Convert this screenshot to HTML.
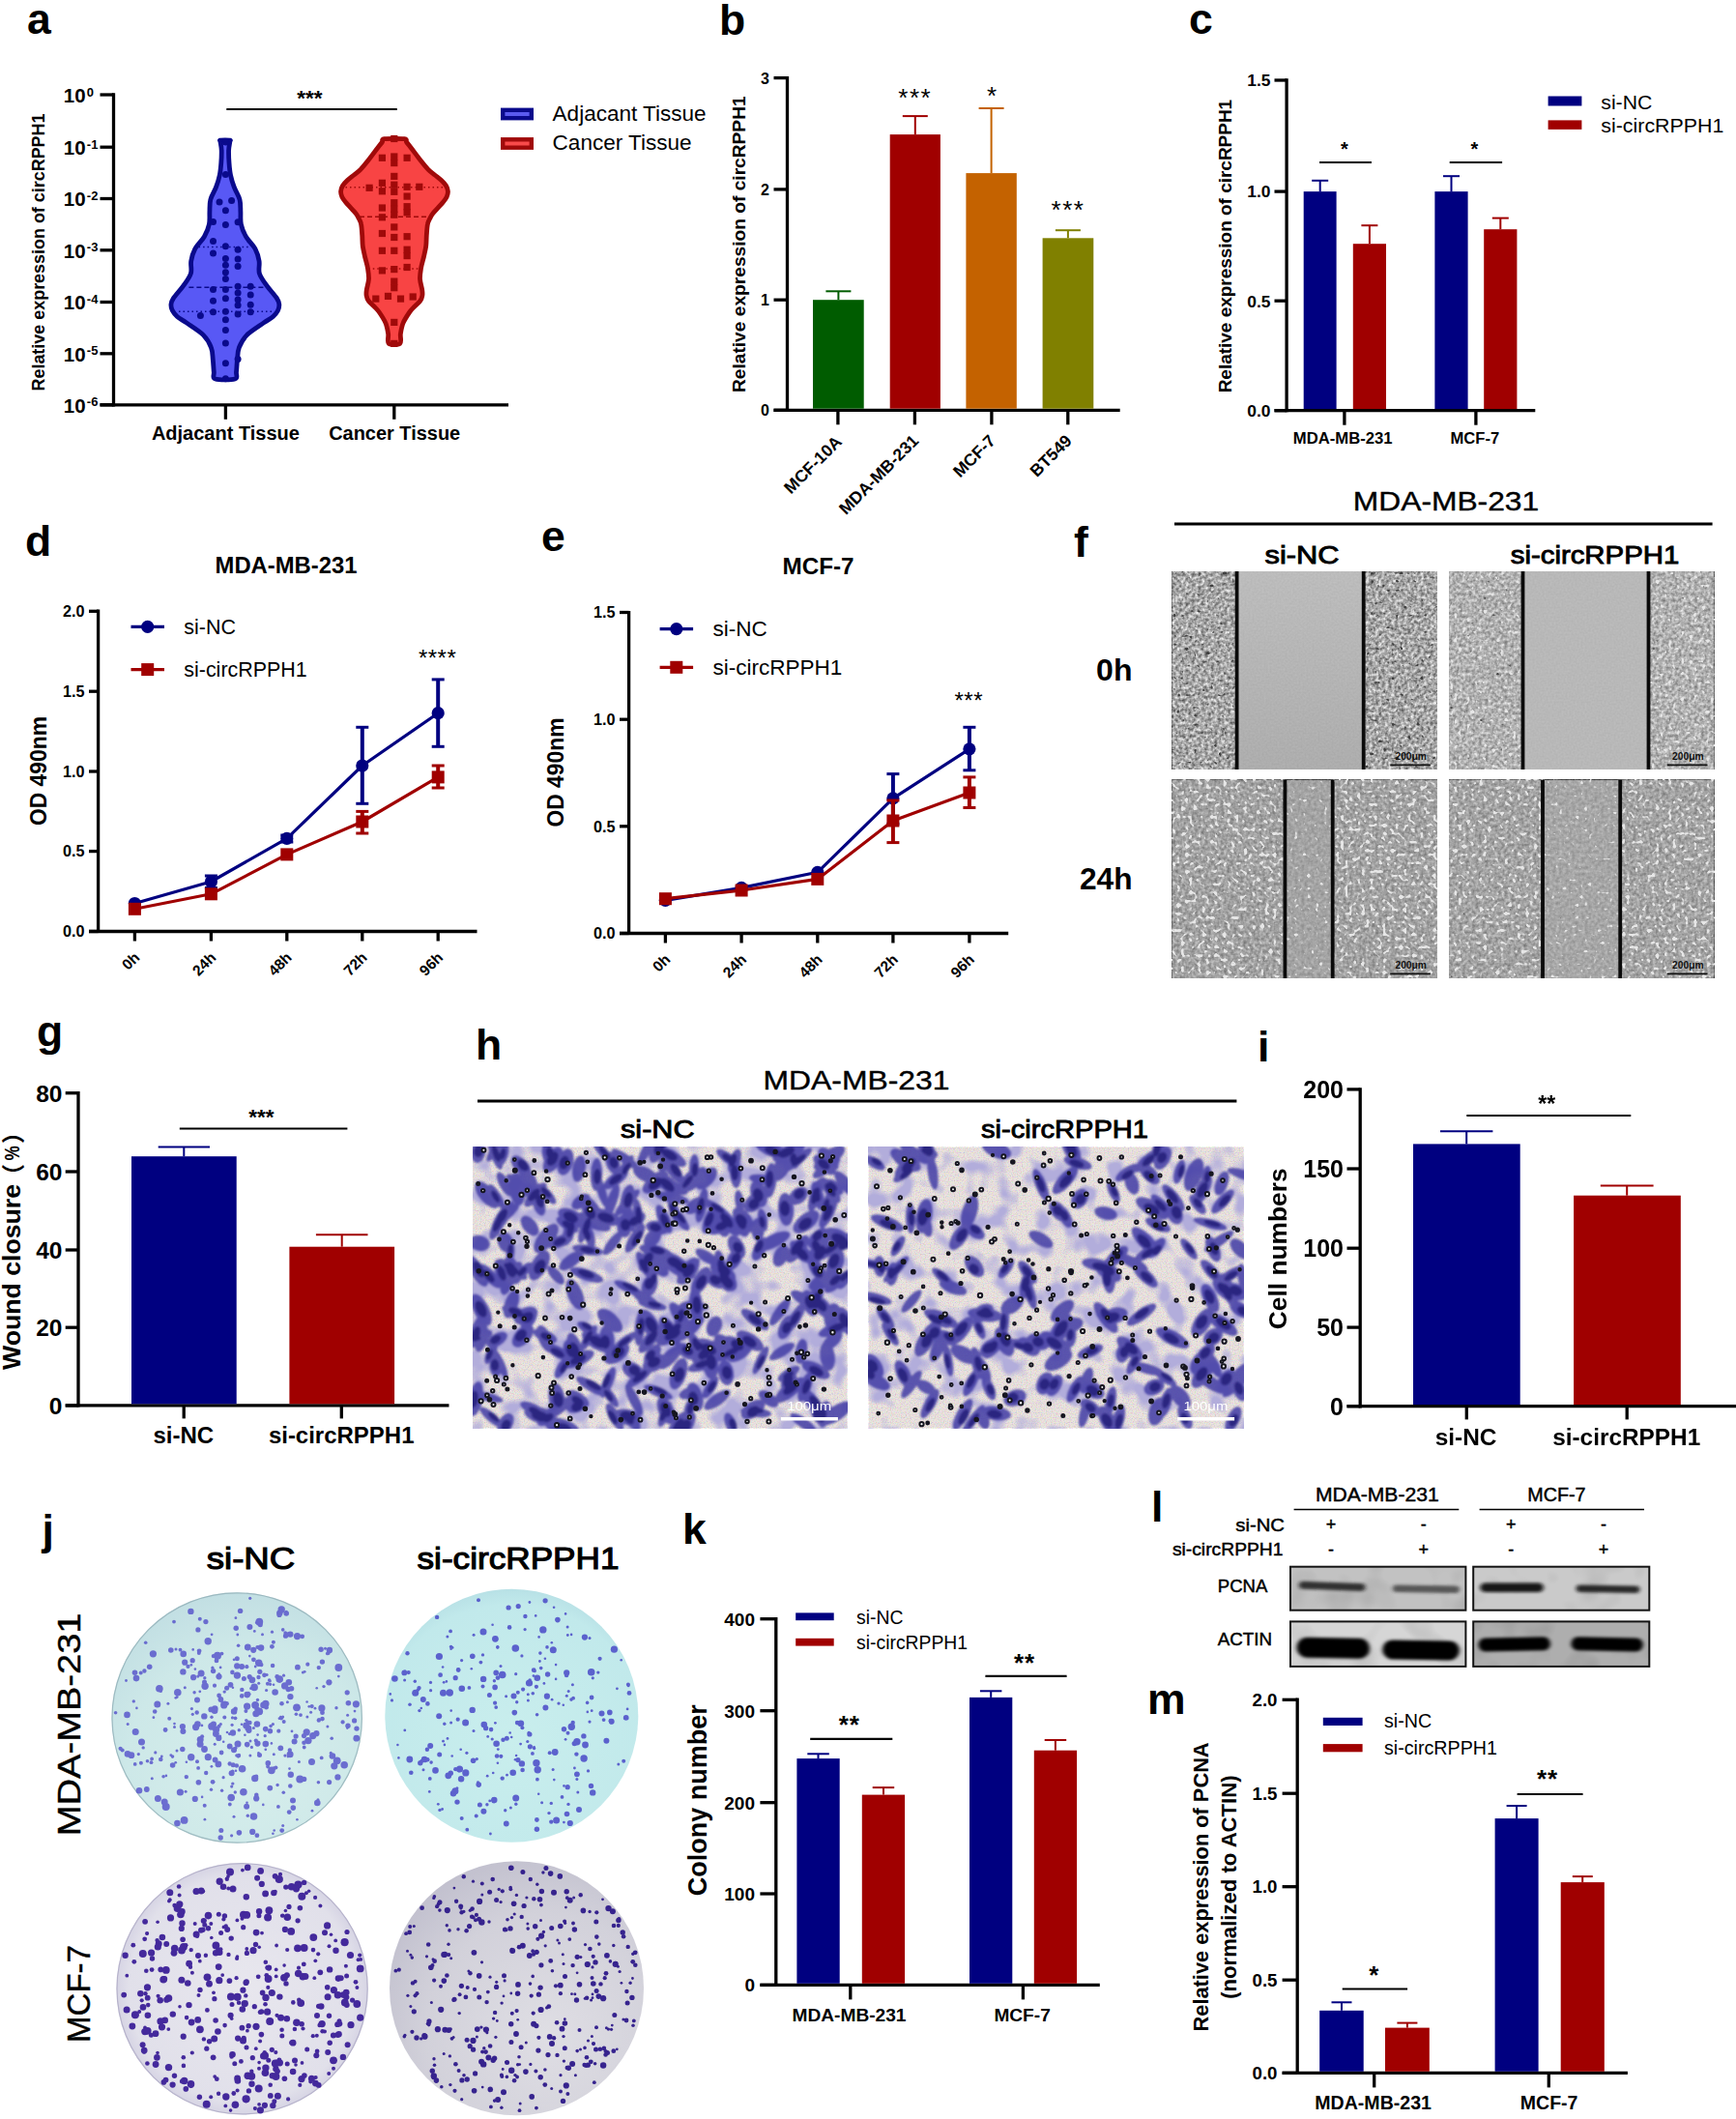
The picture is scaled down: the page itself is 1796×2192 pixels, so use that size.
<!DOCTYPE html>
<html><head><meta charset="utf-8"><title>Figure</title><style>html,body{margin:0;padding:0;background:#fff}svg{display:block}</style></head><body>
<svg width="1796" height="2192" viewBox="0 0 1796 2192" font-family="'Liberation Sans', sans-serif">
<defs><filter id="fA" x="0" y="0" width="100%" height="100%" color-interpolation-filters="sRGB">
<feTurbulence type="fractalNoise" baseFrequency="0.3" numOctaves="2" seed="1" result="n"/>
<feColorMatrix in="n" type="matrix" values="0.9 0 0 0 0.050 0.9 0 0 0 0.050 0.9 0 0 0 0.050 0 0 0 0 1" result="g"/>
<feComposite in="SourceGraphic" in2="g" operator="arithmetic" k1="0" k2="1" k3="1" k4="-0.5" result="base"/>
<feTurbulence type="fractalNoise" baseFrequency="0.23" numOctaves="1" seed="21" result="n2"/>
<feColorMatrix in="n2" type="matrix" values="0 0 0 0 0.9  0 0 0 0 0.9  0 0 0 0 0.9  12 0 0 0 -8.3" result="bright"/>
<feColorMatrix in="n2" type="matrix" values="0 0 0 0 0.25  0 0 0 0 0.25  0 0 0 0 0.25  0 -12 0 0 4.0" result="dark"/>
<feMerge><feMergeNode in="base"/><feMergeNode in="bright"/><feMergeNode in="dark"/></feMerge>
</filter>
<filter id="fB" x="0" y="0" width="100%" height="100%" color-interpolation-filters="sRGB">
<feTurbulence type="fractalNoise" baseFrequency="0.3" numOctaves="2" seed="2" result="n"/>
<feColorMatrix in="n" type="matrix" values="0.6 0 0 0 0.200 0.6 0 0 0 0.200 0.6 0 0 0 0.200 0 0 0 0 1" result="g"/>
<feComposite in="SourceGraphic" in2="g" operator="arithmetic" k1="0" k2="1" k3="1" k4="-0.5" result="base"/>
<feTurbulence type="fractalNoise" baseFrequency="0.23" numOctaves="1" seed="22" result="n2"/>
<feColorMatrix in="n2" type="matrix" values="0 0 0 0 0.9  0 0 0 0 0.9  0 0 0 0 0.9  12 0 0 0 -7.6" result="bright"/>
<feColorMatrix in="n2" type="matrix" values="0 0 0 0 0.25  0 0 0 0 0.25  0 0 0 0 0.25  0 -12 0 0 3.2" result="dark"/>
<feMerge><feMergeNode in="base"/><feMergeNode in="bright"/><feMergeNode in="dark"/></feMerge>
</filter>
<filter id="fC" x="0" y="0" width="100%" height="100%" color-interpolation-filters="sRGB">
<feTurbulence type="fractalNoise" baseFrequency="0.3" numOctaves="2" seed="3" result="n"/>
<feColorMatrix in="n" type="matrix" values="0.45 0 0 0 0.275 0.45 0 0 0 0.275 0.45 0 0 0 0.275 0 0 0 0 1" result="g"/>
<feComposite in="SourceGraphic" in2="g" operator="arithmetic" k1="0" k2="1" k3="1" k4="-0.5" result="base"/>
<feTurbulence type="fractalNoise" baseFrequency="0.23" numOctaves="1" seed="23" result="n2"/>
<feColorMatrix in="n2" type="matrix" values="0 0 0 0 0.9  0 0 0 0 0.9  0 0 0 0 0.9  12 0 0 0 -7.1" result="bright"/>
<feColorMatrix in="n2" type="matrix" values="0 0 0 0 0.25  0 0 0 0 0.25  0 0 0 0 0.25  0 -12 0 0 2.6" result="dark"/>
<feMerge><feMergeNode in="base"/><feMergeNode in="bright"/><feMergeNode in="dark"/></feMerge>
</filter>
<filter id="fD" x="0" y="0" width="100%" height="100%" color-interpolation-filters="sRGB">
<feTurbulence type="fractalNoise" baseFrequency="0.3" numOctaves="2" seed="4" result="n"/>
<feColorMatrix in="n" type="matrix" values="0.45 0 0 0 0.275 0.45 0 0 0 0.275 0.45 0 0 0 0.275 0 0 0 0 1" result="g"/>
<feComposite in="SourceGraphic" in2="g" operator="arithmetic" k1="0" k2="1" k3="1" k4="-0.5" result="base"/>
<feTurbulence type="fractalNoise" baseFrequency="0.23" numOctaves="1" seed="24" result="n2"/>
<feColorMatrix in="n2" type="matrix" values="0 0 0 0 0.9  0 0 0 0 0.9  0 0 0 0 0.9  12 0 0 0 -7.2" result="bright"/>
<feColorMatrix in="n2" type="matrix" values="0 0 0 0 0.25  0 0 0 0 0.25  0 0 0 0 0.25  0 -12 0 0 2.6" result="dark"/>
<feMerge><feMergeNode in="base"/><feMergeNode in="bright"/><feMergeNode in="dark"/></feMerge>
</filter>
<filter id="fAg" x="0" y="0" width="100%" height="100%" color-interpolation-filters="sRGB">
<feTurbulence type="fractalNoise" baseFrequency="0.5" numOctaves="1" seed="11" result="n"/>
<feColorMatrix in="n" type="matrix" values="0.06 0 0 0 0.470 0.06 0 0 0 0.470 0.06 0 0 0 0.470 0 0 0 0 1" result="g"/>
<feComposite in="SourceGraphic" in2="g" operator="arithmetic" k1="0" k2="1" k3="1" k4="-0.5"/>
</filter>
<filter id="fBg" x="0" y="0" width="100%" height="100%" color-interpolation-filters="sRGB">
<feTurbulence type="fractalNoise" baseFrequency="0.5" numOctaves="1" seed="12" result="n"/>
<feColorMatrix in="n" type="matrix" values="0.06 0 0 0 0.470 0.06 0 0 0 0.470 0.06 0 0 0 0.470 0 0 0 0 1" result="g"/>
<feComposite in="SourceGraphic" in2="g" operator="arithmetic" k1="0" k2="1" k3="1" k4="-0.5"/>
</filter>
<filter id="fCg" x="0" y="0" width="100%" height="100%" color-interpolation-filters="sRGB">
<feTurbulence type="fractalNoise" baseFrequency="0.3" numOctaves="2" seed="13" result="n"/>
<feColorMatrix in="n" type="matrix" values="0.25 0 0 0 0.375 0.25 0 0 0 0.375 0.25 0 0 0 0.375 0 0 0 0 1" result="g"/>
<feComposite in="SourceGraphic" in2="g" operator="arithmetic" k1="0" k2="1" k3="1" k4="-0.5" result="base"/>
<feTurbulence type="fractalNoise" baseFrequency="0.23" numOctaves="1" seed="33" result="n2"/>
<feColorMatrix in="n2" type="matrix" values="0 0 0 0 0.9  0 0 0 0 0.9  0 0 0 0 0.9  12 0 0 0 -7.9" result="bright"/>
<feColorMatrix in="n2" type="matrix" values="0 0 0 0 0.25  0 0 0 0 0.25  0 0 0 0 0.25  0 -12 0 0 2.4" result="dark"/>
<feMerge><feMergeNode in="base"/><feMergeNode in="bright"/><feMergeNode in="dark"/></feMerge>
</filter>
<filter id="fDg" x="0" y="0" width="100%" height="100%" color-interpolation-filters="sRGB">
<feTurbulence type="fractalNoise" baseFrequency="0.3" numOctaves="2" seed="14" result="n"/>
<feColorMatrix in="n" type="matrix" values="0.25 0 0 0 0.375 0.25 0 0 0 0.375 0.25 0 0 0 0.375 0 0 0 0 1" result="g"/>
<feComposite in="SourceGraphic" in2="g" operator="arithmetic" k1="0" k2="1" k3="1" k4="-0.5" result="base"/>
<feTurbulence type="fractalNoise" baseFrequency="0.23" numOctaves="1" seed="34" result="n2"/>
<feColorMatrix in="n2" type="matrix" values="0 0 0 0 0.9  0 0 0 0 0.9  0 0 0 0 0.9  12 0 0 0 -8.0" result="bright"/>
<feColorMatrix in="n2" type="matrix" values="0 0 0 0 0.25  0 0 0 0 0.25  0 0 0 0 0.25  0 -12 0 0 2.4" result="dark"/>
<feMerge><feMergeNode in="base"/><feMergeNode in="bright"/><feMergeNode in="dark"/></feMerge>
</filter>
<linearGradient id="gapg" x1="0" y1="0" x2="0" y2="1"><stop offset="0" stop-color="#bcbcbc"/><stop offset="1" stop-color="#adadad"/></linearGradient>
<filter id="hA" x="0" y="0" width="100%" height="100%" color-interpolation-filters="sRGB">
<feTurbulence type="fractalNoise" baseFrequency="0.8" numOctaves="1" seed="16" result="fine"/>
<feColorMatrix in="fine" type="matrix" values="0.55 0 0 0 0.72  0 0.55 0 0 0.70  0 0 0.45 0 0.74  0 0 0 0 1" result="fineg"/>
<feBlend in="SourceGraphic" in2="fineg" mode="multiply" result="bgd"/>
<feTurbulence type="fractalNoise" baseFrequency="0.04" numOctaves="2" seed="11" result="t"/>
<feColorMatrix in="t" type="matrix" values="0 0 0 0 0.70  0 0 0 0 0.68  0 0 0 0 0.86  5 0 0 0 -2.20" result="halo"/>
<feMerge><feMergeNode in="bgd"/><feMergeNode in="halo"/></feMerge>
</filter>
<filter id="hB" x="0" y="0" width="100%" height="100%" color-interpolation-filters="sRGB">
<feTurbulence type="fractalNoise" baseFrequency="0.8" numOctaves="1" seed="28" result="fine"/>
<feColorMatrix in="fine" type="matrix" values="0.55 0 0 0 0.72  0 0.55 0 0 0.70  0 0 0.45 0 0.74  0 0 0 0 1" result="fineg"/>
<feBlend in="SourceGraphic" in2="fineg" mode="multiply" result="bgd"/>
<feTurbulence type="fractalNoise" baseFrequency="0.04" numOctaves="2" seed="23" result="t"/>
<feColorMatrix in="t" type="matrix" values="0 0 0 0 0.70  0 0 0 0 0.68  0 0 0 0 0.86  5 0 0 0 -2.45" result="halo"/>
<feMerge><feMergeNode in="bgd"/><feMergeNode in="halo"/></feMerge>
</filter>
<filter id="cblur" x="-2%" y="-2%" width="104%" height="104%"><feGaussianBlur stdDeviation="1.1"/></filter>
<radialGradient id="dg1" cx="0.55" cy="0.7" r="0.7"><stop offset="0" stop-color="#d6eeec"/><stop offset="0.7" stop-color="#cde8e8"/><stop offset="1" stop-color="#c2dfe3"/></radialGradient>
<radialGradient id="dg2" cx="0.5" cy="0.6" r="0.6"><stop offset="0" stop-color="#c9eeed"/><stop offset="0.9" stop-color="#c1e9eb"/><stop offset="1" stop-color="#b8e1e6"/></radialGradient>
<radialGradient id="dg3" cx="0.5" cy="0.5" r="0.5"><stop offset="0" stop-color="#e8e7ee"/><stop offset="0.9" stop-color="#e1e0ea"/><stop offset="1" stop-color="#d6d4e4"/></radialGradient>
<radialGradient id="dg4" cx="0.62" cy="0.68" r="0.95"><stop offset="0" stop-color="#dfdee4"/><stop offset="0.5" stop-color="#d2d1da"/><stop offset="1" stop-color="#b2b0c3"/></radialGradient>
<radialGradient id="wash"><stop offset="0" stop-color="#e6e0dc" stop-opacity="0.42"/><stop offset="1" stop-color="#ece6dc" stop-opacity="0"/></radialGradient>
<filter id="blur2" x="-5%" y="-50%" width="110%" height="200%"><feGaussianBlur stdDeviation="2.2 1.6"/></filter>
<filter id="bl1" x="0" y="0" width="100%" height="100%" color-interpolation-filters="sRGB"><feTurbulence type="fractalNoise" baseFrequency="0.03" numOctaves="2" seed="5" result="n"/><feColorMatrix in="n" type="matrix" values="0.3 0 0 0 0.85 0.3 0 0 0 0.85 0.3 0 0 0 0.85 0 0 0 0 1" result="g"/><feBlend in="SourceGraphic" in2="g" mode="multiply"/></filter>
<clipPath id="bl1c"><rect x="1335" y="1620.7" width="181.4" height="45"/></clipPath>
<filter id="bl2" x="0" y="0" width="100%" height="100%" color-interpolation-filters="sRGB"><feTurbulence type="fractalNoise" baseFrequency="0.03" numOctaves="2" seed="5" result="n"/><feColorMatrix in="n" type="matrix" values="0.3 0 0 0 0.85 0.3 0 0 0 0.85 0.3 0 0 0 0.85 0 0 0 0 1" result="g"/><feBlend in="SourceGraphic" in2="g" mode="multiply"/></filter>
<clipPath id="bl2c"><rect x="1524.2" y="1620.7" width="182.1" height="45"/></clipPath>
<filter id="bl3" x="0" y="0" width="100%" height="100%" color-interpolation-filters="sRGB"><feTurbulence type="fractalNoise" baseFrequency="0.03" numOctaves="2" seed="5" result="n"/><feColorMatrix in="n" type="matrix" values="0.3 0 0 0 0.85 0.3 0 0 0 0.85 0.3 0 0 0 0.85 0 0 0 0 1" result="g"/><feBlend in="SourceGraphic" in2="g" mode="multiply"/></filter>
<clipPath id="bl3c"><rect x="1335" y="1677.4" width="181.4" height="46.5"/></clipPath>
<filter id="bl4" x="0" y="0" width="100%" height="100%" color-interpolation-filters="sRGB"><feTurbulence type="fractalNoise" baseFrequency="0.03" numOctaves="2" seed="5" result="n"/><feColorMatrix in="n" type="matrix" values="0.3 0 0 0 0.85 0.3 0 0 0 0.85 0.3 0 0 0 0.85 0 0 0 0 1" result="g"/><feBlend in="SourceGraphic" in2="g" mode="multiply"/></filter>
<clipPath id="bl4c"><rect x="1524.2" y="1677.4" width="182.1" height="46.5"/></clipPath></defs>
<rect width="1796" height="2192" fill="#fff"/>
<text x="28.0" y="35.0" font-size="44.5" font-weight="bold" text-anchor="start" fill="#000" >a</text>
<text x="744.0" y="36.0" font-size="44.5" font-weight="bold" text-anchor="start" fill="#000" >b</text>
<text x="1230.0" y="35.0" font-size="44.5" font-weight="bold" text-anchor="start" fill="#000" >c</text>
<text x="26.0" y="575.0" font-size="44.5" font-weight="bold" text-anchor="start" fill="#000" >d</text>
<text x="560.0" y="570.0" font-size="44.5" font-weight="bold" text-anchor="start" fill="#000" >e</text>
<text x="1111.0" y="576.0" font-size="44.5" font-weight="bold" text-anchor="start" fill="#000" >f</text>
<text x="38.0" y="1082.0" font-size="44.5" font-weight="bold" text-anchor="start" fill="#000" >g</text>
<text x="492.0" y="1096.0" font-size="44.5" font-weight="bold" text-anchor="start" fill="#000" >h</text>
<text x="1301.0" y="1098.0" font-size="44.5" font-weight="bold" text-anchor="start" fill="#000" >i</text>
<text x="43.5" y="1598.0" font-size="44.5" font-weight="bold" text-anchor="start" fill="#000" >j</text>
<text x="706.0" y="1597.0" font-size="44.5" font-weight="bold" text-anchor="start" fill="#000" >k</text>
<text x="1191.0" y="1574.0" font-size="44.5" font-weight="bold" text-anchor="start" fill="#000" >l</text>
<text x="1187.0" y="1773.0" font-size="44.5" font-weight="bold" text-anchor="start" fill="#000" >m</text>
<line x1="117.5" y1="96.3" x2="117.5" y2="420.4" stroke="#000" stroke-width="3.3" stroke-linecap="butt"/>
<line x1="103.5" y1="418.8" x2="526.0" y2="418.8" stroke="#000" stroke-width="3.3" stroke-linecap="butt"/>
<line x1="103.5" y1="98.0" x2="117.5" y2="98.0" stroke="#000" stroke-width="3.3" stroke-linecap="butt"/>
<line x1="103.5" y1="152.2" x2="117.5" y2="152.2" stroke="#000" stroke-width="3.3" stroke-linecap="butt"/>
<line x1="103.5" y1="205.5" x2="117.5" y2="205.5" stroke="#000" stroke-width="3.3" stroke-linecap="butt"/>
<line x1="103.5" y1="258.8" x2="117.5" y2="258.8" stroke="#000" stroke-width="3.3" stroke-linecap="butt"/>
<line x1="103.5" y1="312.5" x2="117.5" y2="312.5" stroke="#000" stroke-width="3.3" stroke-linecap="butt"/>
<line x1="103.5" y1="365.8" x2="117.5" y2="365.8" stroke="#000" stroke-width="3.3" stroke-linecap="butt"/>
<line x1="103.5" y1="418.8" x2="117.5" y2="418.8" stroke="#000" stroke-width="3.3" stroke-linecap="butt"/>
<line x1="233.4" y1="418.8" x2="233.4" y2="433.8" stroke="#000" stroke-width="3.3" stroke-linecap="butt"/>
<line x1="407.8" y1="418.8" x2="407.8" y2="433.8" stroke="#000" stroke-width="3.3" stroke-linecap="butt"/>
<text x="88.6" y="105.7" font-size="20.5" font-weight="bold" text-anchor="end" fill="#000" >10</text>
<text x="89.8" y="99.5" font-size="13" font-weight="bold" text-anchor="start" fill="#000" >0</text>
<text x="88.6" y="159.9" font-size="20.5" font-weight="bold" text-anchor="end" fill="#000" >10</text>
<text x="89.8" y="153.7" font-size="13" font-weight="bold" text-anchor="start" fill="#000" >-1</text>
<text x="88.6" y="213.2" font-size="20.5" font-weight="bold" text-anchor="end" fill="#000" >10</text>
<text x="89.8" y="207.0" font-size="13" font-weight="bold" text-anchor="start" fill="#000" >-2</text>
<text x="88.6" y="266.5" font-size="20.5" font-weight="bold" text-anchor="end" fill="#000" >10</text>
<text x="89.8" y="260.3" font-size="13" font-weight="bold" text-anchor="start" fill="#000" >-3</text>
<text x="88.6" y="320.2" font-size="20.5" font-weight="bold" text-anchor="end" fill="#000" >10</text>
<text x="89.8" y="314.0" font-size="13" font-weight="bold" text-anchor="start" fill="#000" >-4</text>
<text x="88.6" y="373.5" font-size="20.5" font-weight="bold" text-anchor="end" fill="#000" >10</text>
<text x="89.8" y="367.3" font-size="13" font-weight="bold" text-anchor="start" fill="#000" >-5</text>
<text x="88.6" y="426.5" font-size="20.5" font-weight="bold" text-anchor="end" fill="#000" >10</text>
<text x="89.8" y="420.3" font-size="13" font-weight="bold" text-anchor="start" fill="#000" >-6</text>
<text x="46.0" y="261.0" font-size="18" font-weight="bold" text-anchor="middle" fill="#000" transform="rotate(-90 46.0 261.0)" textLength="287.0" lengthAdjust="spacingAndGlyphs" >Relative expression of circRPPH1</text>
<text x="233.4" y="455.0" font-size="20" font-weight="bold" text-anchor="middle" fill="#000" textLength="153.0" lengthAdjust="spacingAndGlyphs" >Adjacant Tissue</text>
<text x="408.2" y="455.0" font-size="20" font-weight="bold" text-anchor="middle" fill="#000" textLength="136.0" lengthAdjust="spacingAndGlyphs" >Cancer Tissue</text>
<line x1="234.3" y1="113.0" x2="410.8" y2="113.0" stroke="#000" stroke-width="2.0" stroke-linecap="butt"/>
<text x="320.5" y="109.3" font-size="22.5" font-weight="bold" text-anchor="middle" fill="#000" >***</text>
<path d="M237.5,145.1C239.1,145.4 238.0,144.8 237.8,146.6C237.7,148.3 236.7,151.9 236.6,155.5C236.5,159.1 236.7,164.0 237.0,168.2C237.3,172.5 237.6,176.7 238.5,181.0C239.4,185.2 240.7,189.5 242.3,193.7C243.9,198.0 246.9,202.2 248.0,206.5C249.1,210.7 248.7,215.0 248.9,219.2C249.1,223.5 248.5,227.7 249.4,231.9C250.3,236.2 252.0,240.4 254.4,244.7C256.8,248.9 261.7,253.2 264.0,257.4C266.3,261.7 267.4,265.9 268.1,270.2C268.8,274.4 267.1,278.7 268.4,282.9C269.7,287.2 273.1,291.4 276.1,295.7C279.1,299.9 284.2,305.2 286.3,308.4C288.4,311.6 288.6,312.7 288.8,314.8C289.0,316.9 288.6,319.0 287.5,321.2C286.4,323.3 284.9,325.4 282.5,327.5C280.1,329.7 277.4,330.7 272.9,333.9C268.4,337.1 259.6,342.4 255.4,346.6C251.2,350.9 249.1,355.1 247.4,359.4C245.8,363.6 246.0,367.9 245.5,372.1C245.0,376.4 244.9,381.6 244.5,384.9C244.1,388.2 246.6,390.8 243.0,392.0C239.4,393.2 226.4,393.2 222.8,392.0C219.2,390.8 221.7,388.2 221.3,384.9C220.9,381.6 220.8,376.4 220.3,372.1C219.8,367.9 220.1,363.6 218.4,359.4C216.8,355.1 214.7,350.9 210.4,346.6C206.2,342.4 197.4,337.1 192.9,333.9C188.4,330.7 185.7,329.7 183.3,327.5C180.9,325.4 179.4,323.3 178.3,321.2C177.2,319.0 176.8,316.9 177.0,314.8C177.2,312.7 177.4,311.6 179.5,308.4C181.6,305.2 186.7,299.9 189.7,295.7C192.7,291.4 196.1,287.2 197.4,282.9C198.7,278.7 197.0,274.4 197.7,270.2C198.4,265.9 199.5,261.7 201.8,257.4C204.1,253.2 209.0,248.9 211.4,244.7C213.8,240.4 215.5,236.2 216.4,231.9C217.3,227.7 216.7,223.5 216.9,219.2C217.1,215.0 216.7,210.7 217.8,206.5C218.9,202.2 221.9,198.0 223.5,193.7C225.1,189.5 226.4,185.2 227.3,181.0C228.2,176.7 228.5,172.5 228.8,168.2C229.1,164.0 229.3,159.1 229.2,155.5C229.1,151.9 228.2,148.3 228.0,146.6C227.8,144.8 226.7,145.4 228.3,145.1C229.9,144.9 235.9,144.9 237.5,145.1Z" fill="#5858f5" stroke="#0a0a8c" stroke-width="4.8" stroke-linejoin="round"/>
<path d="M418.3,143.7C422.1,144.3 419.5,145.5 420.6,147.0C421.7,148.5 422.9,149.8 425.1,152.7C427.3,155.5 430.6,160.2 433.6,164.0C436.6,167.8 440.3,172.5 443.0,175.3C445.7,178.1 447.5,179.1 449.8,181.0C452.1,182.9 454.6,184.7 456.6,186.6C458.6,188.5 460.5,190.4 461.6,192.3C462.7,194.2 463.3,196.1 463.4,198.0C463.5,199.8 463.0,201.7 462.2,203.6C461.4,205.5 460.6,206.5 458.3,209.3C456.0,212.1 450.4,217.8 448.1,220.6C445.8,223.4 445.6,224.4 444.6,226.3C443.7,228.2 442.9,229.1 442.4,231.9C441.8,234.8 441.6,239.5 441.3,243.3C441.0,247.0 441.2,250.8 440.7,254.6C440.2,258.4 439.2,262.1 438.4,265.9C437.5,269.7 436.2,273.5 435.6,277.2C435.0,281.0 434.3,284.8 434.5,288.6C434.7,292.3 436.3,297.1 436.7,299.9C437.1,302.7 437.2,303.7 436.9,305.6C436.6,307.4 436.1,309.3 434.8,311.2C433.5,313.1 430.9,315.0 429.1,316.9C427.3,318.8 426.0,319.7 424.0,322.5C422.0,325.4 418.8,330.1 417.2,333.9C415.6,337.6 415.0,341.6 414.4,345.2C413.8,348.8 415.8,353.6 413.8,355.3C411.8,356.9 404.2,356.9 402.2,355.3C400.2,353.6 402.2,348.8 401.6,345.2C401.0,341.6 400.4,337.6 398.8,333.9C397.2,330.1 394.0,325.4 392.0,322.5C390.0,319.7 388.7,318.8 386.9,316.9C385.1,315.0 382.5,313.1 381.2,311.2C379.9,309.3 379.4,307.4 379.1,305.6C378.8,303.7 378.9,302.7 379.3,299.9C379.7,297.1 381.3,292.3 381.5,288.6C381.7,284.8 381.0,281.0 380.4,277.2C379.8,273.5 378.5,269.7 377.6,265.9C376.8,262.1 375.8,258.4 375.3,254.6C374.8,250.8 375.0,247.0 374.7,243.3C374.4,239.5 374.2,234.8 373.6,231.9C373.1,229.1 372.3,228.2 371.4,226.3C370.4,224.4 370.2,223.4 367.9,220.6C365.6,217.8 360.0,212.1 357.7,209.3C355.4,206.5 354.6,205.5 353.8,203.6C353.0,201.7 352.5,199.8 352.6,198.0C352.7,196.1 353.3,194.2 354.4,192.3C355.5,190.4 357.4,188.5 359.4,186.6C361.4,184.7 363.9,182.9 366.2,181.0C368.5,179.1 370.3,178.1 373.0,175.3C375.7,172.5 379.4,167.8 382.4,164.0C385.4,160.2 388.7,155.5 390.9,152.7C393.1,149.8 394.3,148.5 395.4,147.0C396.5,145.5 393.9,144.3 397.7,143.7C401.5,143.2 414.5,143.2 418.3,143.7Z" fill="#f84444" stroke="#a00a0a" stroke-width="4.8" stroke-linejoin="round"/>
<line x1="201.1" y1="255.4" x2="258.7" y2="255.4" stroke="#0a0a8c" stroke-width="1.5" stroke-dasharray="1.5,3"/>
<line x1="195.4" y1="297.3" x2="273.7" y2="297.3" stroke="#0a0a8c" stroke-width="1.5" stroke-dasharray="5,3"/>
<line x1="185.0" y1="322.2" x2="282.9" y2="322.2" stroke="#0a0a8c" stroke-width="1.5" stroke-dasharray="1.5,3"/>
<line x1="357.5" y1="193.8" x2="458.1" y2="193.8" stroke="#a00a0a" stroke-width="1.5" stroke-dasharray="1.5,3"/>
<line x1="372.0" y1="224.3" x2="443.6" y2="224.3" stroke="#a00a0a" stroke-width="1.5" stroke-dasharray="5,3"/>
<line x1="381.3" y1="278.1" x2="433.0" y2="278.1" stroke="#a00a0a" stroke-width="1.5" stroke-dasharray="1.5,3"/>
<circle cx="233.4" cy="147.1" r="3.5" fill="#0a0a8c"/>
<circle cx="233.4" cy="180.5" r="3.5" fill="#0a0a8c"/>
<circle cx="227.0" cy="209.1" r="3.5" fill="#0a0a8c"/>
<circle cx="239.6" cy="207.5" r="3.5" fill="#0a0a8c"/>
<circle cx="233.4" cy="217.8" r="3.5" fill="#0a0a8c"/>
<circle cx="220.5" cy="229.4" r="3.5" fill="#0a0a8c"/>
<circle cx="233.4" cy="232.4" r="3.5" fill="#0a0a8c"/>
<circle cx="246.1" cy="229.8" r="3.5" fill="#0a0a8c"/>
<circle cx="220.5" cy="249.6" r="3.5" fill="#0a0a8c"/>
<circle cx="233.4" cy="254.7" r="3.5" fill="#0a0a8c"/>
<circle cx="220.5" cy="262.1" r="3.5" fill="#0a0a8c"/>
<circle cx="246.1" cy="258.2" r="3.5" fill="#0a0a8c"/>
<circle cx="233.4" cy="267.4" r="3.5" fill="#0a0a8c"/>
<circle cx="246.1" cy="268.1" r="3.5" fill="#0a0a8c"/>
<circle cx="233.4" cy="274.3" r="3.5" fill="#0a0a8c"/>
<circle cx="246.1" cy="275.4" r="3.5" fill="#0a0a8c"/>
<circle cx="233.4" cy="281.7" r="3.5" fill="#0a0a8c"/>
<circle cx="233.4" cy="288.6" r="3.5" fill="#0a0a8c"/>
<circle cx="220.5" cy="299.6" r="3.5" fill="#0a0a8c"/>
<circle cx="233.4" cy="299.6" r="3.5" fill="#0a0a8c"/>
<circle cx="246.1" cy="296.2" r="3.5" fill="#0a0a8c"/>
<circle cx="259.2" cy="296.2" r="3.5" fill="#0a0a8c"/>
<circle cx="246.1" cy="303.1" r="3.5" fill="#0a0a8c"/>
<circle cx="259.2" cy="304.9" r="3.5" fill="#0a0a8c"/>
<circle cx="220.5" cy="311.2" r="3.5" fill="#0a0a8c"/>
<circle cx="233.4" cy="308.8" r="3.5" fill="#0a0a8c"/>
<circle cx="246.1" cy="310.0" r="3.5" fill="#0a0a8c"/>
<circle cx="246.1" cy="315.8" r="3.5" fill="#0a0a8c"/>
<circle cx="259.2" cy="315.3" r="3.5" fill="#0a0a8c"/>
<circle cx="207.4" cy="326.6" r="3.5" fill="#0a0a8c"/>
<circle cx="220.5" cy="322.7" r="3.5" fill="#0a0a8c"/>
<circle cx="233.4" cy="322.2" r="3.5" fill="#0a0a8c"/>
<circle cx="246.1" cy="325.0" r="3.5" fill="#0a0a8c"/>
<circle cx="259.2" cy="322.7" r="3.5" fill="#0a0a8c"/>
<circle cx="233.4" cy="330.7" r="3.5" fill="#0a0a8c"/>
<circle cx="233.4" cy="341.6" r="3.5" fill="#0a0a8c"/>
<circle cx="233.4" cy="354.9" r="3.5" fill="#0a0a8c"/>
<circle cx="246.1" cy="371.5" r="3.5" fill="#0a0a8c"/>
<circle cx="233.4" cy="375.7" r="3.5" fill="#0a0a8c"/>
<circle cx="233.4" cy="391.8" r="3.5" fill="#0a0a8c"/>
<rect x="404.2" y="139.9" width="7.2" height="7.2" fill="#a00a0a"/>
<rect x="391.8" y="159.7" width="7.2" height="7.2" fill="#a00a0a"/>
<rect x="404.2" y="158.4" width="7.2" height="7.2" fill="#a00a0a"/>
<rect x="404.2" y="165.0" width="7.2" height="7.2" fill="#a00a0a"/>
<rect x="417.5" y="159.7" width="7.2" height="7.2" fill="#a00a0a"/>
<rect x="404.2" y="178.8" width="7.2" height="7.2" fill="#a00a0a"/>
<rect x="378.5" y="190.7" width="7.2" height="7.2" fill="#a00a0a"/>
<rect x="391.8" y="185.7" width="7.2" height="7.2" fill="#a00a0a"/>
<rect x="391.8" y="194.2" width="7.2" height="7.2" fill="#a00a0a"/>
<rect x="404.2" y="187.6" width="7.2" height="7.2" fill="#a00a0a"/>
<rect x="404.2" y="194.7" width="7.2" height="7.2" fill="#a00a0a"/>
<rect x="417.5" y="189.7" width="7.2" height="7.2" fill="#a00a0a"/>
<rect x="430.2" y="189.7" width="7.2" height="7.2" fill="#a00a0a"/>
<rect x="417.5" y="199.5" width="7.2" height="7.2" fill="#a00a0a"/>
<rect x="404.2" y="206.1" width="7.2" height="7.2" fill="#a00a0a"/>
<rect x="404.2" y="212.7" width="7.2" height="7.2" fill="#a00a0a"/>
<rect x="404.2" y="218.6" width="7.2" height="7.2" fill="#a00a0a"/>
<rect x="391.8" y="211.4" width="7.2" height="7.2" fill="#a00a0a"/>
<rect x="391.8" y="221.2" width="7.2" height="7.2" fill="#a00a0a"/>
<rect x="417.5" y="210.1" width="7.2" height="7.2" fill="#a00a0a"/>
<rect x="417.5" y="216.2" width="7.2" height="7.2" fill="#a00a0a"/>
<rect x="404.2" y="231.3" width="7.2" height="7.2" fill="#a00a0a"/>
<rect x="391.8" y="237.9" width="7.2" height="7.2" fill="#a00a0a"/>
<rect x="404.2" y="241.9" width="7.2" height="7.2" fill="#a00a0a"/>
<rect x="417.5" y="241.1" width="7.2" height="7.2" fill="#a00a0a"/>
<rect x="391.8" y="255.7" width="7.2" height="7.2" fill="#a00a0a"/>
<rect x="404.2" y="255.7" width="7.2" height="7.2" fill="#a00a0a"/>
<rect x="417.5" y="254.6" width="7.2" height="7.2" fill="#a00a0a"/>
<rect x="417.5" y="261.0" width="7.2" height="7.2" fill="#a00a0a"/>
<rect x="391.8" y="276.3" width="7.2" height="7.2" fill="#a00a0a"/>
<rect x="404.2" y="275.0" width="7.2" height="7.2" fill="#a00a0a"/>
<rect x="417.5" y="272.9" width="7.2" height="7.2" fill="#a00a0a"/>
<rect x="404.2" y="287.5" width="7.2" height="7.2" fill="#a00a0a"/>
<rect x="404.2" y="294.1" width="7.2" height="7.2" fill="#a00a0a"/>
<rect x="385.2" y="305.5" width="7.2" height="7.2" fill="#a00a0a"/>
<rect x="397.9" y="302.8" width="7.2" height="7.2" fill="#a00a0a"/>
<rect x="410.9" y="305.5" width="7.2" height="7.2" fill="#a00a0a"/>
<rect x="423.6" y="303.4" width="7.2" height="7.2" fill="#a00a0a"/>
<rect x="404.2" y="329.8" width="7.2" height="7.2" fill="#a00a0a"/>
<rect x="404.2" y="351.8" width="7.2" height="7.2" fill="#a00a0a"/>
<rect x="520.2" y="113.8" width="29.6" height="8.4" fill="#5a5af0" stroke="#0a0a8c" stroke-width="4.4"/>
<rect x="520.2" y="144.3" width="29.6" height="8.4" fill="#f84a4a" stroke="#a00a0a" stroke-width="4.4"/>
<text x="571.6" y="125.0" font-size="22" font-weight="normal" text-anchor="start" fill="#000" textLength="159.0" lengthAdjust="spacingAndGlyphs" >Adjacant Tissue</text>
<text x="571.6" y="155.4" font-size="22" font-weight="normal" text-anchor="start" fill="#000" textLength="144.0" lengthAdjust="spacingAndGlyphs" >Cancer Tissue</text>
<line x1="814.5" y1="78.9" x2="814.5" y2="425.9" stroke="#000" stroke-width="3.3" stroke-linecap="butt"/>
<line x1="800.5" y1="424.3" x2="1158.7" y2="424.3" stroke="#000" stroke-width="3.3" stroke-linecap="butt"/>
<line x1="800.5" y1="80.6" x2="814.5" y2="80.6" stroke="#000" stroke-width="3.3" stroke-linecap="butt"/>
<line x1="800.5" y1="195.9" x2="814.5" y2="195.9" stroke="#000" stroke-width="3.3" stroke-linecap="butt"/>
<line x1="800.5" y1="310.2" x2="814.5" y2="310.2" stroke="#000" stroke-width="3.3" stroke-linecap="butt"/>
<line x1="800.5" y1="424.3" x2="814.5" y2="424.3" stroke="#000" stroke-width="3.3" stroke-linecap="butt"/>
<line x1="866.9" y1="424.3" x2="866.9" y2="439.3" stroke="#000" stroke-width="3.3" stroke-linecap="butt"/>
<line x1="946.4" y1="424.3" x2="946.4" y2="439.3" stroke="#000" stroke-width="3.3" stroke-linecap="butt"/>
<line x1="1025.9" y1="424.3" x2="1025.9" y2="439.3" stroke="#000" stroke-width="3.3" stroke-linecap="butt"/>
<line x1="1104.8" y1="424.3" x2="1104.8" y2="439.3" stroke="#000" stroke-width="3.3" stroke-linecap="butt"/>
<text x="796.0" y="86.6" font-size="16" font-weight="bold" text-anchor="end" fill="#000" >3</text>
<text x="796.0" y="201.9" font-size="16" font-weight="bold" text-anchor="end" fill="#000" >2</text>
<text x="796.0" y="316.2" font-size="16" font-weight="bold" text-anchor="end" fill="#000" >1</text>
<text x="796.0" y="430.3" font-size="16" font-weight="bold" text-anchor="end" fill="#000" >0</text>
<text x="771.0" y="252.7" font-size="19" font-weight="bold" text-anchor="middle" fill="#000" transform="rotate(-90 771.0 252.7)" textLength="306.7" lengthAdjust="spacingAndGlyphs" >Relative expression of circRPPH1</text>
<line x1="867.4" y1="301.3" x2="867.4" y2="310.2" stroke="#005c00" stroke-width="2.0" stroke-linecap="butt"/>
<line x1="854.4" y1="301.3" x2="880.4" y2="301.3" stroke="#005c00" stroke-width="2.0" stroke-linecap="butt"/>
<rect x="841.0" y="310.2" width="52.7" height="112.5" fill="#005c00" />
<line x1="946.8" y1="120.1" x2="946.8" y2="139.1" stroke="#a00000" stroke-width="2.0" stroke-linecap="butt"/>
<line x1="933.8" y1="120.1" x2="959.8" y2="120.1" stroke="#a00000" stroke-width="2.0" stroke-linecap="butt"/>
<rect x="920.7" y="139.1" width="52.2" height="283.6" fill="#a00000" />
<line x1="1025.6" y1="112.0" x2="1025.6" y2="179.1" stroke="#c46200" stroke-width="2.0" stroke-linecap="butt"/>
<line x1="1012.6" y1="112.0" x2="1038.6" y2="112.0" stroke="#c46200" stroke-width="2.0" stroke-linecap="butt"/>
<rect x="999.4" y="179.1" width="52.4" height="243.6" fill="#c46200" />
<line x1="1104.9" y1="238.2" x2="1104.9" y2="246.3" stroke="#808000" stroke-width="2.0" stroke-linecap="butt"/>
<line x1="1091.9" y1="238.2" x2="1117.9" y2="238.2" stroke="#808000" stroke-width="2.0" stroke-linecap="butt"/>
<rect x="1078.6" y="246.3" width="52.7" height="176.4" fill="#808000" />
<text x="946.8" y="110.0" font-size="26" font-weight="normal" text-anchor="middle" fill="#000" letter-spacing="1.5">***</text>
<text x="1026.0" y="108.0" font-size="26" font-weight="normal" text-anchor="middle" fill="#000" >*</text>
<text x="1105.0" y="226.0" font-size="26" font-weight="normal" text-anchor="middle" fill="#000" letter-spacing="1.5">***</text>
<text x="872.0" y="458.0" font-size="17.5" font-weight="bold" text-anchor="end" fill="#000" transform="rotate(-45 872.0 458.0)" >MCF-10A</text>
<text x="951.5" y="457.0" font-size="17.5" font-weight="bold" text-anchor="end" fill="#000" transform="rotate(-45 951.5 457.0)" >MDA-MB-231</text>
<text x="1031.0" y="457.0" font-size="17.5" font-weight="bold" text-anchor="end" fill="#000" transform="rotate(-45 1031.0 457.0)" >MCF-7</text>
<text x="1110.0" y="457.0" font-size="17.5" font-weight="bold" text-anchor="end" fill="#000" transform="rotate(-45 1110.0 457.0)" >BT549</text>
<line x1="1331.1" y1="81.3" x2="1331.1" y2="426.3" stroke="#000" stroke-width="3.3" stroke-linecap="butt"/>
<line x1="1318.5" y1="424.7" x2="1588.3" y2="424.7" stroke="#000" stroke-width="3.3" stroke-linecap="butt"/>
<line x1="1318.5" y1="83.0" x2="1331.1" y2="83.0" stroke="#000" stroke-width="3.3" stroke-linecap="butt"/>
<line x1="1318.5" y1="198.1" x2="1331.1" y2="198.1" stroke="#000" stroke-width="3.3" stroke-linecap="butt"/>
<line x1="1318.5" y1="311.2" x2="1331.1" y2="311.2" stroke="#000" stroke-width="3.3" stroke-linecap="butt"/>
<line x1="1318.5" y1="424.7" x2="1331.1" y2="424.7" stroke="#000" stroke-width="3.3" stroke-linecap="butt"/>
<line x1="1390.9" y1="424.7" x2="1390.9" y2="439.7" stroke="#000" stroke-width="3.3" stroke-linecap="butt"/>
<line x1="1526.9" y1="424.7" x2="1526.9" y2="439.7" stroke="#000" stroke-width="3.3" stroke-linecap="butt"/>
<text x="1314.5" y="89.3" font-size="17.4" font-weight="bold" text-anchor="end" fill="#000" >1.5</text>
<text x="1314.5" y="204.4" font-size="17.4" font-weight="bold" text-anchor="end" fill="#000" >1.0</text>
<text x="1314.5" y="317.5" font-size="17.4" font-weight="bold" text-anchor="end" fill="#000" >0.5</text>
<text x="1314.5" y="431.0" font-size="17.4" font-weight="bold" text-anchor="end" fill="#000" >0.0</text>
<text x="1274.0" y="254.6" font-size="19" font-weight="bold" text-anchor="middle" fill="#000" transform="rotate(-90 1274.0 254.6)" textLength="303.5" lengthAdjust="spacingAndGlyphs" >Relative expression of circRPPH1</text>
<line x1="1365.7" y1="186.8" x2="1365.7" y2="198.1" stroke="#000080" stroke-width="2.0" stroke-linecap="butt"/>
<line x1="1357.2" y1="186.8" x2="1374.2" y2="186.8" stroke="#000080" stroke-width="2.0" stroke-linecap="butt"/>
<rect x="1348.7" y="198.1" width="33.9" height="225.0" fill="#000080" />
<line x1="1416.9" y1="233.2" x2="1416.9" y2="252.2" stroke="#a00000" stroke-width="2.0" stroke-linecap="butt"/>
<line x1="1408.4" y1="233.2" x2="1425.4" y2="233.2" stroke="#a00000" stroke-width="2.0" stroke-linecap="butt"/>
<rect x="1399.8" y="252.2" width="34.2" height="170.9" fill="#a00000" />
<line x1="1501.5" y1="182.2" x2="1501.5" y2="198.1" stroke="#000080" stroke-width="2.0" stroke-linecap="butt"/>
<line x1="1493.0" y1="182.2" x2="1510.0" y2="182.2" stroke="#000080" stroke-width="2.0" stroke-linecap="butt"/>
<rect x="1484.4" y="198.1" width="34.2" height="225.0" fill="#000080" />
<line x1="1552.3" y1="225.6" x2="1552.3" y2="237.2" stroke="#a00000" stroke-width="2.0" stroke-linecap="butt"/>
<line x1="1543.8" y1="225.6" x2="1560.8" y2="225.6" stroke="#a00000" stroke-width="2.0" stroke-linecap="butt"/>
<rect x="1535.2" y="237.2" width="34.2" height="185.9" fill="#a00000" />
<line x1="1365.0" y1="167.9" x2="1419.0" y2="167.9" stroke="#000" stroke-width="2.0" stroke-linecap="butt"/>
<line x1="1499.7" y1="167.9" x2="1554.1" y2="167.9" stroke="#000" stroke-width="2.0" stroke-linecap="butt"/>
<text x="1391.0" y="161.0" font-size="20" font-weight="bold" text-anchor="middle" fill="#000" >*</text>
<text x="1525.5" y="161.0" font-size="20" font-weight="bold" text-anchor="middle" fill="#000" >*</text>
<text x="1389.2" y="458.9" font-size="16.7" font-weight="bold" text-anchor="middle" fill="#000" textLength="102.8" lengthAdjust="spacingAndGlyphs" >MDA-MB-231</text>
<text x="1525.8" y="458.9" font-size="16.7" font-weight="bold" text-anchor="middle" fill="#000" textLength="50.7" lengthAdjust="spacingAndGlyphs" >MCF-7</text>
<rect x="1601.6" y="99.5" width="34.8" height="10.0" fill="#000080" />
<rect x="1601.6" y="124.4" width="34.8" height="9.5" fill="#a00000" />
<text x="1656.3" y="112.8" font-size="21" font-weight="normal" text-anchor="start" fill="#000" textLength="53.0" lengthAdjust="spacingAndGlyphs" >si-NC</text>
<text x="1656.3" y="136.7" font-size="21" font-weight="normal" text-anchor="start" fill="#000" textLength="127.0" lengthAdjust="spacingAndGlyphs" >si-circRPPH1</text>
<line x1="101.6" y1="630.6" x2="101.6" y2="965.1" stroke="#000" stroke-width="3.3" stroke-linecap="butt"/>
<line x1="92.0" y1="963.5" x2="493.5" y2="963.5" stroke="#000" stroke-width="3.3" stroke-linecap="butt"/>
<line x1="92.0" y1="632.3" x2="101.6" y2="632.3" stroke="#000" stroke-width="3.3" stroke-linecap="butt"/>
<line x1="92.0" y1="715.2" x2="101.6" y2="715.2" stroke="#000" stroke-width="3.3" stroke-linecap="butt"/>
<line x1="92.0" y1="798.0" x2="101.6" y2="798.0" stroke="#000" stroke-width="3.3" stroke-linecap="butt"/>
<line x1="92.0" y1="880.6" x2="101.6" y2="880.6" stroke="#000" stroke-width="3.3" stroke-linecap="butt"/>
<line x1="92.0" y1="963.5" x2="101.6" y2="963.5" stroke="#000" stroke-width="3.3" stroke-linecap="butt"/>
<line x1="139.4" y1="963.5" x2="139.4" y2="973.5" stroke="#000" stroke-width="3.3" stroke-linecap="butt"/>
<line x1="218.4" y1="963.5" x2="218.4" y2="973.5" stroke="#000" stroke-width="3.3" stroke-linecap="butt"/>
<line x1="296.8" y1="963.5" x2="296.8" y2="973.5" stroke="#000" stroke-width="3.3" stroke-linecap="butt"/>
<line x1="374.8" y1="963.5" x2="374.8" y2="973.5" stroke="#000" stroke-width="3.3" stroke-linecap="butt"/>
<line x1="453.2" y1="963.5" x2="453.2" y2="973.5" stroke="#000" stroke-width="3.3" stroke-linecap="butt"/>
<text x="87.4" y="638.1" font-size="16.2" font-weight="bold" text-anchor="end" fill="#000" >2.0</text>
<text x="87.4" y="721.0" font-size="16.2" font-weight="bold" text-anchor="end" fill="#000" >1.5</text>
<text x="87.4" y="803.8" font-size="16.2" font-weight="bold" text-anchor="end" fill="#000" >1.0</text>
<text x="87.4" y="886.4" font-size="16.2" font-weight="bold" text-anchor="end" fill="#000" >0.5</text>
<text x="87.4" y="969.3" font-size="16.2" font-weight="bold" text-anchor="end" fill="#000" >0.0</text>
<text x="145.4" y="991.5" font-size="15.5" font-weight="bold" text-anchor="end" fill="#000" transform="rotate(-45 145.4 991.5)" >0h</text>
<text x="224.4" y="991.5" font-size="15.5" font-weight="bold" text-anchor="end" fill="#000" transform="rotate(-45 224.4 991.5)" >24h</text>
<text x="302.8" y="991.5" font-size="15.5" font-weight="bold" text-anchor="end" fill="#000" transform="rotate(-45 302.8 991.5)" >48h</text>
<text x="380.8" y="991.5" font-size="15.5" font-weight="bold" text-anchor="end" fill="#000" transform="rotate(-45 380.8 991.5)" >72h</text>
<text x="459.2" y="991.5" font-size="15.5" font-weight="bold" text-anchor="end" fill="#000" transform="rotate(-45 459.2 991.5)" >96h</text>
<text x="296.0" y="592.6" font-size="24" font-weight="bold" text-anchor="middle" fill="#000" textLength="146.8" lengthAdjust="spacingAndGlyphs" >MDA-MB-231</text>
<text x="48.0" y="797.5" font-size="23" font-weight="bold" text-anchor="middle" fill="#000" transform="rotate(-90 48.0 797.5)" textLength="113.0" lengthAdjust="spacingAndGlyphs" >OD 490nm</text>
<polyline points="139.4,934.5 218.4,912.0 296.8,867.4 374.8,792.0 453.2,737.7" fill="none" stroke="#000080" stroke-width="3.2" stroke-linejoin="round"/>
<circle cx="139.4" cy="934.5" r="6.6" fill="#000080"/>
<line x1="218.4" y1="906.0" x2="218.4" y2="918.5" stroke="#000080" stroke-width="4" stroke-linecap="butt"/>
<line x1="211.9" y1="906.0" x2="224.9" y2="906.0" stroke="#000080" stroke-width="3" stroke-linecap="butt"/>
<line x1="211.9" y1="918.5" x2="224.9" y2="918.5" stroke="#000080" stroke-width="3" stroke-linecap="butt"/>
<circle cx="218.4" cy="912.0" r="6.6" fill="#000080"/>
<line x1="296.8" y1="864.0" x2="296.8" y2="871.0" stroke="#000080" stroke-width="4" stroke-linecap="butt"/>
<line x1="290.3" y1="864.0" x2="303.3" y2="864.0" stroke="#000080" stroke-width="3" stroke-linecap="butt"/>
<line x1="290.3" y1="871.0" x2="303.3" y2="871.0" stroke="#000080" stroke-width="3" stroke-linecap="butt"/>
<circle cx="296.8" cy="867.4" r="6.6" fill="#000080"/>
<line x1="374.8" y1="752.3" x2="374.8" y2="831.3" stroke="#000080" stroke-width="4" stroke-linecap="butt"/>
<line x1="368.3" y1="752.3" x2="381.3" y2="752.3" stroke="#000080" stroke-width="3" stroke-linecap="butt"/>
<line x1="368.3" y1="831.3" x2="381.3" y2="831.3" stroke="#000080" stroke-width="3" stroke-linecap="butt"/>
<circle cx="374.8" cy="792.0" r="6.6" fill="#000080"/>
<line x1="453.2" y1="702.9" x2="453.2" y2="772.3" stroke="#000080" stroke-width="4" stroke-linecap="butt"/>
<line x1="446.7" y1="702.9" x2="459.7" y2="702.9" stroke="#000080" stroke-width="3" stroke-linecap="butt"/>
<line x1="446.7" y1="772.3" x2="459.7" y2="772.3" stroke="#000080" stroke-width="3" stroke-linecap="butt"/>
<circle cx="453.2" cy="737.7" r="6.6" fill="#000080"/>
<polyline points="139.4,940.3 218.4,924.8 296.8,883.9 374.8,850.0 453.2,803.9" fill="none" stroke="#a00000" stroke-width="3.2" stroke-linejoin="round"/>
<rect x="132.9" y="933.8" width="13.0" height="13.0" fill="#a00000" />
<rect x="211.9" y="918.3" width="13.0" height="13.0" fill="#a00000" />
<rect x="290.3" y="877.4" width="13.0" height="13.0" fill="#a00000" />
<line x1="374.8" y1="839.4" x2="374.8" y2="862.0" stroke="#a00000" stroke-width="4" stroke-linecap="butt"/>
<line x1="368.3" y1="839.4" x2="381.3" y2="839.4" stroke="#a00000" stroke-width="3" stroke-linecap="butt"/>
<line x1="368.3" y1="862.0" x2="381.3" y2="862.0" stroke="#a00000" stroke-width="3" stroke-linecap="butt"/>
<rect x="368.3" y="843.5" width="13.0" height="13.0" fill="#a00000" />
<line x1="453.2" y1="792.0" x2="453.2" y2="815.0" stroke="#a00000" stroke-width="4" stroke-linecap="butt"/>
<line x1="446.7" y1="792.0" x2="459.7" y2="792.0" stroke="#a00000" stroke-width="3" stroke-linecap="butt"/>
<line x1="446.7" y1="815.0" x2="459.7" y2="815.0" stroke="#a00000" stroke-width="3" stroke-linecap="butt"/>
<rect x="446.7" y="797.4" width="13.0" height="13.0" fill="#a00000" />
<line x1="135.5" y1="648.4" x2="170.0" y2="648.4" stroke="#000080" stroke-width="3.2" stroke-linecap="butt"/>
<circle cx="152.7" cy="648.4" r="6.6" fill="#000080"/>
<line x1="135.5" y1="692.6" x2="170.0" y2="692.6" stroke="#a00000" stroke-width="3.2" stroke-linecap="butt"/>
<rect x="146.2" y="686.1" width="13.0" height="13.0" fill="#a00000" />
<text x="190.3" y="655.5" font-size="21.5" font-weight="normal" text-anchor="start" fill="#000" textLength="53.6" lengthAdjust="spacingAndGlyphs" >si-NC</text>
<text x="190.3" y="700.0" font-size="21.5" font-weight="normal" text-anchor="start" fill="#000" textLength="127.4" lengthAdjust="spacingAndGlyphs" >si-circRPPH1</text>
<text x="452.6" y="689.0" font-size="24" font-weight="normal" text-anchor="middle" fill="#000" letter-spacing="0.5">****</text>
<line x1="650.6" y1="631.9" x2="650.6" y2="967.1" stroke="#000" stroke-width="3.3" stroke-linecap="butt"/>
<line x1="641.0" y1="965.5" x2="1043.2" y2="965.5" stroke="#000" stroke-width="3.3" stroke-linecap="butt"/>
<line x1="641.0" y1="633.5" x2="650.6" y2="633.5" stroke="#000" stroke-width="3.3" stroke-linecap="butt"/>
<line x1="641.0" y1="744.2" x2="650.6" y2="744.2" stroke="#000" stroke-width="3.3" stroke-linecap="butt"/>
<line x1="641.0" y1="854.8" x2="650.6" y2="854.8" stroke="#000" stroke-width="3.3" stroke-linecap="butt"/>
<line x1="641.0" y1="965.5" x2="650.6" y2="965.5" stroke="#000" stroke-width="3.3" stroke-linecap="butt"/>
<line x1="688.4" y1="965.5" x2="688.4" y2="975.5" stroke="#000" stroke-width="3.3" stroke-linecap="butt"/>
<line x1="767.1" y1="965.5" x2="767.1" y2="975.5" stroke="#000" stroke-width="3.3" stroke-linecap="butt"/>
<line x1="845.8" y1="965.5" x2="845.8" y2="975.5" stroke="#000" stroke-width="3.3" stroke-linecap="butt"/>
<line x1="923.9" y1="965.5" x2="923.9" y2="975.5" stroke="#000" stroke-width="3.3" stroke-linecap="butt"/>
<line x1="1002.9" y1="965.5" x2="1002.9" y2="975.5" stroke="#000" stroke-width="3.3" stroke-linecap="butt"/>
<text x="636.4" y="639.3" font-size="16.2" font-weight="bold" text-anchor="end" fill="#000" >1.5</text>
<text x="636.4" y="750.0" font-size="16.2" font-weight="bold" text-anchor="end" fill="#000" >1.0</text>
<text x="636.4" y="860.6" font-size="16.2" font-weight="bold" text-anchor="end" fill="#000" >0.5</text>
<text x="636.4" y="971.3" font-size="16.2" font-weight="bold" text-anchor="end" fill="#000" >0.0</text>
<text x="694.4" y="993.5" font-size="15.5" font-weight="bold" text-anchor="end" fill="#000" transform="rotate(-45 694.4 993.5)" >0h</text>
<text x="773.1" y="993.5" font-size="15.5" font-weight="bold" text-anchor="end" fill="#000" transform="rotate(-45 773.1 993.5)" >24h</text>
<text x="851.8" y="993.5" font-size="15.5" font-weight="bold" text-anchor="end" fill="#000" transform="rotate(-45 851.8 993.5)" >48h</text>
<text x="929.9" y="993.5" font-size="15.5" font-weight="bold" text-anchor="end" fill="#000" transform="rotate(-45 929.9 993.5)" >72h</text>
<text x="1008.9" y="993.5" font-size="15.5" font-weight="bold" text-anchor="end" fill="#000" transform="rotate(-45 1008.9 993.5)" >96h</text>
<text x="846.5" y="593.5" font-size="24" font-weight="bold" text-anchor="middle" fill="#000" textLength="74.1" lengthAdjust="spacingAndGlyphs" >MCF-7</text>
<text x="582.5" y="799.0" font-size="23" font-weight="bold" text-anchor="middle" fill="#000" transform="rotate(-90 582.5 799.0)" textLength="113.0" lengthAdjust="spacingAndGlyphs" >OD 490nm</text>
<polyline points="688.4,931.3 767.1,918.4 845.8,902.3 923.9,825.8 1002.9,774.8" fill="none" stroke="#000080" stroke-width="3.2" stroke-linejoin="round"/>
<circle cx="688.4" cy="931.3" r="6.6" fill="#000080"/>
<circle cx="767.1" cy="918.4" r="6.6" fill="#000080"/>
<circle cx="845.8" cy="902.3" r="6.6" fill="#000080"/>
<line x1="923.9" y1="800.6" x2="923.9" y2="852.3" stroke="#000080" stroke-width="4" stroke-linecap="butt"/>
<line x1="917.4" y1="800.6" x2="930.4" y2="800.6" stroke="#000080" stroke-width="3" stroke-linecap="butt"/>
<line x1="917.4" y1="852.3" x2="930.4" y2="852.3" stroke="#000080" stroke-width="3" stroke-linecap="butt"/>
<circle cx="923.9" cy="825.8" r="6.6" fill="#000080"/>
<line x1="1002.9" y1="752.3" x2="1002.9" y2="796.8" stroke="#000080" stroke-width="4" stroke-linecap="butt"/>
<line x1="996.4" y1="752.3" x2="1009.4" y2="752.3" stroke="#000080" stroke-width="3" stroke-linecap="butt"/>
<line x1="996.4" y1="796.8" x2="1009.4" y2="796.8" stroke="#000080" stroke-width="3" stroke-linecap="butt"/>
<circle cx="1002.9" cy="774.8" r="6.6" fill="#000080"/>
<polyline points="688.4,929.7 767.1,921.0 845.8,909.4 923.9,849.0 1002.9,820.0" fill="none" stroke="#a00000" stroke-width="3.2" stroke-linejoin="round"/>
<rect x="681.9" y="923.2" width="13.0" height="13.0" fill="#a00000" />
<rect x="760.6" y="914.5" width="13.0" height="13.0" fill="#a00000" />
<rect x="839.3" y="902.9" width="13.0" height="13.0" fill="#a00000" />
<line x1="923.9" y1="828.0" x2="923.9" y2="871.6" stroke="#a00000" stroke-width="4" stroke-linecap="butt"/>
<line x1="917.4" y1="828.0" x2="930.4" y2="828.0" stroke="#a00000" stroke-width="3" stroke-linecap="butt"/>
<line x1="917.4" y1="871.6" x2="930.4" y2="871.6" stroke="#a00000" stroke-width="3" stroke-linecap="butt"/>
<rect x="917.4" y="842.5" width="13.0" height="13.0" fill="#a00000" />
<line x1="1002.9" y1="803.9" x2="1002.9" y2="835.5" stroke="#a00000" stroke-width="4" stroke-linecap="butt"/>
<line x1="996.4" y1="803.9" x2="1009.4" y2="803.9" stroke="#a00000" stroke-width="3" stroke-linecap="butt"/>
<line x1="996.4" y1="835.5" x2="1009.4" y2="835.5" stroke="#a00000" stroke-width="3" stroke-linecap="butt"/>
<rect x="996.4" y="813.5" width="13.0" height="13.0" fill="#a00000" />
<line x1="682.6" y1="650.6" x2="717.1" y2="650.6" stroke="#000080" stroke-width="3.2" stroke-linecap="butt"/>
<circle cx="699.8" cy="650.6" r="6.6" fill="#000080"/>
<line x1="682.6" y1="690.3" x2="717.1" y2="690.3" stroke="#a00000" stroke-width="3.2" stroke-linecap="butt"/>
<rect x="693.3" y="683.8" width="13.0" height="13.0" fill="#a00000" />
<text x="737.4" y="658.0" font-size="21.5" font-weight="normal" text-anchor="start" fill="#000" textLength="56.3" lengthAdjust="spacingAndGlyphs" >si-NC</text>
<text x="737.4" y="698.0" font-size="21.5" font-weight="normal" text-anchor="start" fill="#000" textLength="134.0" lengthAdjust="spacingAndGlyphs" >si-circRPPH1</text>
<text x="1002.3" y="733.0" font-size="24" font-weight="normal" text-anchor="middle" fill="#000" letter-spacing="0.5">***</text>
<text x="1496.0" y="528.0" font-size="28" font-weight="normal" text-anchor="middle" fill="#000" textLength="192.4" lengthAdjust="spacingAndGlyphs" stroke="#000" stroke-width="0.4">MDA-MB-231</text>
<line x1="1215.0" y1="542.0" x2="1771.6" y2="542.0" stroke="#000" stroke-width="3" stroke-linecap="butt"/>
<text x="1347.0" y="583.4" font-size="26.5" font-weight="normal" text-anchor="middle" fill="#000" textLength="77.0" lengthAdjust="spacingAndGlyphs" stroke="#000" stroke-width="0.9">si-NC</text>
<text x="1650.0" y="583.4" font-size="26.5" font-weight="normal" text-anchor="middle" fill="#000" textLength="174.5" lengthAdjust="spacingAndGlyphs" stroke="#000" stroke-width="0.9">si-circRPPH1</text>
<text x="1171.5" y="703.7" font-size="31" font-weight="bold" text-anchor="end" fill="#000" textLength="37.4" lengthAdjust="spacingAndGlyphs" >0h</text>
<text x="1171.5" y="920.0" font-size="31" font-weight="bold" text-anchor="end" fill="#000" textLength="54.6" lengthAdjust="spacingAndGlyphs" >24h</text>
<g>
<rect x="1212.3" y="591.0" width="274.7" height="205.0" fill="#a8a8a8" filter="url(#fA)"/>
<rect x="1279.6" y="591.0" width="131.1" height="205.0" fill="url(#gapg)" filter="url(#fAg)"/>
<rect x="1277.7" y="591.0" width="3.8" height="205.0" fill="#0a0a0a" />
<rect x="1408.8" y="591.0" width="3.8" height="205.0" fill="#0a0a0a" />
<line x1="1438.2" y1="791.4" x2="1479.9" y2="791.4" stroke="#111" stroke-width="1.6" stroke-linecap="butt"/>
<text x="1459.7" y="786.3" font-size="10.5" font-weight="bold" text-anchor="middle" fill="#111" textLength="32.5" lengthAdjust="spacingAndGlyphs" >200μm</text>
</g>
<g>
<rect x="1499.0" y="591.0" width="274.6" height="205.0" fill="#b0b0b0" filter="url(#fB)"/>
<rect x="1575.5" y="591.0" width="130.0" height="205.0" fill="#b8b8b8" filter="url(#fBg)"/>
<rect x="1573.6" y="591.0" width="3.8" height="205.0" fill="#0a0a0a" />
<rect x="1703.6" y="591.0" width="3.8" height="205.0" fill="#0a0a0a" />
<line x1="1724.8" y1="791.4" x2="1766.5" y2="791.4" stroke="#111" stroke-width="1.6" stroke-linecap="butt"/>
<text x="1746.3" y="786.3" font-size="10.5" font-weight="bold" text-anchor="middle" fill="#111" textLength="32.5" lengthAdjust="spacingAndGlyphs" >200μm</text>
</g>
<g>
<rect x="1212.3" y="806.8" width="274.7" height="205.2" fill="#a0a0a0" filter="url(#fC)"/>
<rect x="1329.4" y="806.8" width="49.3" height="205.2" fill="#a3a3a3" filter="url(#fCg)"/>
<rect x="1327.5" y="806.8" width="3.8" height="205.2" fill="#0a0a0a" />
<rect x="1376.8" y="806.8" width="3.8" height="205.2" fill="#0a0a0a" />
<line x1="1438.2" y1="1007.4" x2="1479.9" y2="1007.4" stroke="#111" stroke-width="1.6" stroke-linecap="butt"/>
<text x="1459.7" y="1002.3" font-size="10.5" font-weight="bold" text-anchor="middle" fill="#111" textLength="32.5" lengthAdjust="spacingAndGlyphs" >200μm</text>
</g>
<g>
<rect x="1499.0" y="806.8" width="274.6" height="205.2" fill="#a2a2a2" filter="url(#fD)"/>
<rect x="1596.0" y="806.8" width="80.2" height="205.2" fill="#a6a6a6" filter="url(#fDg)"/>
<rect x="1594.1" y="806.8" width="3.8" height="205.2" fill="#0a0a0a" />
<rect x="1674.3" y="806.8" width="3.8" height="205.2" fill="#0a0a0a" />
<line x1="1724.8" y1="1007.4" x2="1766.5" y2="1007.4" stroke="#111" stroke-width="1.6" stroke-linecap="butt"/>
<text x="1746.3" y="1002.3" font-size="10.5" font-weight="bold" text-anchor="middle" fill="#111" textLength="32.5" lengthAdjust="spacingAndGlyphs" >200μm</text>
</g>
<line x1="81.0" y1="1129.0" x2="81.0" y2="1455.6" stroke="#000" stroke-width="3.3" stroke-linecap="butt"/>
<line x1="67.7" y1="1453.9" x2="464.5" y2="1453.9" stroke="#000" stroke-width="3.3" stroke-linecap="butt"/>
<line x1="67.7" y1="1130.7" x2="81.0" y2="1130.7" stroke="#000" stroke-width="3.3" stroke-linecap="butt"/>
<line x1="67.7" y1="1212.0" x2="81.0" y2="1212.0" stroke="#000" stroke-width="3.3" stroke-linecap="butt"/>
<line x1="67.7" y1="1293.0" x2="81.0" y2="1293.0" stroke="#000" stroke-width="3.3" stroke-linecap="butt"/>
<line x1="67.7" y1="1373.2" x2="81.0" y2="1373.2" stroke="#000" stroke-width="3.3" stroke-linecap="butt"/>
<line x1="67.7" y1="1453.9" x2="81.0" y2="1453.9" stroke="#000" stroke-width="3.3" stroke-linecap="butt"/>
<line x1="190.2" y1="1453.9" x2="190.2" y2="1467.4" stroke="#000" stroke-width="3.3" stroke-linecap="butt"/>
<line x1="353.3" y1="1453.9" x2="353.3" y2="1467.4" stroke="#000" stroke-width="3.3" stroke-linecap="butt"/>
<text x="64.5" y="1139.7" font-size="24.5" font-weight="bold" text-anchor="end" fill="#000" >80</text>
<text x="64.5" y="1221.0" font-size="24.5" font-weight="bold" text-anchor="end" fill="#000" >60</text>
<text x="64.5" y="1302.0" font-size="24.5" font-weight="bold" text-anchor="end" fill="#000" >40</text>
<text x="64.5" y="1382.2" font-size="24.5" font-weight="bold" text-anchor="end" fill="#000" >20</text>
<text x="64.5" y="1462.9" font-size="24.5" font-weight="bold" text-anchor="end" fill="#000" >0</text>
<line x1="190.3" y1="1186.5" x2="190.3" y2="1196.2" stroke="#000080" stroke-width="2.0" stroke-linecap="butt"/>
<line x1="163.7" y1="1186.5" x2="217.0" y2="1186.5" stroke="#000080" stroke-width="2.0" stroke-linecap="butt"/>
<rect x="136.0" y="1196.2" width="108.7" height="256.1" fill="#000080" />
<line x1="353.7" y1="1277.2" x2="353.7" y2="1289.7" stroke="#a00000" stroke-width="2.0" stroke-linecap="butt"/>
<line x1="326.9" y1="1277.2" x2="380.5" y2="1277.2" stroke="#a00000" stroke-width="2.0" stroke-linecap="butt"/>
<rect x="299.4" y="1289.7" width="108.7" height="162.6" fill="#a00000" />
<line x1="185.8" y1="1167.5" x2="359.4" y2="1167.5" stroke="#000" stroke-width="2.0" stroke-linecap="butt"/>
<text x="270.4" y="1163.2" font-size="22.5" font-weight="bold" text-anchor="middle" fill="#000" >***</text>
<text x="189.8" y="1492.9" font-size="24" font-weight="bold" text-anchor="middle" fill="#000" textLength="62.8" lengthAdjust="spacingAndGlyphs" >si-NC</text>
<text x="353.2" y="1492.9" font-size="24" font-weight="bold" text-anchor="middle" fill="#000" textLength="150.6" lengthAdjust="spacingAndGlyphs" >si-circRPPH1</text>
<text x="20.5" y="1417.0" font-size="26.7" font-weight="bold" text-anchor="start" fill="#000" transform="rotate(-90 20.5 1417.0)" textLength="192.0" lengthAdjust="spacingAndGlyphs" >Wound closure</text>
<text x="21.5" y="1228" font-size="24" font-weight="bold" transform="rotate(-90 21.5 1228)" font-family="'Liberation Sans', 'Noto Sans CJK SC', sans-serif">（</text>
<text x="20.0" y="1200.4" font-size="22" font-weight="bold" text-anchor="start" fill="#000" transform="rotate(-90 20.0 1200.4)" textLength="15.3" lengthAdjust="spacingAndGlyphs" >%</text>
<text x="21.5" y="1183" font-size="24" font-weight="bold" transform="rotate(-90 21.5 1183)" font-family="'Liberation Sans', 'Noto Sans CJK SC', sans-serif">）</text>
<text x="886.0" y="1127.0" font-size="28" font-weight="normal" text-anchor="middle" fill="#000" textLength="193.0" lengthAdjust="spacingAndGlyphs" stroke="#000" stroke-width="0.4">MDA-MB-231</text>
<line x1="494.0" y1="1138.9" x2="1279.4" y2="1138.9" stroke="#000" stroke-width="3" stroke-linecap="butt"/>
<text x="680.3" y="1177.0" font-size="26.5" font-weight="normal" text-anchor="middle" fill="#000" textLength="76.6" lengthAdjust="spacingAndGlyphs" stroke="#000" stroke-width="0.9">si-NC</text>
<text x="1101.5" y="1177.0" font-size="26.5" font-weight="normal" text-anchor="middle" fill="#000" textLength="173.0" lengthAdjust="spacingAndGlyphs" stroke="#000" stroke-width="0.9">si-circRPPH1</text>
<clipPath id="hAclip"><rect x="489.0" y="1186.7" width="387.4" height="290.7"/></clipPath>
<rect x="489.0" y="1186.7" width="387.4" height="290.7" fill="#ebe6e4" filter="url(#hA)"/>
<g clip-path="url(#hAclip)"><g filter="url(#cblur)"><g fill="#433ea6" opacity="0.86"><ellipse cx="730" cy="1402" rx="19" ry="7.5" transform="rotate(-50 730 1402)"/><ellipse cx="585" cy="1202" rx="14" ry="8.0" transform="rotate(-74 585 1202)"/><ellipse cx="597" cy="1453" rx="12" ry="7.7" transform="rotate(-26 597 1453)"/><ellipse cx="553" cy="1235" rx="13" ry="8.0" transform="rotate(30 553 1235)"/><ellipse cx="565" cy="1467" rx="11" ry="6.2" transform="rotate(-37 565 1467)"/><ellipse cx="720" cy="1392" rx="14" ry="5.7" transform="rotate(66 720 1392)"/><ellipse cx="853" cy="1463" rx="14" ry="6.7" transform="rotate(-79 853 1463)"/><ellipse cx="559" cy="1464" rx="17" ry="8.2" transform="rotate(15 559 1464)"/><ellipse cx="822" cy="1197" rx="12" ry="5.9" transform="rotate(88 822 1197)"/><ellipse cx="610" cy="1279" rx="12" ry="5.1" transform="rotate(75 610 1279)"/><ellipse cx="696" cy="1305" rx="16" ry="7.8" transform="rotate(25 696 1305)"/><ellipse cx="800" cy="1284" rx="19" ry="6.8" transform="rotate(-26 800 1284)"/><ellipse cx="530" cy="1313" rx="18" ry="5.7" transform="rotate(33 530 1313)"/><ellipse cx="861" cy="1387" rx="13" ry="6.4" transform="rotate(-42 861 1387)"/><ellipse cx="695" cy="1239" rx="18" ry="5.2" transform="rotate(13 695 1239)"/><ellipse cx="825" cy="1292" rx="17" ry="7.3" transform="rotate(-52 825 1292)"/><ellipse cx="677" cy="1410" rx="13" ry="8.3" transform="rotate(-28 677 1410)"/><ellipse cx="749" cy="1321" rx="16" ry="7.7" transform="rotate(68 749 1321)"/><ellipse cx="846" cy="1237" rx="15" ry="6.0" transform="rotate(76 846 1237)"/><ellipse cx="852" cy="1325" rx="17" ry="7.4" transform="rotate(-26 852 1325)"/><ellipse cx="689" cy="1459" rx="15" ry="8.0" transform="rotate(67 689 1459)"/><ellipse cx="741" cy="1250" rx="16" ry="4.7" transform="rotate(34 741 1250)"/><ellipse cx="864" cy="1327" rx="14" ry="5.9" transform="rotate(-42 864 1327)"/><ellipse cx="646" cy="1268" rx="12" ry="7.8" transform="rotate(89 646 1268)"/><ellipse cx="688" cy="1463" rx="14" ry="5.0" transform="rotate(-66 688 1463)"/><ellipse cx="720" cy="1351" rx="19" ry="6.9" transform="rotate(85 720 1351)"/><ellipse cx="844" cy="1344" rx="18" ry="6.8" transform="rotate(-77 844 1344)"/><ellipse cx="636" cy="1466" rx="16" ry="5.5" transform="rotate(60 636 1466)"/><ellipse cx="680" cy="1270" rx="12" ry="7.0" transform="rotate(12 680 1270)"/><ellipse cx="675" cy="1350" rx="15" ry="4.6" transform="rotate(13 675 1350)"/><ellipse cx="725" cy="1325" rx="16" ry="7.5" transform="rotate(-60 725 1325)"/><ellipse cx="727" cy="1399" rx="14" ry="7.2" transform="rotate(-44 727 1399)"/><ellipse cx="833" cy="1345" rx="17" ry="6.2" transform="rotate(31 833 1345)"/><ellipse cx="673" cy="1385" rx="18" ry="6.4" transform="rotate(-51 673 1385)"/><ellipse cx="740" cy="1324" rx="12" ry="7.3" transform="rotate(34 740 1324)"/><ellipse cx="508" cy="1400" rx="12" ry="4.8" transform="rotate(-65 508 1400)"/><ellipse cx="678" cy="1223" rx="16" ry="7.8" transform="rotate(-39 678 1223)"/><ellipse cx="547" cy="1364" rx="12" ry="7.0" transform="rotate(-58 547 1364)"/><ellipse cx="710" cy="1221" rx="16" ry="4.5" transform="rotate(-51 710 1221)"/><ellipse cx="634" cy="1203" rx="12" ry="7.0" transform="rotate(72 634 1203)"/><ellipse cx="703" cy="1261" rx="15" ry="5.0" transform="rotate(51 703 1261)"/><ellipse cx="496" cy="1286" rx="11" ry="8.0" transform="rotate(12 496 1286)"/><ellipse cx="675" cy="1281" rx="11" ry="7.4" transform="rotate(-50 675 1281)"/><ellipse cx="655" cy="1418" rx="12" ry="8.1" transform="rotate(30 655 1418)"/><ellipse cx="580" cy="1284" rx="14" ry="6.0" transform="rotate(-23 580 1284)"/><ellipse cx="861" cy="1292" rx="19" ry="5.4" transform="rotate(-33 861 1292)"/><ellipse cx="504" cy="1445" rx="17" ry="4.5" transform="rotate(14 504 1445)"/><ellipse cx="846" cy="1281" rx="13" ry="7.1" transform="rotate(-49 846 1281)"/><ellipse cx="587" cy="1267" rx="13" ry="5.4" transform="rotate(32 587 1267)"/><ellipse cx="512" cy="1193" rx="18" ry="5.1" transform="rotate(69 512 1193)"/><ellipse cx="567" cy="1194" rx="12" ry="6.1" transform="rotate(80 567 1194)"/><ellipse cx="874" cy="1323" rx="12" ry="5.3" transform="rotate(-56 874 1323)"/><ellipse cx="513" cy="1413" rx="11" ry="6.7" transform="rotate(88 513 1413)"/><ellipse cx="525" cy="1324" rx="16" ry="6.5" transform="rotate(-74 525 1324)"/><ellipse cx="662" cy="1373" rx="19" ry="5.3" transform="rotate(-84 662 1373)"/><ellipse cx="523" cy="1473" rx="12" ry="7.4" transform="rotate(-62 523 1473)"/><ellipse cx="691" cy="1225" rx="17" ry="7.3" transform="rotate(42 691 1225)"/><ellipse cx="591" cy="1304" rx="15" ry="6.4" transform="rotate(-36 591 1304)"/><ellipse cx="747" cy="1267" rx="13" ry="7.3" transform="rotate(71 747 1267)"/><ellipse cx="517" cy="1410" rx="17" ry="4.5" transform="rotate(65 517 1410)"/><ellipse cx="712" cy="1315" rx="16" ry="8.3" transform="rotate(-54 712 1315)"/><ellipse cx="539" cy="1206" rx="13" ry="7.2" transform="rotate(46 539 1206)"/><ellipse cx="658" cy="1262" rx="11" ry="6.6" transform="rotate(-34 658 1262)"/><ellipse cx="809" cy="1398" rx="15" ry="5.2" transform="rotate(-32 809 1398)"/><ellipse cx="797" cy="1221" rx="18" ry="6.3" transform="rotate(-85 797 1221)"/><ellipse cx="672" cy="1330" rx="12" ry="7.9" transform="rotate(-69 672 1330)"/><ellipse cx="762" cy="1290" rx="13" ry="7.8" transform="rotate(62 762 1290)"/><ellipse cx="625" cy="1259" rx="18" ry="7.9" transform="rotate(17 625 1259)"/><ellipse cx="504" cy="1236" rx="17" ry="8.1" transform="rotate(49 504 1236)"/><ellipse cx="674" cy="1323" rx="12" ry="5.3" transform="rotate(-72 674 1323)"/><ellipse cx="498" cy="1384" rx="15" ry="6.5" transform="rotate(-77 498 1384)"/><ellipse cx="713" cy="1458" rx="11" ry="5.1" transform="rotate(-79 713 1458)"/><ellipse cx="599" cy="1209" rx="14" ry="6.8" transform="rotate(-81 599 1209)"/><ellipse cx="595" cy="1395" rx="17" ry="7.2" transform="rotate(72 595 1395)"/><ellipse cx="726" cy="1247" rx="18" ry="5.5" transform="rotate(-78 726 1247)"/><ellipse cx="742" cy="1448" rx="16" ry="6.0" transform="rotate(-35 742 1448)"/><ellipse cx="756" cy="1473" rx="12" ry="5.7" transform="rotate(69 756 1473)"/><ellipse cx="649" cy="1241" rx="16" ry="7.0" transform="rotate(-77 649 1241)"/><ellipse cx="606" cy="1268" rx="19" ry="5.2" transform="rotate(-71 606 1268)"/><ellipse cx="657" cy="1281" rx="17" ry="5.8" transform="rotate(-58 657 1281)"/><ellipse cx="612" cy="1434" rx="18" ry="5.4" transform="rotate(30 612 1434)"/><ellipse cx="712" cy="1315" rx="17" ry="5.2" transform="rotate(-49 712 1315)"/><ellipse cx="565" cy="1281" rx="18" ry="8.5" transform="rotate(-53 565 1281)"/><ellipse cx="670" cy="1188" rx="19" ry="5.0" transform="rotate(-60 670 1188)"/><ellipse cx="855" cy="1208" rx="17" ry="5.7" transform="rotate(-36 855 1208)"/><ellipse cx="780" cy="1244" rx="12" ry="8.1" transform="rotate(-43 780 1244)"/><ellipse cx="690" cy="1201" rx="13" ry="7.2" transform="rotate(-56 690 1201)"/><ellipse cx="703" cy="1312" rx="18" ry="7.9" transform="rotate(28 703 1312)"/><ellipse cx="786" cy="1292" rx="13" ry="6.3" transform="rotate(-64 786 1292)"/><ellipse cx="800" cy="1190" rx="19" ry="6.9" transform="rotate(20 800 1190)"/><ellipse cx="739" cy="1372" rx="11" ry="7.6" transform="rotate(-66 739 1372)"/><ellipse cx="656" cy="1448" rx="18" ry="5.2" transform="rotate(64 656 1448)"/><ellipse cx="653" cy="1469" rx="13" ry="6.2" transform="rotate(49 653 1469)"/><ellipse cx="787" cy="1407" rx="16" ry="4.6" transform="rotate(-63 787 1407)"/><ellipse cx="861" cy="1361" rx="13" ry="8.2" transform="rotate(-75 861 1361)"/><ellipse cx="522" cy="1225" rx="14" ry="5.4" transform="rotate(61 522 1225)"/><ellipse cx="761" cy="1213" rx="16" ry="6.0" transform="rotate(87 761 1213)"/><ellipse cx="863" cy="1228" rx="11" ry="6.0" transform="rotate(39 863 1228)"/><ellipse cx="651" cy="1333" rx="17" ry="4.7" transform="rotate(26 651 1333)"/><ellipse cx="847" cy="1294" rx="17" ry="8.2" transform="rotate(-60 847 1294)"/><ellipse cx="519" cy="1317" rx="15" ry="6.1" transform="rotate(70 519 1317)"/><ellipse cx="513" cy="1188" rx="16" ry="4.7" transform="rotate(-56 513 1188)"/><ellipse cx="634" cy="1286" rx="15" ry="5.1" transform="rotate(-52 634 1286)"/><ellipse cx="731" cy="1300" rx="13" ry="5.6" transform="rotate(32 731 1300)"/><ellipse cx="719" cy="1351" rx="14" ry="5.0" transform="rotate(6 719 1351)"/><ellipse cx="681" cy="1440" rx="16" ry="5.0" transform="rotate(23 681 1440)"/><ellipse cx="514" cy="1386" rx="12" ry="6.3" transform="rotate(-31 514 1386)"/><ellipse cx="607" cy="1319" rx="18" ry="5.8" transform="rotate(19 607 1319)"/><ellipse cx="856" cy="1246" rx="14" ry="4.8" transform="rotate(-77 856 1246)"/><ellipse cx="844" cy="1236" rx="18" ry="5.9" transform="rotate(-71 844 1236)"/><ellipse cx="838" cy="1348" rx="14" ry="7.6" transform="rotate(69 838 1348)"/><ellipse cx="834" cy="1264" rx="16" ry="8.3" transform="rotate(-39 834 1264)"/><ellipse cx="599" cy="1406" rx="17" ry="6.7" transform="rotate(-26 599 1406)"/><ellipse cx="617" cy="1215" rx="17" ry="6.1" transform="rotate(-88 617 1215)"/><ellipse cx="795" cy="1447" rx="12" ry="6.2" transform="rotate(38 795 1447)"/><ellipse cx="699" cy="1376" rx="14" ry="5.9" transform="rotate(-46 699 1376)"/><ellipse cx="697" cy="1211" rx="15" ry="6.2" transform="rotate(54 697 1211)"/><ellipse cx="831" cy="1472" rx="16" ry="5.2" transform="rotate(35 831 1472)"/><ellipse cx="694" cy="1227" rx="19" ry="6.4" transform="rotate(22 694 1227)"/><ellipse cx="735" cy="1261" rx="16" ry="6.3" transform="rotate(-67 735 1261)"/><ellipse cx="758" cy="1399" rx="19" ry="5.0" transform="rotate(-26 758 1399)"/><ellipse cx="751" cy="1420" rx="13" ry="8.0" transform="rotate(81 751 1420)"/><ellipse cx="498" cy="1355" rx="18" ry="8.0" transform="rotate(63 498 1355)"/><ellipse cx="601" cy="1243" rx="11" ry="6.4" transform="rotate(-36 601 1243)"/><ellipse cx="745" cy="1309" rx="16" ry="5.9" transform="rotate(81 745 1309)"/><ellipse cx="681" cy="1187" rx="17" ry="7.8" transform="rotate(-68 681 1187)"/><ellipse cx="554" cy="1236" rx="16" ry="6.1" transform="rotate(-48 554 1236)"/><ellipse cx="493" cy="1378" rx="17" ry="6.5" transform="rotate(-73 493 1378)"/><ellipse cx="702" cy="1421" rx="17" ry="8.1" transform="rotate(-71 702 1421)"/><ellipse cx="530" cy="1320" rx="17" ry="6.4" transform="rotate(-59 530 1320)"/><ellipse cx="727" cy="1395" rx="16" ry="4.6" transform="rotate(35 727 1395)"/><ellipse cx="528" cy="1294" rx="13" ry="4.5" transform="rotate(-88 528 1294)"/><ellipse cx="788" cy="1220" rx="13" ry="5.0" transform="rotate(9 788 1220)"/><ellipse cx="595" cy="1339" rx="17" ry="7.9" transform="rotate(68 595 1339)"/><ellipse cx="844" cy="1417" rx="16" ry="7.1" transform="rotate(27 844 1417)"/><ellipse cx="825" cy="1200" rx="19" ry="5.1" transform="rotate(-39 825 1200)"/><ellipse cx="856" cy="1403" rx="15" ry="7.8" transform="rotate(82 856 1403)"/><ellipse cx="678" cy="1294" rx="17" ry="6.0" transform="rotate(13 678 1294)"/><ellipse cx="864" cy="1307" rx="15" ry="8.4" transform="rotate(-68 864 1307)"/><ellipse cx="697" cy="1251" rx="16" ry="4.9" transform="rotate(72 697 1251)"/><ellipse cx="609" cy="1384" rx="15" ry="4.8" transform="rotate(-59 609 1384)"/><ellipse cx="548" cy="1268" rx="12" ry="7.2" transform="rotate(51 548 1268)"/><ellipse cx="718" cy="1208" rx="14" ry="5.1" transform="rotate(-87 718 1208)"/><ellipse cx="668" cy="1215" rx="14" ry="7.2" transform="rotate(26 668 1215)"/><ellipse cx="719" cy="1445" rx="15" ry="8.1" transform="rotate(75 719 1445)"/><ellipse cx="649" cy="1244" rx="18" ry="5.0" transform="rotate(-47 649 1244)"/><ellipse cx="608" cy="1293" rx="16" ry="5.2" transform="rotate(9 608 1293)"/><ellipse cx="760" cy="1201" rx="13" ry="5.7" transform="rotate(-70 760 1201)"/><ellipse cx="618" cy="1388" rx="18" ry="7.9" transform="rotate(30 618 1388)"/><ellipse cx="731" cy="1219" rx="14" ry="7.6" transform="rotate(-48 731 1219)"/><ellipse cx="875" cy="1225" rx="17" ry="6.3" transform="rotate(50 875 1225)"/><ellipse cx="493" cy="1385" rx="13" ry="5.1" transform="rotate(9 493 1385)"/><ellipse cx="646" cy="1388" rx="16" ry="4.6" transform="rotate(-37 646 1388)"/><ellipse cx="552" cy="1458" rx="15" ry="5.6" transform="rotate(26 552 1458)"/><ellipse cx="575" cy="1319" rx="12" ry="5.3" transform="rotate(49 575 1319)"/><ellipse cx="735" cy="1411" rx="16" ry="8.2" transform="rotate(83 735 1411)"/><ellipse cx="514" cy="1238" rx="15" ry="4.5" transform="rotate(59 514 1238)"/><ellipse cx="782" cy="1461" rx="16" ry="4.9" transform="rotate(6 782 1461)"/><ellipse cx="520" cy="1259" rx="19" ry="6.4" transform="rotate(-57 520 1259)"/><ellipse cx="735" cy="1435" rx="13" ry="5.1" transform="rotate(-57 735 1435)"/><ellipse cx="524" cy="1256" rx="16" ry="5.4" transform="rotate(-39 524 1256)"/><ellipse cx="535" cy="1359" rx="17" ry="6.4" transform="rotate(24 535 1359)"/><ellipse cx="669" cy="1345" rx="17" ry="5.9" transform="rotate(33 669 1345)"/><ellipse cx="495" cy="1191" rx="12" ry="7.6" transform="rotate(-82 495 1191)"/><ellipse cx="541" cy="1316" rx="13" ry="4.9" transform="rotate(-48 541 1316)"/><ellipse cx="767" cy="1267" rx="13" ry="7.1" transform="rotate(66 767 1267)"/><ellipse cx="598" cy="1447" rx="13" ry="6.4" transform="rotate(34 598 1447)"/><ellipse cx="853" cy="1205" rx="14" ry="6.9" transform="rotate(40 853 1205)"/><ellipse cx="631" cy="1366" rx="16" ry="8.2" transform="rotate(42 631 1366)"/><ellipse cx="745" cy="1269" rx="14" ry="6.4" transform="rotate(-22 745 1269)"/><ellipse cx="708" cy="1475" rx="17" ry="8.3" transform="rotate(-56 708 1475)"/><ellipse cx="493" cy="1383" rx="17" ry="7.2" transform="rotate(-16 493 1383)"/><ellipse cx="810" cy="1205" rx="18" ry="8.3" transform="rotate(-65 810 1205)"/><ellipse cx="695" cy="1381" rx="18" ry="7.4" transform="rotate(-30 695 1381)"/><ellipse cx="508" cy="1466" rx="15" ry="4.7" transform="rotate(41 508 1466)"/><ellipse cx="748" cy="1316" rx="15" ry="8.2" transform="rotate(35 748 1316)"/><ellipse cx="535" cy="1230" rx="17" ry="8.3" transform="rotate(83 535 1230)"/><ellipse cx="529" cy="1349" rx="15" ry="7.0" transform="rotate(-71 529 1349)"/><ellipse cx="530" cy="1314" rx="15" ry="8.0" transform="rotate(70 530 1314)"/><ellipse cx="637" cy="1220" rx="15" ry="6.1" transform="rotate(-36 637 1220)"/><ellipse cx="841" cy="1451" rx="19" ry="6.7" transform="rotate(53 841 1451)"/><ellipse cx="675" cy="1401" rx="12" ry="6.6" transform="rotate(-53 675 1401)"/><ellipse cx="875" cy="1367" rx="16" ry="7.2" transform="rotate(66 875 1367)"/><ellipse cx="649" cy="1466" rx="15" ry="8.1" transform="rotate(13 649 1466)"/><ellipse cx="701" cy="1474" rx="16" ry="6.4" transform="rotate(-55 701 1474)"/><ellipse cx="719" cy="1247" rx="12" ry="6.6" transform="rotate(-38 719 1247)"/><ellipse cx="864" cy="1375" rx="18" ry="6.3" transform="rotate(-19 864 1375)"/><ellipse cx="869" cy="1281" rx="18" ry="8.2" transform="rotate(27 869 1281)"/><ellipse cx="753" cy="1198" rx="14" ry="5.2" transform="rotate(36 753 1198)"/><ellipse cx="813" cy="1251" rx="17" ry="8.2" transform="rotate(86 813 1251)"/><ellipse cx="781" cy="1365" rx="17" ry="6.2" transform="rotate(36 781 1365)"/><ellipse cx="611" cy="1253" rx="14" ry="7.9" transform="rotate(60 611 1253)"/><ellipse cx="507" cy="1320" rx="16" ry="5.9" transform="rotate(48 507 1320)"/><ellipse cx="785" cy="1235" rx="14" ry="8.4" transform="rotate(73 785 1235)"/><ellipse cx="765" cy="1243" rx="12" ry="4.6" transform="rotate(81 765 1243)"/><ellipse cx="817" cy="1438" rx="19" ry="7.2" transform="rotate(-39 817 1438)"/><ellipse cx="714" cy="1374" rx="18" ry="6.9" transform="rotate(-41 714 1374)"/><ellipse cx="614" cy="1264" rx="19" ry="7.1" transform="rotate(23 614 1264)"/><ellipse cx="581" cy="1415" rx="12" ry="4.9" transform="rotate(-61 581 1415)"/><ellipse cx="681" cy="1309" rx="14" ry="7.5" transform="rotate(49 681 1309)"/><ellipse cx="693" cy="1404" rx="16" ry="6.8" transform="rotate(-45 693 1404)"/><ellipse cx="515" cy="1268" rx="16" ry="5.4" transform="rotate(-63 515 1268)"/><ellipse cx="748" cy="1389" rx="11" ry="6.9" transform="rotate(43 748 1389)"/><ellipse cx="578" cy="1399" rx="16" ry="5.7" transform="rotate(29 578 1399)"/><ellipse cx="816" cy="1192" rx="18" ry="7.0" transform="rotate(-25 816 1192)"/><ellipse cx="628" cy="1386" rx="15" ry="7.8" transform="rotate(85 628 1386)"/><ellipse cx="776" cy="1387" rx="16" ry="7.4" transform="rotate(33 776 1387)"/><ellipse cx="873" cy="1285" rx="12" ry="7.2" transform="rotate(-40 873 1285)"/><ellipse cx="846" cy="1314" rx="14" ry="6.9" transform="rotate(54 846 1314)"/><ellipse cx="753" cy="1264" rx="18" ry="6.9" transform="rotate(51 753 1264)"/><ellipse cx="494" cy="1315" rx="18" ry="7.2" transform="rotate(60 494 1315)"/><ellipse cx="826" cy="1237" rx="11" ry="8.0" transform="rotate(-41 826 1237)"/><ellipse cx="492" cy="1447" rx="18" ry="7.3" transform="rotate(-79 492 1447)"/><ellipse cx="613" cy="1251" rx="16" ry="6.9" transform="rotate(55 613 1251)"/><ellipse cx="557" cy="1244" rx="14" ry="6.4" transform="rotate(73 557 1244)"/><ellipse cx="779" cy="1458" rx="14" ry="8.0" transform="rotate(-35 779 1458)"/><ellipse cx="629" cy="1430" rx="17" ry="5.2" transform="rotate(-68 629 1430)"/><ellipse cx="865" cy="1462" rx="19" ry="7.7" transform="rotate(-33 865 1462)"/><ellipse cx="536" cy="1223" rx="14" ry="4.7" transform="rotate(33 536 1223)"/><ellipse cx="577" cy="1457" rx="18" ry="6.4" transform="rotate(-37 577 1457)"/><ellipse cx="631" cy="1444" rx="14" ry="4.6" transform="rotate(55 631 1444)"/><ellipse cx="765" cy="1400" rx="14" ry="6.5" transform="rotate(-30 765 1400)"/><ellipse cx="703" cy="1361" rx="16" ry="6.5" transform="rotate(55 703 1361)"/><ellipse cx="857" cy="1199" rx="14" ry="7.8" transform="rotate(51 857 1199)"/><ellipse cx="789" cy="1262" rx="12" ry="4.8" transform="rotate(79 789 1262)"/><ellipse cx="829" cy="1398" rx="13" ry="6.2" transform="rotate(-81 829 1398)"/><ellipse cx="660" cy="1258" rx="18" ry="5.0" transform="rotate(84 660 1258)"/><ellipse cx="667" cy="1309" rx="16" ry="5.6" transform="rotate(62 667 1309)"/><ellipse cx="823" cy="1363" rx="18" ry="5.7" transform="rotate(-59 823 1363)"/><ellipse cx="813" cy="1373" rx="13" ry="7.0" transform="rotate(-66 813 1373)"/><ellipse cx="829" cy="1295" rx="15" ry="7.2" transform="rotate(44 829 1295)"/><ellipse cx="558" cy="1309" rx="17" ry="8.4" transform="rotate(-61 558 1309)"/><ellipse cx="633" cy="1243" rx="19" ry="5.3" transform="rotate(-71 633 1243)"/><ellipse cx="727" cy="1412" rx="16" ry="5.5" transform="rotate(-18 727 1412)"/><ellipse cx="564" cy="1385" rx="15" ry="6.8" transform="rotate(66 564 1385)"/><ellipse cx="546" cy="1217" rx="14" ry="6.4" transform="rotate(53 546 1217)"/><ellipse cx="753" cy="1325" rx="12" ry="7.9" transform="rotate(55 753 1325)"/><ellipse cx="541" cy="1382" rx="14" ry="8.1" transform="rotate(-47 541 1382)"/><ellipse cx="704" cy="1362" rx="15" ry="5.8" transform="rotate(-78 704 1362)"/><ellipse cx="576" cy="1446" rx="16" ry="8.4" transform="rotate(79 576 1446)"/><ellipse cx="592" cy="1399" rx="14" ry="8.4" transform="rotate(66 592 1399)"/><ellipse cx="713" cy="1441" rx="11" ry="5.8" transform="rotate(-19 713 1441)"/><ellipse cx="650" cy="1257" rx="18" ry="5.5" transform="rotate(73 650 1257)"/><ellipse cx="693" cy="1377" rx="17" ry="7.3" transform="rotate(58 693 1377)"/><ellipse cx="807" cy="1357" rx="17" ry="5.3" transform="rotate(-54 807 1357)"/><ellipse cx="622" cy="1231" rx="19" ry="4.6" transform="rotate(73 622 1231)"/><ellipse cx="521" cy="1194" rx="12" ry="4.7" transform="rotate(-76 521 1194)"/><ellipse cx="647" cy="1199" rx="17" ry="4.9" transform="rotate(36 647 1199)"/><ellipse cx="624" cy="1192" rx="16" ry="4.9" transform="rotate(49 624 1192)"/><ellipse cx="638" cy="1400" rx="15" ry="8.5" transform="rotate(-36 638 1400)"/><ellipse cx="711" cy="1398" rx="13" ry="7.1" transform="rotate(29 711 1398)"/><ellipse cx="848" cy="1464" rx="12" ry="7.4" transform="rotate(61 848 1464)"/><ellipse cx="693" cy="1196" rx="19" ry="7.0" transform="rotate(29 693 1196)"/><ellipse cx="607" cy="1374" rx="11" ry="4.9" transform="rotate(31 607 1374)"/><ellipse cx="857" cy="1254" rx="18" ry="6.1" transform="rotate(-64 857 1254)"/><ellipse cx="760" cy="1302" rx="13" ry="7.0" transform="rotate(-61 760 1302)"/><ellipse cx="544" cy="1361" rx="13" ry="8.1" transform="rotate(-26 544 1361)"/><ellipse cx="859" cy="1231" rx="16" ry="5.9" transform="rotate(53 859 1231)"/><ellipse cx="784" cy="1272" rx="12" ry="6.7" transform="rotate(89 784 1272)"/><ellipse cx="572" cy="1200" rx="15" ry="8.0" transform="rotate(-59 572 1200)"/><ellipse cx="589" cy="1273" rx="16" ry="5.9" transform="rotate(-74 589 1273)"/><ellipse cx="846" cy="1290" rx="14" ry="6.7" transform="rotate(65 846 1290)"/><ellipse cx="687" cy="1261" rx="16" ry="6.1" transform="rotate(66 687 1261)"/><ellipse cx="564" cy="1382" rx="13" ry="6.1" transform="rotate(24 564 1382)"/><ellipse cx="673" cy="1371" rx="18" ry="8.4" transform="rotate(61 673 1371)"/><ellipse cx="833" cy="1435" rx="16" ry="6.0" transform="rotate(-71 833 1435)"/><ellipse cx="816" cy="1421" rx="13" ry="5.1" transform="rotate(-32 816 1421)"/><ellipse cx="670" cy="1303" rx="14" ry="7.1" transform="rotate(-58 670 1303)"/><ellipse cx="760" cy="1392" rx="14" ry="7.9" transform="rotate(33 760 1392)"/><ellipse cx="735" cy="1395" rx="17" ry="7.9" transform="rotate(28 735 1395)"/><ellipse cx="693" cy="1379" rx="11" ry="8.3" transform="rotate(20 693 1379)"/><ellipse cx="565" cy="1235" rx="14" ry="5.0" transform="rotate(46 565 1235)"/><ellipse cx="581" cy="1476" rx="19" ry="8.4" transform="rotate(17 581 1476)"/><ellipse cx="816" cy="1429" rx="15" ry="7.8" transform="rotate(-78 816 1429)"/><ellipse cx="592" cy="1260" rx="16" ry="8.2" transform="rotate(28 592 1260)"/><ellipse cx="719" cy="1220" rx="16" ry="7.0" transform="rotate(-48 719 1220)"/><ellipse cx="813" cy="1194" rx="13" ry="5.6" transform="rotate(-49 813 1194)"/><ellipse cx="769" cy="1262" rx="15" ry="8.4" transform="rotate(54 769 1262)"/><ellipse cx="851" cy="1352" rx="14" ry="7.3" transform="rotate(53 851 1352)"/><ellipse cx="808" cy="1299" rx="12" ry="7.4" transform="rotate(-64 808 1299)"/><ellipse cx="523" cy="1285" rx="11" ry="8.0" transform="rotate(70 523 1285)"/><ellipse cx="686" cy="1305" rx="13" ry="6.8" transform="rotate(-40 686 1305)"/><ellipse cx="647" cy="1207" rx="14" ry="4.7" transform="rotate(-57 647 1207)"/><ellipse cx="662" cy="1424" rx="17" ry="5.5" transform="rotate(-38 662 1424)"/><ellipse cx="858" cy="1198" rx="19" ry="7.9" transform="rotate(-36 858 1198)"/></g><g fill="#241f78" opacity="0.85"><ellipse cx="584" cy="1201" rx="7" ry="4.9" transform="rotate(-74 585 1202)"/><ellipse cx="596" cy="1455" rx="6" ry="4.8" transform="rotate(-26 597 1453)"/><ellipse cx="567" cy="1468" rx="6" ry="3.8" transform="rotate(-37 565 1467)"/><ellipse cx="719" cy="1391" rx="7" ry="3.5" transform="rotate(66 720 1392)"/><ellipse cx="851" cy="1461" rx="7" ry="4.2" transform="rotate(-79 853 1463)"/><ellipse cx="559" cy="1465" rx="9" ry="5.1" transform="rotate(15 559 1464)"/><ellipse cx="824" cy="1198" rx="6" ry="3.6" transform="rotate(88 822 1197)"/><ellipse cx="608" cy="1281" rx="6" ry="3.2" transform="rotate(75 610 1279)"/><ellipse cx="698" cy="1305" rx="8" ry="4.8" transform="rotate(25 696 1305)"/><ellipse cx="529" cy="1313" rx="9" ry="3.5" transform="rotate(33 530 1313)"/><ellipse cx="826" cy="1291" rx="9" ry="4.5" transform="rotate(-52 825 1292)"/><ellipse cx="677" cy="1409" rx="7" ry="5.1" transform="rotate(-28 677 1410)"/><ellipse cx="751" cy="1321" rx="8" ry="4.8" transform="rotate(68 749 1321)"/><ellipse cx="845" cy="1238" rx="7" ry="3.7" transform="rotate(76 846 1237)"/><ellipse cx="688" cy="1459" rx="8" ry="4.9" transform="rotate(67 689 1459)"/><ellipse cx="742" cy="1249" rx="8" ry="2.9" transform="rotate(34 741 1250)"/><ellipse cx="866" cy="1325" rx="7" ry="3.7" transform="rotate(-42 864 1327)"/><ellipse cx="645" cy="1267" rx="6" ry="4.9" transform="rotate(89 646 1268)"/><ellipse cx="687" cy="1462" rx="7" ry="3.1" transform="rotate(-66 688 1463)"/><ellipse cx="719" cy="1350" rx="9" ry="4.3" transform="rotate(85 720 1351)"/><ellipse cx="843" cy="1345" rx="9" ry="4.2" transform="rotate(-77 844 1344)"/><ellipse cx="635" cy="1468" rx="8" ry="3.4" transform="rotate(60 636 1466)"/><ellipse cx="678" cy="1270" rx="6" ry="4.3" transform="rotate(12 680 1270)"/><ellipse cx="677" cy="1349" rx="7" ry="2.9" transform="rotate(13 675 1350)"/><ellipse cx="724" cy="1326" rx="8" ry="4.6" transform="rotate(-60 725 1325)"/><ellipse cx="727" cy="1401" rx="7" ry="4.5" transform="rotate(-44 727 1399)"/><ellipse cx="674" cy="1385" rx="9" ry="3.9" transform="rotate(-51 673 1385)"/><ellipse cx="740" cy="1324" rx="6" ry="4.5" transform="rotate(34 740 1324)"/><ellipse cx="506" cy="1399" rx="6" ry="2.9" transform="rotate(-65 508 1400)"/><ellipse cx="677" cy="1224" rx="8" ry="4.8" transform="rotate(-39 678 1223)"/><ellipse cx="548" cy="1363" rx="6" ry="4.3" transform="rotate(-58 547 1364)"/><ellipse cx="710" cy="1223" rx="8" ry="2.8" transform="rotate(-51 710 1221)"/><ellipse cx="634" cy="1202" rx="6" ry="4.4" transform="rotate(72 634 1203)"/><ellipse cx="702" cy="1259" rx="8" ry="3.1" transform="rotate(51 703 1261)"/><ellipse cx="656" cy="1417" rx="6" ry="5.1" transform="rotate(30 655 1418)"/><ellipse cx="579" cy="1284" rx="7" ry="3.7" transform="rotate(-23 580 1284)"/><ellipse cx="860" cy="1291" rx="9" ry="3.3" transform="rotate(-33 861 1292)"/><ellipse cx="848" cy="1279" rx="6" ry="4.4" transform="rotate(-49 846 1281)"/><ellipse cx="588" cy="1267" rx="7" ry="3.4" transform="rotate(32 587 1267)"/><ellipse cx="513" cy="1192" rx="9" ry="3.2" transform="rotate(69 512 1193)"/><ellipse cx="566" cy="1192" rx="6" ry="3.8" transform="rotate(80 567 1194)"/><ellipse cx="876" cy="1321" rx="6" ry="3.3" transform="rotate(-56 874 1323)"/><ellipse cx="512" cy="1414" rx="6" ry="4.2" transform="rotate(88 513 1413)"/><ellipse cx="663" cy="1374" rx="9" ry="3.3" transform="rotate(-84 662 1373)"/><ellipse cx="522" cy="1474" rx="6" ry="4.6" transform="rotate(-62 523 1473)"/><ellipse cx="691" cy="1226" rx="9" ry="4.5" transform="rotate(42 691 1225)"/><ellipse cx="713" cy="1315" rx="8" ry="5.2" transform="rotate(-54 712 1315)"/><ellipse cx="540" cy="1204" rx="7" ry="4.5" transform="rotate(46 539 1206)"/><ellipse cx="656" cy="1262" rx="6" ry="4.1" transform="rotate(-34 658 1262)"/><ellipse cx="798" cy="1220" rx="9" ry="3.9" transform="rotate(-85 797 1221)"/><ellipse cx="674" cy="1329" rx="6" ry="4.9" transform="rotate(-69 672 1330)"/><ellipse cx="763" cy="1289" rx="6" ry="4.8" transform="rotate(62 762 1290)"/><ellipse cx="627" cy="1259" rx="9" ry="4.9" transform="rotate(17 625 1259)"/><ellipse cx="674" cy="1325" rx="6" ry="3.3" transform="rotate(-72 674 1323)"/><ellipse cx="714" cy="1459" rx="6" ry="3.2" transform="rotate(-79 713 1458)"/><ellipse cx="597" cy="1396" rx="9" ry="4.5" transform="rotate(72 595 1395)"/><ellipse cx="725" cy="1246" rx="9" ry="3.4" transform="rotate(-78 726 1247)"/><ellipse cx="757" cy="1471" rx="6" ry="3.5" transform="rotate(69 756 1473)"/><ellipse cx="649" cy="1242" rx="8" ry="4.3" transform="rotate(-77 649 1241)"/><ellipse cx="606" cy="1269" rx="9" ry="3.3" transform="rotate(-71 606 1268)"/><ellipse cx="658" cy="1283" rx="9" ry="3.6" transform="rotate(-58 657 1281)"/><ellipse cx="613" cy="1432" rx="9" ry="3.4" transform="rotate(30 612 1434)"/><ellipse cx="779" cy="1245" rx="6" ry="5.0" transform="rotate(-43 780 1244)"/><ellipse cx="705" cy="1310" rx="9" ry="4.9" transform="rotate(28 703 1312)"/><ellipse cx="788" cy="1290" rx="7" ry="3.9" transform="rotate(-64 786 1292)"/><ellipse cx="800" cy="1191" rx="9" ry="4.3" transform="rotate(20 800 1190)"/><ellipse cx="651" cy="1470" rx="6" ry="3.8" transform="rotate(49 653 1469)"/><ellipse cx="785" cy="1408" rx="8" ry="2.9" transform="rotate(-63 787 1407)"/><ellipse cx="761" cy="1214" rx="8" ry="3.7" transform="rotate(87 761 1213)"/><ellipse cx="861" cy="1229" rx="6" ry="3.7" transform="rotate(39 863 1228)"/><ellipse cx="651" cy="1331" rx="9" ry="2.9" transform="rotate(26 651 1333)"/><ellipse cx="846" cy="1296" rx="8" ry="5.1" transform="rotate(-60 847 1294)"/><ellipse cx="519" cy="1317" rx="8" ry="3.8" transform="rotate(70 519 1317)"/><ellipse cx="682" cy="1438" rx="8" ry="3.1" transform="rotate(23 681 1440)"/><ellipse cx="513" cy="1385" rx="6" ry="3.9" transform="rotate(-31 514 1386)"/><ellipse cx="606" cy="1318" rx="9" ry="3.6" transform="rotate(19 607 1319)"/><ellipse cx="855" cy="1245" rx="7" ry="3.0" transform="rotate(-77 856 1246)"/><ellipse cx="843" cy="1236" rx="9" ry="3.6" transform="rotate(-71 844 1236)"/><ellipse cx="837" cy="1348" rx="7" ry="4.7" transform="rotate(69 838 1348)"/><ellipse cx="832" cy="1265" rx="8" ry="5.2" transform="rotate(-39 834 1264)"/><ellipse cx="598" cy="1406" rx="9" ry="4.1" transform="rotate(-26 599 1406)"/><ellipse cx="615" cy="1216" rx="8" ry="3.8" transform="rotate(-88 617 1215)"/><ellipse cx="700" cy="1375" rx="7" ry="3.7" transform="rotate(-46 699 1376)"/><ellipse cx="698" cy="1209" rx="8" ry="3.9" transform="rotate(54 697 1211)"/><ellipse cx="734" cy="1260" rx="8" ry="3.9" transform="rotate(-67 735 1261)"/><ellipse cx="757" cy="1398" rx="9" ry="3.1" transform="rotate(-26 758 1399)"/><ellipse cx="751" cy="1419" rx="7" ry="5.0" transform="rotate(81 751 1420)"/><ellipse cx="497" cy="1355" rx="9" ry="5.0" transform="rotate(63 498 1355)"/><ellipse cx="746" cy="1308" rx="8" ry="3.6" transform="rotate(81 745 1309)"/><ellipse cx="682" cy="1188" rx="9" ry="4.9" transform="rotate(-68 681 1187)"/><ellipse cx="553" cy="1235" rx="8" ry="3.8" transform="rotate(-48 554 1236)"/><ellipse cx="491" cy="1378" rx="8" ry="4.0" transform="rotate(-73 493 1378)"/><ellipse cx="701" cy="1422" rx="8" ry="5.0" transform="rotate(-71 702 1421)"/><ellipse cx="725" cy="1394" rx="8" ry="2.8" transform="rotate(35 727 1395)"/><ellipse cx="529" cy="1294" rx="6" ry="2.8" transform="rotate(-88 528 1294)"/><ellipse cx="845" cy="1418" rx="8" ry="4.4" transform="rotate(27 844 1417)"/><ellipse cx="826" cy="1201" rx="9" ry="3.2" transform="rotate(-39 825 1200)"/><ellipse cx="680" cy="1293" rx="8" ry="3.7" transform="rotate(13 678 1294)"/><ellipse cx="866" cy="1305" rx="8" ry="5.2" transform="rotate(-68 864 1307)"/><ellipse cx="698" cy="1252" rx="8" ry="3.0" transform="rotate(72 697 1251)"/><ellipse cx="609" cy="1383" rx="8" ry="3.0" transform="rotate(-59 609 1384)"/><ellipse cx="716" cy="1209" rx="7" ry="3.2" transform="rotate(-87 718 1208)"/><ellipse cx="720" cy="1447" rx="7" ry="5.0" transform="rotate(75 719 1445)"/><ellipse cx="608" cy="1293" rx="8" ry="3.2" transform="rotate(9 608 1293)"/><ellipse cx="760" cy="1199" rx="7" ry="3.5" transform="rotate(-70 760 1201)"/><ellipse cx="618" cy="1388" rx="9" ry="4.9" transform="rotate(30 618 1388)"/><ellipse cx="491" cy="1384" rx="6" ry="3.2" transform="rotate(9 493 1385)"/><ellipse cx="646" cy="1388" rx="8" ry="2.9" transform="rotate(-37 646 1388)"/><ellipse cx="554" cy="1459" rx="7" ry="3.5" transform="rotate(26 552 1458)"/><ellipse cx="733" cy="1410" rx="8" ry="5.1" transform="rotate(83 735 1411)"/><ellipse cx="513" cy="1239" rx="7" ry="2.8" transform="rotate(59 514 1238)"/><ellipse cx="782" cy="1459" rx="8" ry="3.0" transform="rotate(6 782 1461)"/><ellipse cx="520" cy="1258" rx="9" ry="4.0" transform="rotate(-57 520 1259)"/><ellipse cx="736" cy="1436" rx="7" ry="3.2" transform="rotate(-57 735 1435)"/><ellipse cx="533" cy="1358" rx="8" ry="4.0" transform="rotate(24 535 1359)"/><ellipse cx="495" cy="1191" rx="6" ry="4.7" transform="rotate(-82 495 1191)"/><ellipse cx="541" cy="1315" rx="6" ry="3.0" transform="rotate(-48 541 1316)"/><ellipse cx="765" cy="1266" rx="7" ry="4.4" transform="rotate(66 767 1267)"/><ellipse cx="599" cy="1449" rx="7" ry="4.0" transform="rotate(34 598 1447)"/><ellipse cx="852" cy="1205" rx="7" ry="4.3" transform="rotate(40 853 1205)"/><ellipse cx="747" cy="1269" rx="7" ry="4.0" transform="rotate(-22 745 1269)"/><ellipse cx="708" cy="1476" rx="8" ry="5.2" transform="rotate(-56 708 1475)"/><ellipse cx="696" cy="1381" rx="9" ry="4.6" transform="rotate(-30 695 1381)"/><ellipse cx="510" cy="1464" rx="7" ry="2.9" transform="rotate(41 508 1466)"/><ellipse cx="748" cy="1314" rx="7" ry="5.1" transform="rotate(35 748 1316)"/><ellipse cx="529" cy="1315" rx="8" ry="5.0" transform="rotate(70 530 1314)"/><ellipse cx="637" cy="1220" rx="8" ry="3.8" transform="rotate(-36 637 1220)"/><ellipse cx="843" cy="1449" rx="9" ry="4.2" transform="rotate(53 841 1451)"/><ellipse cx="673" cy="1400" rx="6" ry="4.1" transform="rotate(-53 675 1401)"/><ellipse cx="873" cy="1368" rx="8" ry="4.5" transform="rotate(66 875 1367)"/><ellipse cx="649" cy="1465" rx="8" ry="5.0" transform="rotate(13 649 1466)"/><ellipse cx="701" cy="1475" rx="8" ry="4.0" transform="rotate(-55 701 1474)"/><ellipse cx="866" cy="1374" rx="9" ry="3.9" transform="rotate(-19 864 1375)"/><ellipse cx="869" cy="1282" rx="9" ry="5.1" transform="rotate(27 869 1281)"/><ellipse cx="753" cy="1198" rx="7" ry="3.2" transform="rotate(36 753 1198)"/><ellipse cx="812" cy="1252" rx="8" ry="5.1" transform="rotate(86 813 1251)"/><ellipse cx="781" cy="1365" rx="8" ry="3.9" transform="rotate(36 781 1365)"/><ellipse cx="612" cy="1254" rx="7" ry="4.9" transform="rotate(60 611 1253)"/><ellipse cx="506" cy="1321" rx="8" ry="3.7" transform="rotate(48 507 1320)"/><ellipse cx="786" cy="1236" rx="7" ry="5.2" transform="rotate(73 785 1235)"/><ellipse cx="819" cy="1437" rx="9" ry="4.5" transform="rotate(-39 817 1438)"/><ellipse cx="582" cy="1417" rx="6" ry="3.0" transform="rotate(-61 581 1415)"/><ellipse cx="516" cy="1267" rx="8" ry="3.4" transform="rotate(-63 515 1268)"/><ellipse cx="577" cy="1400" rx="8" ry="3.5" transform="rotate(29 578 1399)"/><ellipse cx="814" cy="1191" rx="9" ry="4.4" transform="rotate(-25 816 1192)"/><ellipse cx="630" cy="1388" rx="7" ry="4.8" transform="rotate(85 628 1386)"/><ellipse cx="776" cy="1388" rx="8" ry="4.6" transform="rotate(33 776 1387)"/><ellipse cx="871" cy="1287" rx="6" ry="4.5" transform="rotate(-40 873 1285)"/><ellipse cx="847" cy="1315" rx="7" ry="4.3" transform="rotate(54 846 1314)"/><ellipse cx="751" cy="1264" rx="9" ry="4.3" transform="rotate(51 753 1264)"/><ellipse cx="493" cy="1313" rx="9" ry="4.5" transform="rotate(60 494 1315)"/><ellipse cx="828" cy="1236" rx="6" ry="5.0" transform="rotate(-41 826 1237)"/><ellipse cx="491" cy="1445" rx="9" ry="4.5" transform="rotate(-79 492 1447)"/><ellipse cx="556" cy="1242" rx="7" ry="4.0" transform="rotate(73 557 1244)"/><ellipse cx="778" cy="1460" rx="7" ry="5.0" transform="rotate(-35 779 1458)"/><ellipse cx="630" cy="1428" rx="8" ry="3.2" transform="rotate(-68 629 1430)"/><ellipse cx="630" cy="1445" rx="7" ry="2.9" transform="rotate(55 631 1444)"/><ellipse cx="791" cy="1263" rx="6" ry="3.0" transform="rotate(79 789 1262)"/><ellipse cx="659" cy="1257" rx="9" ry="3.1" transform="rotate(84 660 1258)"/><ellipse cx="667" cy="1310" rx="8" ry="3.5" transform="rotate(62 667 1309)"/><ellipse cx="822" cy="1363" rx="9" ry="3.5" transform="rotate(-59 823 1363)"/><ellipse cx="813" cy="1374" rx="6" ry="4.4" transform="rotate(-66 813 1373)"/><ellipse cx="831" cy="1296" rx="8" ry="4.4" transform="rotate(44 829 1295)"/><ellipse cx="557" cy="1310" rx="8" ry="5.2" transform="rotate(-61 558 1309)"/><ellipse cx="727" cy="1411" rx="8" ry="3.4" transform="rotate(-18 727 1412)"/><ellipse cx="755" cy="1326" rx="6" ry="4.9" transform="rotate(55 753 1325)"/><ellipse cx="540" cy="1380" rx="7" ry="5.0" transform="rotate(-47 541 1382)"/><ellipse cx="705" cy="1362" rx="7" ry="3.6" transform="rotate(-78 704 1362)"/><ellipse cx="578" cy="1445" rx="8" ry="5.2" transform="rotate(79 576 1446)"/><ellipse cx="590" cy="1399" rx="7" ry="5.2" transform="rotate(66 592 1399)"/><ellipse cx="691" cy="1376" rx="9" ry="4.6" transform="rotate(58 693 1377)"/><ellipse cx="521" cy="1193" rx="6" ry="2.9" transform="rotate(-76 521 1194)"/><ellipse cx="625" cy="1191" rx="8" ry="3.0" transform="rotate(49 624 1192)"/><ellipse cx="640" cy="1400" rx="7" ry="5.3" transform="rotate(-36 638 1400)"/><ellipse cx="711" cy="1397" rx="6" ry="4.4" transform="rotate(29 711 1398)"/><ellipse cx="847" cy="1466" rx="6" ry="4.6" transform="rotate(61 848 1464)"/><ellipse cx="692" cy="1195" rx="9" ry="4.3" transform="rotate(29 693 1196)"/><ellipse cx="606" cy="1372" rx="6" ry="3.0" transform="rotate(31 607 1374)"/><ellipse cx="856" cy="1254" rx="9" ry="3.8" transform="rotate(-64 857 1254)"/><ellipse cx="761" cy="1303" rx="6" ry="4.3" transform="rotate(-61 760 1302)"/><ellipse cx="544" cy="1363" rx="6" ry="5.0" transform="rotate(-26 544 1361)"/><ellipse cx="859" cy="1231" rx="8" ry="3.6" transform="rotate(53 859 1231)"/><ellipse cx="573" cy="1199" rx="8" ry="5.0" transform="rotate(-59 572 1200)"/><ellipse cx="590" cy="1274" rx="8" ry="3.6" transform="rotate(-74 589 1273)"/><ellipse cx="845" cy="1291" rx="7" ry="4.1" transform="rotate(65 846 1290)"/><ellipse cx="689" cy="1261" rx="8" ry="3.8" transform="rotate(66 687 1261)"/><ellipse cx="565" cy="1382" rx="6" ry="3.8" transform="rotate(24 564 1382)"/><ellipse cx="673" cy="1370" rx="9" ry="5.2" transform="rotate(61 673 1371)"/><ellipse cx="834" cy="1436" rx="8" ry="3.7" transform="rotate(-71 833 1435)"/><ellipse cx="815" cy="1422" rx="6" ry="3.2" transform="rotate(-32 816 1421)"/><ellipse cx="671" cy="1303" rx="7" ry="4.4" transform="rotate(-58 670 1303)"/><ellipse cx="762" cy="1390" rx="7" ry="4.9" transform="rotate(33 760 1392)"/><ellipse cx="734" cy="1396" rx="8" ry="4.9" transform="rotate(28 735 1395)"/><ellipse cx="694" cy="1378" rx="6" ry="5.1" transform="rotate(20 693 1379)"/><ellipse cx="564" cy="1234" rx="7" ry="3.1" transform="rotate(46 565 1235)"/><ellipse cx="583" cy="1477" rx="9" ry="5.2" transform="rotate(17 581 1476)"/><ellipse cx="817" cy="1428" rx="8" ry="4.9" transform="rotate(-78 816 1429)"/><ellipse cx="590" cy="1260" rx="8" ry="5.1" transform="rotate(28 592 1260)"/><ellipse cx="768" cy="1264" rx="7" ry="5.2" transform="rotate(54 769 1262)"/><ellipse cx="849" cy="1352" rx="7" ry="4.5" transform="rotate(53 851 1352)"/><ellipse cx="646" cy="1209" rx="7" ry="2.9" transform="rotate(-57 647 1207)"/><ellipse cx="662" cy="1424" rx="9" ry="3.4" transform="rotate(-38 662 1424)"/></g></g>
<g fill="#f4f4f4" stroke="#15151f" stroke-width="2"><circle cx="600.6" cy="1400.4" r="1.5"/><circle cx="679.3" cy="1312.3" r="1.8"/><circle cx="695.0" cy="1389.0" r="1.9"/><circle cx="567.6" cy="1338.4" r="2.0"/><circle cx="564.8" cy="1272.5" r="1.6"/><circle cx="698.4" cy="1254.7" r="2.1"/><circle cx="610.4" cy="1251.2" r="2.1"/><circle cx="776.7" cy="1446.7" r="1.6"/><circle cx="841.2" cy="1426.1" r="2.0"/><circle cx="603.2" cy="1349.7" r="2.1"/><circle cx="573.0" cy="1430.5" r="1.9"/><circle cx="826.8" cy="1279.6" r="1.8"/><circle cx="569.5" cy="1388.6" r="1.5"/><circle cx="539.5" cy="1235.9" r="2.1"/><circle cx="795.9" cy="1431.2" r="2.0"/><circle cx="729.8" cy="1351.3" r="1.8"/><circle cx="796.0" cy="1442.8" r="2.1"/><circle cx="700.5" cy="1334.2" r="2.1"/><circle cx="599.9" cy="1411.6" r="1.4"/><circle cx="858.9" cy="1231.7" r="1.3"/><circle cx="625.7" cy="1197.3" r="2.1"/><circle cx="589.0" cy="1393.3" r="1.3"/><circle cx="587.2" cy="1203.1" r="1.6"/><circle cx="706.1" cy="1243.3" r="1.3"/><circle cx="711.6" cy="1324.6" r="2.0"/><circle cx="712.7" cy="1391.7" r="1.7"/><circle cx="767.8" cy="1241.2" r="1.5"/><circle cx="570.5" cy="1435.5" r="2.0"/><circle cx="510.5" cy="1452.9" r="2.0"/><circle cx="542.3" cy="1364.0" r="1.6"/><circle cx="708.9" cy="1332.6" r="2.0"/><circle cx="795.5" cy="1424.8" r="1.9"/><circle cx="849.9" cy="1195.5" r="2.1"/><circle cx="791.6" cy="1347.1" r="1.5"/><circle cx="788.5" cy="1220.2" r="1.9"/><circle cx="509.7" cy="1438.7" r="1.7"/><circle cx="591.2" cy="1326.9" r="1.5"/><circle cx="699.4" cy="1466.7" r="1.5"/><circle cx="566.5" cy="1220.1" r="2.2"/><circle cx="571.2" cy="1441.0" r="1.9"/><circle cx="748.5" cy="1388.6" r="1.4"/><circle cx="732.7" cy="1273.3" r="2.0"/><circle cx="530.1" cy="1332.8" r="1.8"/><circle cx="569.8" cy="1454.1" r="1.7"/><circle cx="589.9" cy="1318.7" r="2.0"/><circle cx="713.6" cy="1361.3" r="1.6"/><circle cx="606.4" cy="1192.3" r="1.6"/><circle cx="545.5" cy="1284.3" r="1.6"/><circle cx="546.4" cy="1334.0" r="1.5"/><circle cx="835.3" cy="1400.3" r="1.9"/><circle cx="512.8" cy="1309.6" r="2.0"/><circle cx="523.4" cy="1425.6" r="1.9"/><circle cx="700.5" cy="1337.2" r="1.5"/><circle cx="754.7" cy="1307.8" r="2.1"/><circle cx="581.5" cy="1362.7" r="1.8"/><circle cx="524.9" cy="1243.7" r="2.0"/><circle cx="790.7" cy="1298.7" r="1.7"/><circle cx="696.9" cy="1265.6" r="2.2"/><circle cx="829.5" cy="1224.2" r="2.1"/><circle cx="661.1" cy="1371.9" r="1.8"/><circle cx="520.9" cy="1274.2" r="2.0"/><circle cx="713.3" cy="1465.9" r="1.6"/><circle cx="605.4" cy="1215.2" r="1.9"/><circle cx="695.6" cy="1421.3" r="1.9"/><circle cx="607.8" cy="1201.8" r="1.4"/><circle cx="780.9" cy="1309.9" r="1.5"/><circle cx="713.0" cy="1351.2" r="2.2"/><circle cx="831.7" cy="1403.9" r="1.6"/><circle cx="810.9" cy="1356.6" r="1.5"/><circle cx="532.3" cy="1199.6" r="1.4"/><circle cx="569.7" cy="1281.4" r="1.5"/><circle cx="589.7" cy="1467.4" r="1.9"/><circle cx="873.3" cy="1257.0" r="2.0"/><circle cx="710.1" cy="1250.8" r="2.1"/><circle cx="709.6" cy="1358.4" r="1.3"/><circle cx="503.9" cy="1443.4" r="1.8"/><circle cx="839.7" cy="1342.3" r="2.2"/><circle cx="567.9" cy="1382.8" r="1.4"/><circle cx="735.5" cy="1197.0" r="1.8"/><circle cx="672.7" cy="1307.4" r="1.3"/><circle cx="738.4" cy="1290.7" r="1.6"/><circle cx="747.5" cy="1401.4" r="1.4"/><circle cx="730.8" cy="1360.5" r="2.2"/><circle cx="631.7" cy="1338.5" r="1.4"/><circle cx="566.1" cy="1242.9" r="1.4"/><circle cx="842.7" cy="1356.9" r="1.8"/><circle cx="500.4" cy="1189.8" r="2.0"/><circle cx="503.8" cy="1317.7" r="1.6"/><circle cx="545.4" cy="1231.2" r="1.7"/><circle cx="723.8" cy="1249.1" r="1.6"/><circle cx="591.2" cy="1424.1" r="1.8"/><circle cx="695.9" cy="1256.0" r="1.5"/><circle cx="588.3" cy="1333.7" r="1.9"/><circle cx="543.9" cy="1280.6" r="1.8"/><circle cx="561.6" cy="1237.9" r="1.8"/><circle cx="734.7" cy="1394.6" r="2.1"/><circle cx="835.9" cy="1324.4" r="1.5"/><circle cx="766.4" cy="1208.6" r="1.9"/><circle cx="499.7" cy="1231.6" r="1.7"/><circle cx="816.4" cy="1417.1" r="1.3"/><circle cx="698.3" cy="1245.3" r="2.1"/><circle cx="530.9" cy="1284.6" r="1.9"/><circle cx="861.4" cy="1378.3" r="2.2"/><circle cx="848.3" cy="1314.9" r="1.8"/><circle cx="714.9" cy="1448.4" r="1.9"/><circle cx="828.9" cy="1398.7" r="2.2"/><circle cx="601.2" cy="1239.9" r="1.4"/><circle cx="556.7" cy="1423.2" r="2.1"/><circle cx="868.2" cy="1314.9" r="2.1"/><circle cx="594.2" cy="1375.2" r="2.1"/><circle cx="815.1" cy="1343.1" r="2.0"/><circle cx="706.6" cy="1251.7" r="1.7"/><circle cx="758.4" cy="1371.3" r="1.5"/><circle cx="788.8" cy="1208.3" r="2.0"/><circle cx="731.7" cy="1197.2" r="1.9"/><circle cx="654.5" cy="1462.2" r="1.4"/><circle cx="640.9" cy="1197.7" r="1.8"/><circle cx="564.0" cy="1363.5" r="1.9"/><circle cx="710.9" cy="1379.6" r="1.6"/><circle cx="690.7" cy="1267.0" r="1.6"/><circle cx="687.3" cy="1365.9" r="1.9"/><circle cx="810.9" cy="1288.1" r="1.4"/><circle cx="849.5" cy="1311.7" r="1.5"/><circle cx="649.2" cy="1338.6" r="1.9"/><circle cx="728.3" cy="1430.6" r="1.8"/><circle cx="861.6" cy="1196.6" r="1.6"/><circle cx="673.1" cy="1436.4" r="1.3"/><circle cx="722.0" cy="1367.2" r="2.1"/><circle cx="784.7" cy="1359.3" r="2.1"/><circle cx="576.1" cy="1474.2" r="2.1"/><circle cx="819.5" cy="1406.3" r="1.5"/><circle cx="514.1" cy="1428.0" r="2.1"/><circle cx="795.4" cy="1470.6" r="2.0"/><circle cx="773.0" cy="1470.5" r="1.7"/><circle cx="544.9" cy="1386.3" r="1.7"/><circle cx="552.4" cy="1213.2" r="1.9"/><circle cx="497.6" cy="1449.3" r="2.1"/><circle cx="853.1" cy="1309.2" r="1.4"/><circle cx="521.3" cy="1431.9" r="1.5"/><circle cx="512.6" cy="1424.1" r="1.5"/><circle cx="707.7" cy="1294.2" r="1.7"/><circle cx="698.4" cy="1265.7" r="2.2"/><circle cx="572.5" cy="1308.9" r="1.7"/><circle cx="662.5" cy="1468.7" r="1.9"/><circle cx="588.2" cy="1441.0" r="1.8"/><circle cx="732.8" cy="1287.8" r="2.1"/><circle cx="572.8" cy="1291.5" r="1.7"/><circle cx="675.7" cy="1221.0" r="2.2"/><circle cx="659.7" cy="1322.9" r="1.4"/><circle cx="824.4" cy="1432.1" r="1.5"/><circle cx="733.3" cy="1211.2" r="1.6"/><circle cx="711.5" cy="1395.4" r="1.6"/></g><g fill="#181822" stroke="#15151f" stroke-width="1.6"><circle cx="683.2" cy="1206.3" r="2.1"/><circle cx="687.4" cy="1239.9" r="1.9"/><circle cx="618.0" cy="1294.5" r="1.5"/><circle cx="506.5" cy="1447.8" r="2.0"/><circle cx="662.8" cy="1356.9" r="1.5"/><circle cx="561.9" cy="1404.1" r="1.5"/><circle cx="494.7" cy="1224.4" r="1.7"/><circle cx="560.8" cy="1314.1" r="1.6"/><circle cx="532.5" cy="1361.5" r="1.6"/><circle cx="527.5" cy="1298.7" r="2.0"/><circle cx="516.5" cy="1282.0" r="1.6"/><circle cx="524.9" cy="1436.9" r="1.7"/><circle cx="757.8" cy="1403.5" r="1.5"/><circle cx="770.5" cy="1452.6" r="1.8"/><circle cx="642.3" cy="1468.6" r="2.0"/><circle cx="685.2" cy="1444.0" r="1.8"/><circle cx="853.7" cy="1278.1" r="1.6"/><circle cx="624.9" cy="1405.0" r="1.8"/><circle cx="707.9" cy="1309.2" r="1.7"/><circle cx="545.0" cy="1289.3" r="1.9"/><circle cx="680.9" cy="1192.9" r="1.4"/><circle cx="598.1" cy="1414.6" r="1.9"/><circle cx="637.7" cy="1402.2" r="1.8"/><circle cx="859.3" cy="1200.8" r="1.8"/><circle cx="504.4" cy="1396.2" r="1.7"/><circle cx="711.2" cy="1283.5" r="1.5"/><circle cx="777.0" cy="1200.7" r="2.1"/><circle cx="863.3" cy="1359.5" r="1.7"/><circle cx="823.1" cy="1429.9" r="1.7"/><circle cx="686.0" cy="1199.6" r="1.4"/><circle cx="765.9" cy="1388.9" r="2.1"/><circle cx="589.7" cy="1363.6" r="2.0"/><circle cx="841.2" cy="1307.7" r="1.4"/><circle cx="860.1" cy="1286.8" r="2.2"/><circle cx="532.8" cy="1210.8" r="2.2"/><circle cx="503.7" cy="1428.2" r="1.7"/><circle cx="720.1" cy="1456.8" r="2.1"/><circle cx="852.4" cy="1437.1" r="1.9"/><circle cx="639.3" cy="1397.0" r="2.0"/><circle cx="837.6" cy="1233.4" r="1.5"/><circle cx="710.9" cy="1357.9" r="1.8"/><circle cx="530.4" cy="1412.3" r="1.4"/><circle cx="802.1" cy="1191.4" r="1.9"/><circle cx="552.8" cy="1200.5" r="1.6"/><circle cx="852.2" cy="1249.9" r="2.0"/><circle cx="821.5" cy="1217.4" r="1.9"/><circle cx="545.9" cy="1340.6" r="1.5"/><circle cx="751.6" cy="1440.7" r="1.5"/><circle cx="698.3" cy="1462.9" r="2.1"/><circle cx="824.5" cy="1399.8" r="1.6"/><circle cx="723.8" cy="1283.9" r="1.5"/><circle cx="571.0" cy="1334.9" r="1.7"/><circle cx="673.9" cy="1236.4" r="1.8"/><circle cx="746.7" cy="1301.7" r="1.6"/><circle cx="560.1" cy="1291.1" r="2.1"/><circle cx="688.1" cy="1377.5" r="1.9"/><circle cx="864.2" cy="1261.7" r="2.0"/><circle cx="660.8" cy="1439.9" r="1.6"/><circle cx="735.6" cy="1250.7" r="1.4"/><circle cx="793.8" cy="1443.2" r="1.9"/><circle cx="737.0" cy="1234.4" r="1.6"/><circle cx="600.0" cy="1436.4" r="1.7"/><circle cx="605.4" cy="1457.3" r="2.0"/><circle cx="696.9" cy="1460.7" r="1.5"/><circle cx="666.6" cy="1440.1" r="2.0"/><circle cx="795.8" cy="1256.6" r="1.5"/><circle cx="495.3" cy="1314.7" r="1.9"/><circle cx="601.9" cy="1237.5" r="1.3"/><circle cx="680.8" cy="1233.8" r="1.9"/><circle cx="601.8" cy="1302.1" r="2.1"/><circle cx="515.3" cy="1357.6" r="1.4"/><circle cx="532.2" cy="1373.0" r="1.7"/><circle cx="852.9" cy="1212.5" r="1.5"/><circle cx="827.4" cy="1372.5" r="1.6"/><circle cx="535.1" cy="1336.0" r="1.4"/><circle cx="777.1" cy="1347.6" r="1.4"/><circle cx="666.4" cy="1201.9" r="1.3"/><circle cx="791.9" cy="1370.0" r="1.9"/><circle cx="793.5" cy="1417.2" r="1.4"/><circle cx="649.9" cy="1409.9" r="2.1"/><circle cx="536.2" cy="1275.2" r="1.5"/><circle cx="700.0" cy="1362.2" r="1.7"/><circle cx="611.4" cy="1465.1" r="1.4"/><circle cx="523.7" cy="1221.3" r="1.4"/><circle cx="833.4" cy="1371.0" r="1.9"/><circle cx="662.2" cy="1202.7" r="2.0"/><circle cx="763.1" cy="1431.9" r="2.0"/><circle cx="587.2" cy="1410.3" r="1.4"/><circle cx="565.1" cy="1211.5" r="1.5"/><circle cx="622.6" cy="1368.5" r="1.4"/><circle cx="632.3" cy="1333.5" r="1.5"/><circle cx="517.2" cy="1371.7" r="1.7"/><circle cx="848.8" cy="1336.0" r="1.9"/><circle cx="784.6" cy="1374.9" r="1.9"/><circle cx="527.2" cy="1267.2" r="1.4"/><circle cx="688.7" cy="1454.6" r="1.7"/><circle cx="687.3" cy="1252.6" r="1.4"/><circle cx="608.7" cy="1244.3" r="2.1"/><circle cx="660.1" cy="1283.8" r="1.4"/><circle cx="783.7" cy="1280.2" r="1.5"/><circle cx="746.6" cy="1219.7" r="1.5"/><circle cx="764.4" cy="1385.8" r="1.3"/><circle cx="640.6" cy="1289.1" r="1.7"/></g></g>
<line x1="807.9" y1="1467.7" x2="866.9" y2="1467.7" stroke="#fff" stroke-width="3.4" stroke-linecap="butt"/>
<text x="837.2" y="1458.8" font-size="13" font-weight="normal" text-anchor="middle" fill="#fff" textLength="46.0" lengthAdjust="spacingAndGlyphs" >100μm</text>
<clipPath id="hBclip"><rect x="898.9" y="1186.7" width="387.7" height="290.7"/></clipPath>
<rect x="898.9" y="1186.7" width="387.7" height="290.7" fill="#ebe6e4" filter="url(#hB)"/>
<g clip-path="url(#hBclip)"><g filter="url(#cblur)"><g fill="#433ea6" opacity="0.86"><ellipse cx="1206" cy="1426" rx="13" ry="4.5" transform="rotate(34 1206 1426)"/><ellipse cx="1252" cy="1343" rx="16" ry="7.3" transform="rotate(65 1252 1343)"/><ellipse cx="1283" cy="1292" rx="13" ry="7.3" transform="rotate(46 1283 1292)"/><ellipse cx="937" cy="1200" rx="18" ry="8.2" transform="rotate(33 937 1200)"/><ellipse cx="1098" cy="1374" rx="17" ry="8.4" transform="rotate(-56 1098 1374)"/><ellipse cx="976" cy="1364" rx="17" ry="6.0" transform="rotate(29 976 1364)"/><ellipse cx="904" cy="1413" rx="14" ry="8.1" transform="rotate(56 904 1413)"/><ellipse cx="1286" cy="1215" rx="17" ry="4.9" transform="rotate(18 1286 1215)"/><ellipse cx="1172" cy="1306" rx="17" ry="5.6" transform="rotate(27 1172 1306)"/><ellipse cx="906" cy="1343" rx="17" ry="5.3" transform="rotate(15 906 1343)"/><ellipse cx="1062" cy="1328" rx="16" ry="6.5" transform="rotate(-75 1062 1328)"/><ellipse cx="962" cy="1452" rx="17" ry="5.6" transform="rotate(-61 962 1452)"/><ellipse cx="970" cy="1364" rx="16" ry="6.0" transform="rotate(31 970 1364)"/><ellipse cx="1137" cy="1309" rx="18" ry="6.5" transform="rotate(12 1137 1309)"/><ellipse cx="993" cy="1279" rx="16" ry="7.4" transform="rotate(-56 993 1279)"/><ellipse cx="1171" cy="1224" rx="12" ry="7.0" transform="rotate(72 1171 1224)"/><ellipse cx="1074" cy="1388" rx="12" ry="8.3" transform="rotate(19 1074 1388)"/><ellipse cx="1124" cy="1428" rx="14" ry="5.9" transform="rotate(-72 1124 1428)"/><ellipse cx="1007" cy="1468" rx="18" ry="4.6" transform="rotate(-53 1007 1468)"/><ellipse cx="1185" cy="1284" rx="19" ry="7.5" transform="rotate(46 1185 1284)"/><ellipse cx="943" cy="1346" rx="15" ry="4.8" transform="rotate(-49 943 1346)"/><ellipse cx="971" cy="1393" rx="17" ry="6.5" transform="rotate(-66 971 1393)"/><ellipse cx="1169" cy="1395" rx="17" ry="7.5" transform="rotate(42 1169 1395)"/><ellipse cx="1194" cy="1435" rx="11" ry="7.9" transform="rotate(-24 1194 1435)"/><ellipse cx="1157" cy="1469" rx="16" ry="6.0" transform="rotate(-75 1157 1469)"/><ellipse cx="1108" cy="1383" rx="11" ry="5.4" transform="rotate(-83 1108 1383)"/><ellipse cx="964" cy="1379" rx="12" ry="8.4" transform="rotate(-54 964 1379)"/><ellipse cx="1064" cy="1393" rx="13" ry="7.8" transform="rotate(33 1064 1393)"/><ellipse cx="1276" cy="1468" rx="14" ry="6.6" transform="rotate(-64 1276 1468)"/><ellipse cx="1039" cy="1388" rx="16" ry="8.4" transform="rotate(64 1039 1388)"/><ellipse cx="1220" cy="1212" rx="13" ry="5.0" transform="rotate(-74 1220 1212)"/><ellipse cx="1065" cy="1337" rx="18" ry="5.5" transform="rotate(72 1065 1337)"/><ellipse cx="1122" cy="1462" rx="15" ry="5.0" transform="rotate(-76 1122 1462)"/><ellipse cx="1081" cy="1431" rx="12" ry="8.2" transform="rotate(-65 1081 1431)"/><ellipse cx="1230" cy="1292" rx="13" ry="4.8" transform="rotate(53 1230 1292)"/><ellipse cx="1252" cy="1430" rx="19" ry="6.6" transform="rotate(33 1252 1430)"/><ellipse cx="1026" cy="1394" rx="13" ry="7.2" transform="rotate(-52 1026 1394)"/><ellipse cx="1282" cy="1425" rx="17" ry="7.6" transform="rotate(-57 1282 1425)"/><ellipse cx="1192" cy="1250" rx="19" ry="7.8" transform="rotate(30 1192 1250)"/><ellipse cx="1185" cy="1320" rx="16" ry="6.3" transform="rotate(42 1185 1320)"/><ellipse cx="1252" cy="1266" rx="18" ry="4.6" transform="rotate(15 1252 1266)"/><ellipse cx="1261" cy="1284" rx="18" ry="5.1" transform="rotate(-34 1261 1284)"/><ellipse cx="1187" cy="1416" rx="18" ry="5.1" transform="rotate(16 1187 1416)"/><ellipse cx="1264" cy="1224" rx="13" ry="6.4" transform="rotate(-69 1264 1224)"/><ellipse cx="1282" cy="1437" rx="13" ry="6.7" transform="rotate(69 1282 1437)"/><ellipse cx="1241" cy="1410" rx="13" ry="8.4" transform="rotate(-59 1241 1410)"/><ellipse cx="1023" cy="1436" rx="13" ry="5.6" transform="rotate(67 1023 1436)"/><ellipse cx="1181" cy="1360" rx="18" ry="5.9" transform="rotate(-35 1181 1360)"/><ellipse cx="1244" cy="1368" rx="17" ry="8.4" transform="rotate(-57 1244 1368)"/><ellipse cx="1146" cy="1469" rx="16" ry="7.8" transform="rotate(61 1146 1469)"/><ellipse cx="1189" cy="1214" rx="14" ry="7.1" transform="rotate(47 1189 1214)"/><ellipse cx="921" cy="1380" rx="14" ry="4.9" transform="rotate(56 921 1380)"/><ellipse cx="1055" cy="1391" rx="12" ry="5.0" transform="rotate(18 1055 1391)"/><ellipse cx="1256" cy="1412" rx="14" ry="5.4" transform="rotate(64 1256 1412)"/><ellipse cx="1248" cy="1218" rx="12" ry="5.0" transform="rotate(-82 1248 1218)"/><ellipse cx="1244" cy="1231" rx="17" ry="6.9" transform="rotate(-63 1244 1231)"/><ellipse cx="1273" cy="1319" rx="15" ry="5.4" transform="rotate(-33 1273 1319)"/><ellipse cx="1005" cy="1430" rx="16" ry="5.4" transform="rotate(-63 1005 1430)"/><ellipse cx="1149" cy="1449" rx="15" ry="5.5" transform="rotate(-79 1149 1449)"/><ellipse cx="1017" cy="1358" rx="12" ry="8.1" transform="rotate(-34 1017 1358)"/><ellipse cx="927" cy="1313" rx="18" ry="4.9" transform="rotate(-46 927 1313)"/><ellipse cx="1278" cy="1336" rx="14" ry="8.1" transform="rotate(21 1278 1336)"/><ellipse cx="1215" cy="1254" rx="13" ry="8.2" transform="rotate(70 1215 1254)"/><ellipse cx="1203" cy="1198" rx="13" ry="7.6" transform="rotate(-61 1203 1198)"/><ellipse cx="1239" cy="1246" rx="12" ry="5.3" transform="rotate(51 1239 1246)"/><ellipse cx="957" cy="1388" rx="17" ry="7.9" transform="rotate(-60 957 1388)"/><ellipse cx="1255" cy="1383" rx="11" ry="8.2" transform="rotate(-38 1255 1383)"/><ellipse cx="1095" cy="1407" rx="16" ry="8.4" transform="rotate(-32 1095 1407)"/><ellipse cx="1198" cy="1189" rx="15" ry="5.7" transform="rotate(-74 1198 1189)"/><ellipse cx="1153" cy="1361" rx="14" ry="8.0" transform="rotate(-17 1153 1361)"/><ellipse cx="1009" cy="1274" rx="11" ry="6.3" transform="rotate(34 1009 1274)"/><ellipse cx="1255" cy="1292" rx="14" ry="6.6" transform="rotate(68 1255 1292)"/><ellipse cx="976" cy="1322" rx="15" ry="5.1" transform="rotate(41 976 1322)"/><ellipse cx="1017" cy="1468" rx="11" ry="6.1" transform="rotate(70 1017 1468)"/><ellipse cx="1108" cy="1188" rx="17" ry="7.9" transform="rotate(64 1108 1188)"/><ellipse cx="1284" cy="1355" rx="13" ry="7.0" transform="rotate(31 1284 1355)"/><ellipse cx="1206" cy="1451" rx="16" ry="6.1" transform="rotate(-73 1206 1451)"/><ellipse cx="1102" cy="1259" rx="12" ry="5.9" transform="rotate(62 1102 1259)"/><ellipse cx="1115" cy="1203" rx="15" ry="5.9" transform="rotate(17 1115 1203)"/><ellipse cx="1047" cy="1350" rx="13" ry="8.0" transform="rotate(-34 1047 1350)"/><ellipse cx="1155" cy="1300" rx="15" ry="6.8" transform="rotate(-42 1155 1300)"/><ellipse cx="1162" cy="1399" rx="11" ry="7.1" transform="rotate(-74 1162 1399)"/><ellipse cx="1173" cy="1410" rx="13" ry="5.1" transform="rotate(-61 1173 1410)"/><ellipse cx="1253" cy="1315" rx="15" ry="5.8" transform="rotate(48 1253 1315)"/><ellipse cx="1186" cy="1201" rx="16" ry="5.6" transform="rotate(-43 1186 1201)"/><ellipse cx="1130" cy="1437" rx="14" ry="8.2" transform="rotate(34 1130 1437)"/><ellipse cx="1003" cy="1254" rx="18" ry="7.9" transform="rotate(-73 1003 1254)"/><ellipse cx="960" cy="1191" rx="11" ry="4.7" transform="rotate(25 960 1191)"/><ellipse cx="981" cy="1407" rx="17" ry="4.5" transform="rotate(80 981 1407)"/><ellipse cx="1198" cy="1267" rx="14" ry="5.7" transform="rotate(24 1198 1267)"/><ellipse cx="1144" cy="1363" rx="19" ry="7.0" transform="rotate(54 1144 1363)"/><ellipse cx="900" cy="1420" rx="12" ry="7.4" transform="rotate(50 900 1420)"/><ellipse cx="942" cy="1260" rx="16" ry="5.0" transform="rotate(88 942 1260)"/><ellipse cx="946" cy="1193" rx="18" ry="5.8" transform="rotate(34 946 1193)"/><ellipse cx="958" cy="1267" rx="13" ry="5.8" transform="rotate(74 958 1267)"/><ellipse cx="1197" cy="1460" rx="15" ry="8.4" transform="rotate(-74 1197 1460)"/><ellipse cx="956" cy="1258" rx="18" ry="8.4" transform="rotate(-80 956 1258)"/><ellipse cx="943" cy="1432" rx="17" ry="5.3" transform="rotate(-55 943 1432)"/><ellipse cx="994" cy="1377" rx="18" ry="7.5" transform="rotate(-50 994 1377)"/><ellipse cx="1112" cy="1437" rx="15" ry="5.5" transform="rotate(-63 1112 1437)"/><ellipse cx="905" cy="1203" rx="12" ry="5.2" transform="rotate(31 905 1203)"/><ellipse cx="935" cy="1422" rx="16" ry="7.1" transform="rotate(64 935 1422)"/><ellipse cx="1144" cy="1255" rx="12" ry="6.7" transform="rotate(13 1144 1255)"/><ellipse cx="1244" cy="1422" rx="16" ry="7.9" transform="rotate(-54 1244 1422)"/><ellipse cx="1102" cy="1221" rx="18" ry="7.0" transform="rotate(-48 1102 1221)"/><ellipse cx="1152" cy="1233" rx="12" ry="4.9" transform="rotate(64 1152 1233)"/><ellipse cx="1226" cy="1466" rx="13" ry="6.2" transform="rotate(66 1226 1466)"/><ellipse cx="1221" cy="1445" rx="14" ry="8.1" transform="rotate(50 1221 1445)"/><ellipse cx="1008" cy="1310" rx="13" ry="7.8" transform="rotate(51 1008 1310)"/><ellipse cx="1063" cy="1316" rx="14" ry="6.0" transform="rotate(53 1063 1316)"/><ellipse cx="1147" cy="1320" rx="18" ry="7.1" transform="rotate(86 1147 1320)"/><ellipse cx="958" cy="1435" rx="11" ry="6.1" transform="rotate(30 958 1435)"/><ellipse cx="1016" cy="1416" rx="16" ry="6.5" transform="rotate(63 1016 1416)"/><ellipse cx="1091" cy="1433" rx="12" ry="7.0" transform="rotate(-62 1091 1433)"/><ellipse cx="986" cy="1332" rx="15" ry="6.3" transform="rotate(20 986 1332)"/><ellipse cx="916" cy="1363" rx="14" ry="5.3" transform="rotate(53 916 1363)"/><ellipse cx="1271" cy="1335" rx="19" ry="7.0" transform="rotate(67 1271 1335)"/><ellipse cx="1279" cy="1433" rx="18" ry="5.0" transform="rotate(-40 1279 1433)"/><ellipse cx="1050" cy="1446" rx="12" ry="8.2" transform="rotate(-22 1050 1446)"/><ellipse cx="903" cy="1308" rx="18" ry="4.5" transform="rotate(14 903 1308)"/><ellipse cx="1117" cy="1240" rx="11" ry="8.1" transform="rotate(-61 1117 1240)"/><ellipse cx="965" cy="1377" rx="11" ry="6.5" transform="rotate(-68 965 1377)"/><ellipse cx="1128" cy="1456" rx="12" ry="6.8" transform="rotate(37 1128 1456)"/><ellipse cx="940" cy="1204" rx="19" ry="7.0" transform="rotate(-45 940 1204)"/><ellipse cx="1188" cy="1295" rx="17" ry="5.4" transform="rotate(-33 1188 1295)"/><ellipse cx="996" cy="1463" rx="18" ry="6.2" transform="rotate(-61 996 1463)"/><ellipse cx="1099" cy="1356" rx="15" ry="7.4" transform="rotate(-42 1099 1356)"/><ellipse cx="1077" cy="1282" rx="14" ry="6.5" transform="rotate(31 1077 1282)"/><ellipse cx="1030" cy="1462" rx="16" ry="7.2" transform="rotate(8 1030 1462)"/><ellipse cx="959" cy="1190" rx="13" ry="7.8" transform="rotate(60 959 1190)"/><ellipse cx="1269" cy="1428" rx="13" ry="8.2" transform="rotate(-56 1269 1428)"/><ellipse cx="980" cy="1384" rx="11" ry="6.3" transform="rotate(34 980 1384)"/><ellipse cx="923" cy="1318" rx="12" ry="6.1" transform="rotate(-83 923 1318)"/><ellipse cx="937" cy="1212" rx="16" ry="5.3" transform="rotate(-40 937 1212)"/><ellipse cx="1235" cy="1215" rx="18" ry="8.5" transform="rotate(-69 1235 1215)"/><ellipse cx="1077" cy="1226" rx="18" ry="5.7" transform="rotate(68 1077 1226)"/><ellipse cx="1039" cy="1368" rx="17" ry="5.0" transform="rotate(-85 1039 1368)"/><ellipse cx="910" cy="1310" rx="11" ry="6.3" transform="rotate(86 910 1310)"/><ellipse cx="1098" cy="1376" rx="18" ry="8.1" transform="rotate(-51 1098 1376)"/><ellipse cx="965" cy="1213" rx="18" ry="5.2" transform="rotate(82 965 1213)"/><ellipse cx="918" cy="1265" rx="18" ry="6.3" transform="rotate(21 918 1265)"/><ellipse cx="1011" cy="1410" rx="17" ry="5.9" transform="rotate(77 1011 1410)"/><ellipse cx="1213" cy="1384" rx="19" ry="7.3" transform="rotate(28 1213 1384)"/><ellipse cx="997" cy="1401" rx="15" ry="7.7" transform="rotate(30 997 1401)"/><ellipse cx="907" cy="1429" rx="15" ry="7.0" transform="rotate(27 907 1429)"/><ellipse cx="1286" cy="1322" rx="15" ry="5.3" transform="rotate(81 1286 1322)"/><ellipse cx="1265" cy="1334" rx="14" ry="6.5" transform="rotate(48 1265 1334)"/><ellipse cx="929" cy="1289" rx="12" ry="4.8" transform="rotate(-59 929 1289)"/><ellipse cx="1202" cy="1247" rx="15" ry="5.5" transform="rotate(46 1202 1247)"/><ellipse cx="1196" cy="1291" rx="13" ry="5.8" transform="rotate(-48 1196 1291)"/><ellipse cx="1108" cy="1371" rx="13" ry="7.6" transform="rotate(-18 1108 1371)"/><ellipse cx="1128" cy="1398" rx="14" ry="6.0" transform="rotate(-22 1128 1398)"/><ellipse cx="1265" cy="1370" rx="18" ry="7.1" transform="rotate(35 1265 1370)"/><ellipse cx="1146" cy="1315" rx="16" ry="8.4" transform="rotate(33 1146 1315)"/><ellipse cx="1265" cy="1243" rx="16" ry="5.8" transform="rotate(-47 1265 1243)"/><ellipse cx="1247" cy="1401" rx="13" ry="7.3" transform="rotate(-50 1247 1401)"/><ellipse cx="1013" cy="1374" rx="12" ry="4.9" transform="rotate(66 1013 1374)"/><ellipse cx="1166" cy="1213" rx="14" ry="5.4" transform="rotate(-35 1166 1213)"/><ellipse cx="1041" cy="1312" rx="12" ry="5.2" transform="rotate(-54 1041 1312)"/><ellipse cx="1025" cy="1394" rx="13" ry="7.9" transform="rotate(-35 1025 1394)"/><ellipse cx="1092" cy="1389" rx="18" ry="7.8" transform="rotate(32 1092 1389)"/><ellipse cx="1214" cy="1239" rx="17" ry="6.0" transform="rotate(51 1214 1239)"/><ellipse cx="1031" cy="1189" rx="16" ry="8.4" transform="rotate(23 1031 1189)"/><ellipse cx="1095" cy="1253" rx="12" ry="7.5" transform="rotate(50 1095 1253)"/><ellipse cx="1019" cy="1360" rx="18" ry="7.1" transform="rotate(7 1019 1360)"/></g><g fill="#241f78" opacity="0.85"><ellipse cx="1206" cy="1424" rx="7" ry="2.8" transform="rotate(34 1206 1426)"/><ellipse cx="1250" cy="1343" rx="8" ry="4.5" transform="rotate(65 1252 1343)"/><ellipse cx="1098" cy="1374" rx="9" ry="5.2" transform="rotate(-56 1098 1374)"/><ellipse cx="978" cy="1364" rx="8" ry="3.7" transform="rotate(29 976 1364)"/><ellipse cx="903" cy="1414" rx="7" ry="5.0" transform="rotate(56 904 1413)"/><ellipse cx="908" cy="1345" rx="9" ry="3.3" transform="rotate(15 906 1343)"/><ellipse cx="1062" cy="1327" rx="8" ry="4.0" transform="rotate(-75 1062 1328)"/><ellipse cx="961" cy="1453" rx="8" ry="3.4" transform="rotate(-61 962 1452)"/><ellipse cx="968" cy="1366" rx="8" ry="3.7" transform="rotate(31 970 1364)"/><ellipse cx="1139" cy="1310" rx="9" ry="4.0" transform="rotate(12 1137 1309)"/><ellipse cx="995" cy="1280" rx="8" ry="4.6" transform="rotate(-56 993 1279)"/><ellipse cx="1074" cy="1388" rx="6" ry="5.1" transform="rotate(19 1074 1388)"/><ellipse cx="1006" cy="1469" rx="9" ry="2.9" transform="rotate(-53 1007 1468)"/><ellipse cx="1184" cy="1285" rx="9" ry="4.6" transform="rotate(46 1185 1284)"/><ellipse cx="1170" cy="1394" rx="8" ry="4.7" transform="rotate(42 1169 1395)"/><ellipse cx="1195" cy="1435" rx="6" ry="4.9" transform="rotate(-24 1194 1435)"/><ellipse cx="1156" cy="1470" rx="8" ry="3.7" transform="rotate(-75 1157 1469)"/><ellipse cx="1110" cy="1382" rx="6" ry="3.3" transform="rotate(-83 1108 1383)"/><ellipse cx="966" cy="1381" rx="6" ry="5.2" transform="rotate(-54 964 1379)"/><ellipse cx="1064" cy="1394" rx="6" ry="4.8" transform="rotate(33 1064 1393)"/><ellipse cx="1275" cy="1469" rx="7" ry="4.1" transform="rotate(-64 1276 1468)"/><ellipse cx="1037" cy="1386" rx="8" ry="5.2" transform="rotate(64 1039 1388)"/><ellipse cx="1221" cy="1214" rx="7" ry="3.1" transform="rotate(-74 1220 1212)"/><ellipse cx="1065" cy="1338" rx="9" ry="3.4" transform="rotate(72 1065 1337)"/><ellipse cx="1080" cy="1431" rx="6" ry="5.1" transform="rotate(-65 1081 1431)"/><ellipse cx="1230" cy="1291" rx="7" ry="3.0" transform="rotate(53 1230 1292)"/><ellipse cx="1027" cy="1394" rx="7" ry="4.4" transform="rotate(-52 1026 1394)"/><ellipse cx="1192" cy="1251" rx="9" ry="4.8" transform="rotate(30 1192 1250)"/><ellipse cx="1187" cy="1320" rx="8" ry="3.9" transform="rotate(42 1185 1320)"/><ellipse cx="1254" cy="1265" rx="9" ry="2.9" transform="rotate(15 1252 1266)"/><ellipse cx="1281" cy="1437" rx="7" ry="4.1" transform="rotate(69 1282 1437)"/><ellipse cx="1025" cy="1435" rx="6" ry="3.5" transform="rotate(67 1023 1436)"/><ellipse cx="1182" cy="1359" rx="9" ry="3.7" transform="rotate(-35 1181 1360)"/><ellipse cx="1244" cy="1367" rx="8" ry="5.2" transform="rotate(-57 1244 1368)"/><ellipse cx="1146" cy="1470" rx="8" ry="4.9" transform="rotate(61 1146 1469)"/><ellipse cx="1191" cy="1216" rx="7" ry="4.4" transform="rotate(47 1189 1214)"/><ellipse cx="922" cy="1379" rx="7" ry="3.0" transform="rotate(56 921 1380)"/><ellipse cx="1055" cy="1392" rx="6" ry="3.1" transform="rotate(18 1055 1391)"/><ellipse cx="1249" cy="1219" rx="6" ry="3.1" transform="rotate(-82 1248 1218)"/><ellipse cx="1244" cy="1231" rx="9" ry="4.3" transform="rotate(-63 1244 1231)"/><ellipse cx="1273" cy="1320" rx="8" ry="3.3" transform="rotate(-33 1273 1319)"/><ellipse cx="1006" cy="1429" rx="8" ry="3.4" transform="rotate(-63 1005 1430)"/><ellipse cx="1149" cy="1449" rx="7" ry="3.4" transform="rotate(-79 1149 1449)"/><ellipse cx="1019" cy="1359" rx="6" ry="5.0" transform="rotate(-34 1017 1358)"/><ellipse cx="927" cy="1314" rx="9" ry="3.1" transform="rotate(-46 927 1313)"/><ellipse cx="1278" cy="1335" rx="7" ry="5.0" transform="rotate(21 1278 1336)"/><ellipse cx="1216" cy="1252" rx="7" ry="5.1" transform="rotate(70 1215 1254)"/><ellipse cx="1203" cy="1197" rx="6" ry="4.7" transform="rotate(-61 1203 1198)"/><ellipse cx="1238" cy="1245" rx="6" ry="3.3" transform="rotate(51 1239 1246)"/><ellipse cx="959" cy="1389" rx="8" ry="4.9" transform="rotate(-60 957 1388)"/><ellipse cx="1255" cy="1384" rx="6" ry="5.1" transform="rotate(-38 1255 1383)"/><ellipse cx="1198" cy="1188" rx="8" ry="3.5" transform="rotate(-74 1198 1189)"/><ellipse cx="1151" cy="1362" rx="7" ry="4.9" transform="rotate(-17 1153 1361)"/><ellipse cx="1008" cy="1272" rx="6" ry="3.9" transform="rotate(34 1009 1274)"/><ellipse cx="1255" cy="1291" rx="7" ry="4.1" transform="rotate(68 1255 1292)"/><ellipse cx="974" cy="1321" rx="8" ry="3.2" transform="rotate(41 976 1322)"/><ellipse cx="1109" cy="1188" rx="9" ry="4.9" transform="rotate(64 1108 1188)"/><ellipse cx="1286" cy="1355" rx="6" ry="4.3" transform="rotate(31 1284 1355)"/><ellipse cx="1208" cy="1451" rx="8" ry="3.8" transform="rotate(-73 1206 1451)"/><ellipse cx="1100" cy="1259" rx="6" ry="3.7" transform="rotate(62 1102 1259)"/><ellipse cx="1114" cy="1204" rx="8" ry="3.7" transform="rotate(17 1115 1203)"/><ellipse cx="1157" cy="1299" rx="7" ry="4.2" transform="rotate(-42 1155 1300)"/><ellipse cx="1163" cy="1400" rx="6" ry="4.4" transform="rotate(-74 1162 1399)"/><ellipse cx="1175" cy="1410" rx="6" ry="3.2" transform="rotate(-61 1173 1410)"/><ellipse cx="1254" cy="1315" rx="8" ry="3.6" transform="rotate(48 1253 1315)"/><ellipse cx="1188" cy="1202" rx="8" ry="3.5" transform="rotate(-43 1186 1201)"/><ellipse cx="1131" cy="1438" rx="7" ry="5.1" transform="rotate(34 1130 1437)"/><ellipse cx="959" cy="1192" rx="6" ry="2.9" transform="rotate(25 960 1191)"/><ellipse cx="982" cy="1408" rx="8" ry="2.8" transform="rotate(80 981 1407)"/><ellipse cx="1199" cy="1269" rx="7" ry="3.5" transform="rotate(24 1198 1267)"/><ellipse cx="1143" cy="1361" rx="9" ry="4.4" transform="rotate(54 1144 1363)"/><ellipse cx="901" cy="1421" rx="6" ry="4.6" transform="rotate(50 900 1420)"/><ellipse cx="942" cy="1259" rx="8" ry="3.1" transform="rotate(88 942 1260)"/><ellipse cx="955" cy="1257" rx="9" ry="5.2" transform="rotate(-80 956 1258)"/><ellipse cx="996" cy="1376" rx="9" ry="4.6" transform="rotate(-50 994 1377)"/><ellipse cx="1113" cy="1438" rx="7" ry="3.4" transform="rotate(-63 1112 1437)"/><ellipse cx="906" cy="1201" rx="6" ry="3.2" transform="rotate(31 905 1203)"/><ellipse cx="935" cy="1423" rx="8" ry="4.4" transform="rotate(64 935 1422)"/><ellipse cx="1244" cy="1421" rx="8" ry="4.9" transform="rotate(-54 1244 1422)"/><ellipse cx="1102" cy="1222" rx="9" ry="4.3" transform="rotate(-48 1102 1221)"/><ellipse cx="1152" cy="1232" rx="6" ry="3.1" transform="rotate(64 1152 1233)"/><ellipse cx="1227" cy="1467" rx="6" ry="3.8" transform="rotate(66 1226 1466)"/><ellipse cx="1010" cy="1312" rx="6" ry="4.8" transform="rotate(51 1008 1310)"/><ellipse cx="1062" cy="1316" rx="7" ry="3.7" transform="rotate(53 1063 1316)"/><ellipse cx="1149" cy="1322" rx="9" ry="4.4" transform="rotate(86 1147 1320)"/><ellipse cx="1092" cy="1432" rx="6" ry="4.3" transform="rotate(-62 1091 1433)"/><ellipse cx="916" cy="1363" rx="7" ry="3.3" transform="rotate(53 916 1363)"/><ellipse cx="1272" cy="1337" rx="9" ry="4.3" transform="rotate(67 1271 1335)"/><ellipse cx="1048" cy="1445" rx="6" ry="5.1" transform="rotate(-22 1050 1446)"/><ellipse cx="905" cy="1308" rx="9" ry="2.8" transform="rotate(14 903 1308)"/><ellipse cx="1117" cy="1241" rx="6" ry="5.0" transform="rotate(-61 1117 1240)"/><ellipse cx="1128" cy="1456" rx="6" ry="4.2" transform="rotate(37 1128 1456)"/><ellipse cx="939" cy="1205" rx="9" ry="4.3" transform="rotate(-45 940 1204)"/><ellipse cx="1187" cy="1296" rx="8" ry="3.4" transform="rotate(-33 1188 1295)"/><ellipse cx="994" cy="1465" rx="9" ry="3.8" transform="rotate(-61 996 1463)"/><ellipse cx="1029" cy="1463" rx="8" ry="4.4" transform="rotate(8 1030 1462)"/><ellipse cx="959" cy="1189" rx="7" ry="4.8" transform="rotate(60 959 1190)"/><ellipse cx="1270" cy="1427" rx="7" ry="5.1" transform="rotate(-56 1269 1428)"/><ellipse cx="981" cy="1382" rx="6" ry="3.9" transform="rotate(34 980 1384)"/><ellipse cx="924" cy="1317" rx="6" ry="3.8" transform="rotate(-83 923 1318)"/><ellipse cx="936" cy="1214" rx="8" ry="3.3" transform="rotate(-40 937 1212)"/><ellipse cx="1076" cy="1226" rx="9" ry="3.5" transform="rotate(68 1077 1226)"/><ellipse cx="1039" cy="1367" rx="9" ry="3.1" transform="rotate(-85 1039 1368)"/><ellipse cx="911" cy="1308" rx="6" ry="3.9" transform="rotate(86 910 1310)"/><ellipse cx="1098" cy="1375" rx="9" ry="5.0" transform="rotate(-51 1098 1376)"/><ellipse cx="919" cy="1266" rx="9" ry="3.9" transform="rotate(21 918 1265)"/><ellipse cx="1012" cy="1409" rx="8" ry="3.7" transform="rotate(77 1011 1410)"/><ellipse cx="1212" cy="1385" rx="9" ry="4.5" transform="rotate(28 1213 1384)"/><ellipse cx="1264" cy="1333" rx="7" ry="4.1" transform="rotate(48 1265 1334)"/><ellipse cx="928" cy="1288" rx="6" ry="3.0" transform="rotate(-59 929 1289)"/><ellipse cx="1201" cy="1248" rx="8" ry="3.4" transform="rotate(46 1202 1247)"/><ellipse cx="1195" cy="1293" rx="6" ry="3.6" transform="rotate(-48 1196 1291)"/><ellipse cx="1130" cy="1398" rx="7" ry="3.7" transform="rotate(-22 1128 1398)"/><ellipse cx="1265" cy="1369" rx="9" ry="4.4" transform="rotate(35 1265 1370)"/><ellipse cx="1145" cy="1314" rx="8" ry="5.2" transform="rotate(33 1146 1315)"/><ellipse cx="1267" cy="1244" rx="8" ry="3.6" transform="rotate(-47 1265 1243)"/><ellipse cx="1248" cy="1400" rx="7" ry="4.5" transform="rotate(-50 1247 1401)"/><ellipse cx="1013" cy="1374" rx="6" ry="3.1" transform="rotate(66 1013 1374)"/><ellipse cx="1165" cy="1215" rx="7" ry="3.4" transform="rotate(-35 1166 1213)"/><ellipse cx="1040" cy="1311" rx="6" ry="3.2" transform="rotate(-54 1041 1312)"/><ellipse cx="1023" cy="1393" rx="7" ry="4.9" transform="rotate(-35 1025 1394)"/><ellipse cx="1091" cy="1390" rx="9" ry="4.8" transform="rotate(32 1092 1389)"/><ellipse cx="1212" cy="1239" rx="9" ry="3.7" transform="rotate(51 1214 1239)"/><ellipse cx="1094" cy="1253" rx="6" ry="4.6" transform="rotate(50 1095 1253)"/><ellipse cx="1019" cy="1359" rx="9" ry="4.4" transform="rotate(7 1019 1360)"/></g></g>
<g fill="#f4f4f4" stroke="#15151f" stroke-width="2"><circle cx="908.7" cy="1462.1" r="1.4"/><circle cx="1002.3" cy="1241.9" r="1.7"/><circle cx="1266.2" cy="1405.4" r="1.8"/><circle cx="986.0" cy="1230.3" r="2.0"/><circle cx="983.6" cy="1455.8" r="1.9"/><circle cx="1015.3" cy="1230.6" r="1.9"/><circle cx="1029.0" cy="1281.8" r="1.9"/><circle cx="1087.2" cy="1343.9" r="1.7"/><circle cx="1267.0" cy="1368.4" r="1.6"/><circle cx="1079.6" cy="1205.5" r="1.9"/><circle cx="1026.0" cy="1284.6" r="2.0"/><circle cx="1129.8" cy="1464.6" r="1.7"/><circle cx="1124.3" cy="1276.5" r="1.6"/><circle cx="938.1" cy="1407.2" r="1.4"/><circle cx="990.3" cy="1203.5" r="1.6"/><circle cx="1154.7" cy="1244.4" r="1.8"/><circle cx="1257.1" cy="1361.2" r="1.8"/><circle cx="1137.4" cy="1198.0" r="1.9"/><circle cx="907.0" cy="1227.2" r="2.0"/><circle cx="1122.4" cy="1329.7" r="1.8"/><circle cx="988.8" cy="1263.5" r="1.5"/><circle cx="1132.1" cy="1428.1" r="1.6"/><circle cx="1045.7" cy="1303.9" r="1.5"/><circle cx="1018.8" cy="1414.2" r="2.2"/><circle cx="935.8" cy="1199.1" r="2.0"/><circle cx="1217.1" cy="1345.1" r="1.6"/><circle cx="932.1" cy="1341.4" r="1.5"/><circle cx="1155.5" cy="1288.8" r="2.0"/><circle cx="1049.5" cy="1369.2" r="1.3"/><circle cx="941.3" cy="1246.6" r="1.4"/><circle cx="966.7" cy="1404.9" r="1.4"/><circle cx="1229.4" cy="1249.7" r="1.4"/><circle cx="1080.4" cy="1243.9" r="1.5"/><circle cx="1251.0" cy="1429.1" r="1.5"/><circle cx="983.8" cy="1380.7" r="1.5"/><circle cx="946.8" cy="1458.5" r="1.6"/><circle cx="1157.8" cy="1315.2" r="2.0"/><circle cx="1001.1" cy="1301.4" r="1.6"/><circle cx="953.5" cy="1473.2" r="2.1"/><circle cx="1130.9" cy="1464.4" r="1.4"/><circle cx="1108.0" cy="1315.1" r="2.1"/><circle cx="1147.2" cy="1221.8" r="1.9"/><circle cx="1055.6" cy="1344.1" r="2.2"/><circle cx="1064.1" cy="1303.5" r="1.3"/><circle cx="1085.5" cy="1452.1" r="1.7"/><circle cx="1149.4" cy="1306.8" r="2.0"/><circle cx="1276.6" cy="1270.4" r="1.4"/><circle cx="1072.6" cy="1355.2" r="1.6"/><circle cx="909.6" cy="1308.6" r="2.1"/><circle cx="1164.1" cy="1363.4" r="1.7"/><circle cx="1200.1" cy="1216.1" r="1.5"/><circle cx="1171.7" cy="1380.9" r="1.5"/><circle cx="1266.6" cy="1387.7" r="2.1"/><circle cx="940.3" cy="1391.7" r="1.6"/><circle cx="1065.0" cy="1363.4" r="1.7"/><circle cx="1250.9" cy="1291.9" r="1.9"/><circle cx="1072.8" cy="1218.2" r="1.6"/><circle cx="913.8" cy="1250.6" r="1.8"/><circle cx="942.5" cy="1201.2" r="1.9"/><circle cx="1199.0" cy="1461.3" r="1.9"/><circle cx="1115.2" cy="1409.4" r="1.5"/><circle cx="1155.9" cy="1293.7" r="1.9"/><circle cx="1175.8" cy="1264.2" r="1.7"/><circle cx="1227.5" cy="1421.8" r="2.1"/><circle cx="1084.7" cy="1240.0" r="2.2"/><circle cx="1275.1" cy="1366.8" r="1.7"/><circle cx="936.7" cy="1269.9" r="1.4"/><circle cx="1120.1" cy="1377.0" r="2.1"/><circle cx="1232.4" cy="1343.9" r="2.1"/><circle cx="1174.4" cy="1311.5" r="1.5"/><circle cx="1038.3" cy="1196.2" r="2.0"/><circle cx="977.7" cy="1359.6" r="2.1"/><circle cx="1125.6" cy="1443.6" r="2.1"/><circle cx="1101.2" cy="1324.3" r="1.8"/><circle cx="1052.3" cy="1266.2" r="1.5"/><circle cx="1040.6" cy="1436.1" r="1.5"/><circle cx="1111.7" cy="1266.5" r="1.9"/><circle cx="1123.0" cy="1402.4" r="1.8"/><circle cx="1066.9" cy="1411.8" r="1.6"/><circle cx="1115.7" cy="1449.3" r="1.4"/><circle cx="1265.0" cy="1221.1" r="1.8"/><circle cx="1227.5" cy="1433.4" r="1.9"/><circle cx="984.2" cy="1432.5" r="1.4"/><circle cx="1109.0" cy="1234.9" r="1.9"/><circle cx="1270.1" cy="1279.6" r="1.3"/><circle cx="1145.7" cy="1363.1" r="1.5"/><circle cx="905.1" cy="1288.6" r="1.8"/><circle cx="1044.6" cy="1294.7" r="1.4"/><circle cx="1053.2" cy="1224.5" r="2.0"/><circle cx="1264.1" cy="1408.6" r="1.4"/><circle cx="1137.6" cy="1440.8" r="1.5"/><circle cx="1248.9" cy="1235.2" r="2.1"/><circle cx="1204.5" cy="1266.0" r="2.1"/><circle cx="917.9" cy="1388.7" r="2.2"/><circle cx="1084.6" cy="1333.0" r="1.7"/><circle cx="974.1" cy="1445.3" r="1.4"/><circle cx="1251.6" cy="1424.2" r="1.6"/><circle cx="955.1" cy="1330.9" r="1.3"/><circle cx="1189.5" cy="1377.2" r="1.6"/><circle cx="1138.5" cy="1221.5" r="2.0"/><circle cx="930.2" cy="1397.9" r="1.4"/><circle cx="973.0" cy="1337.8" r="1.5"/><circle cx="916.6" cy="1307.3" r="1.8"/><circle cx="1080.2" cy="1193.0" r="1.4"/><circle cx="1245.6" cy="1347.4" r="1.3"/><circle cx="1265.9" cy="1413.4" r="2.1"/><circle cx="955.3" cy="1353.0" r="1.5"/><circle cx="994.7" cy="1430.9" r="1.4"/><circle cx="1160.3" cy="1196.9" r="1.7"/><circle cx="918.8" cy="1249.4" r="1.6"/><circle cx="1089.5" cy="1339.7" r="1.6"/><circle cx="1216.5" cy="1279.1" r="1.5"/><circle cx="924.4" cy="1376.4" r="1.6"/><circle cx="1086.4" cy="1200.8" r="1.8"/><circle cx="1040.2" cy="1306.3" r="1.3"/><circle cx="1107.8" cy="1337.9" r="1.7"/><circle cx="1224.1" cy="1413.4" r="2.0"/><circle cx="995.6" cy="1314.8" r="1.8"/><circle cx="1234.3" cy="1231.6" r="1.7"/><circle cx="931.4" cy="1238.8" r="1.6"/><circle cx="1085.8" cy="1254.6" r="1.3"/><circle cx="921.1" cy="1426.1" r="1.8"/><circle cx="1107.5" cy="1364.4" r="1.3"/><circle cx="965.4" cy="1302.7" r="2.0"/><circle cx="1148.8" cy="1427.7" r="2.1"/><circle cx="966.8" cy="1240.0" r="1.9"/><circle cx="984.1" cy="1265.5" r="1.6"/><circle cx="1150.5" cy="1302.4" r="1.3"/><circle cx="1237.1" cy="1381.5" r="2.0"/><circle cx="1140.3" cy="1435.1" r="2.0"/><circle cx="1123.8" cy="1235.3" r="1.8"/><circle cx="954.9" cy="1380.3" r="1.9"/><circle cx="1160.3" cy="1306.3" r="1.6"/><circle cx="1108.4" cy="1194.8" r="2.1"/><circle cx="1072.2" cy="1379.7" r="1.7"/><circle cx="1151.7" cy="1278.4" r="1.7"/><circle cx="1121.1" cy="1220.4" r="1.8"/><circle cx="1014.0" cy="1340.0" r="2.2"/><circle cx="1111.0" cy="1246.6" r="2.1"/><circle cx="1044.7" cy="1448.5" r="2.0"/><circle cx="1164.4" cy="1425.0" r="1.7"/><circle cx="1249.3" cy="1278.9" r="1.8"/><circle cx="1151.4" cy="1225.3" r="1.7"/><circle cx="1256.0" cy="1315.2" r="2.0"/><circle cx="983.2" cy="1453.9" r="1.4"/><circle cx="1188.1" cy="1251.9" r="2.0"/><circle cx="1194.2" cy="1258.2" r="2.0"/><circle cx="1042.4" cy="1383.4" r="2.0"/><circle cx="1043.6" cy="1427.9" r="1.8"/><circle cx="1056.1" cy="1451.3" r="2.2"/></g><g fill="#181822" stroke="#15151f" stroke-width="1.6"><circle cx="994.0" cy="1327.5" r="1.8"/><circle cx="1062.9" cy="1459.0" r="1.9"/><circle cx="1027.0" cy="1194.9" r="1.3"/><circle cx="974.3" cy="1264.6" r="1.5"/><circle cx="1094.2" cy="1399.6" r="1.4"/><circle cx="974.5" cy="1269.3" r="1.4"/><circle cx="1022.1" cy="1269.3" r="1.8"/><circle cx="1033.5" cy="1381.1" r="1.7"/><circle cx="1047.1" cy="1338.6" r="2.0"/><circle cx="923.8" cy="1268.9" r="2.1"/><circle cx="918.8" cy="1443.3" r="1.9"/><circle cx="1267.9" cy="1359.0" r="1.5"/><circle cx="1137.5" cy="1375.1" r="2.2"/><circle cx="995.0" cy="1210.4" r="2.0"/><circle cx="902.9" cy="1281.5" r="2.2"/><circle cx="945.5" cy="1253.8" r="1.5"/><circle cx="1164.3" cy="1277.4" r="1.7"/><circle cx="1076.0" cy="1346.9" r="1.3"/><circle cx="1060.2" cy="1230.9" r="2.0"/><circle cx="1275.0" cy="1416.0" r="1.4"/><circle cx="1129.4" cy="1321.5" r="1.5"/><circle cx="1038.2" cy="1302.6" r="1.7"/><circle cx="910.2" cy="1353.2" r="2.2"/><circle cx="1047.8" cy="1202.0" r="2.0"/><circle cx="1127.5" cy="1359.1" r="1.5"/><circle cx="1152.9" cy="1296.1" r="1.5"/><circle cx="1258.3" cy="1290.8" r="1.8"/><circle cx="947.0" cy="1356.0" r="2.0"/><circle cx="944.8" cy="1315.7" r="2.1"/><circle cx="1206.5" cy="1412.4" r="2.0"/><circle cx="1069.5" cy="1321.4" r="2.1"/><circle cx="917.9" cy="1260.6" r="1.6"/><circle cx="960.2" cy="1256.6" r="2.1"/><circle cx="1184.5" cy="1403.5" r="1.8"/><circle cx="1281.0" cy="1385.0" r="2.1"/><circle cx="991.1" cy="1265.1" r="1.8"/><circle cx="902.8" cy="1272.5" r="1.4"/><circle cx="1068.5" cy="1307.5" r="1.5"/><circle cx="1238.5" cy="1407.5" r="2.1"/><circle cx="1178.1" cy="1415.8" r="1.7"/><circle cx="1156.1" cy="1299.4" r="2.1"/><circle cx="971.7" cy="1424.1" r="1.6"/><circle cx="934.6" cy="1305.2" r="2.2"/><circle cx="1159.4" cy="1455.3" r="2.1"/><circle cx="1099.8" cy="1464.5" r="1.7"/><circle cx="1282.6" cy="1313.3" r="1.4"/><circle cx="1142.7" cy="1449.1" r="1.4"/><circle cx="1260.0" cy="1394.9" r="1.5"/><circle cx="1090.3" cy="1245.2" r="1.7"/><circle cx="1205.8" cy="1374.2" r="1.4"/><circle cx="1280.3" cy="1272.2" r="1.8"/><circle cx="1226.0" cy="1414.9" r="2.1"/><circle cx="1195.8" cy="1267.2" r="1.9"/><circle cx="1106.1" cy="1423.6" r="1.8"/><circle cx="1118.6" cy="1277.9" r="1.7"/><circle cx="1209.0" cy="1242.5" r="1.4"/><circle cx="1210.7" cy="1245.4" r="1.7"/><circle cx="1171.8" cy="1386.5" r="1.7"/><circle cx="1084.8" cy="1312.7" r="1.8"/><circle cx="1226.9" cy="1389.4" r="1.4"/><circle cx="1250.6" cy="1387.3" r="1.9"/><circle cx="1228.3" cy="1425.8" r="1.7"/><circle cx="1221.5" cy="1196.7" r="1.7"/><circle cx="948.4" cy="1275.3" r="2.1"/><circle cx="1034.6" cy="1454.9" r="2.2"/><circle cx="1108.1" cy="1316.5" r="1.9"/><circle cx="1233.6" cy="1332.3" r="1.9"/><circle cx="1253.1" cy="1214.2" r="1.8"/><circle cx="1010.2" cy="1468.4" r="1.9"/><circle cx="1166.4" cy="1321.9" r="1.6"/><circle cx="1233.5" cy="1330.1" r="2.1"/><circle cx="1039.8" cy="1443.2" r="2.1"/><circle cx="1105.8" cy="1213.5" r="1.4"/><circle cx="1130.2" cy="1392.9" r="2.0"/><circle cx="981.1" cy="1296.7" r="1.6"/><circle cx="959.7" cy="1472.0" r="1.6"/><circle cx="1008.8" cy="1235.6" r="2.2"/><circle cx="973.8" cy="1362.5" r="2.0"/><circle cx="1153.5" cy="1456.7" r="1.4"/><circle cx="994.9" cy="1454.9" r="1.5"/><circle cx="1191.1" cy="1449.5" r="2.1"/><circle cx="1191.1" cy="1216.5" r="1.7"/><circle cx="1124.7" cy="1328.5" r="1.3"/><circle cx="920.9" cy="1210.7" r="2.0"/><circle cx="1094.1" cy="1364.9" r="1.5"/></g></g>
<line x1="1218.1" y1="1467.7" x2="1277.1" y2="1467.7" stroke="#fff" stroke-width="3.4" stroke-linecap="butt"/>
<text x="1247.4" y="1458.8" font-size="13" font-weight="normal" text-anchor="middle" fill="#fff" textLength="46.0" lengthAdjust="spacingAndGlyphs" >100μm</text>
<line x1="1407.2" y1="1125.2" x2="1407.2" y2="1456.4" stroke="#000" stroke-width="3.3" stroke-linecap="butt"/>
<line x1="1393.5" y1="1454.7" x2="1796.0" y2="1454.7" stroke="#000" stroke-width="3.3" stroke-linecap="butt"/>
<line x1="1393.5" y1="1126.9" x2="1407.2" y2="1126.9" stroke="#000" stroke-width="3.3" stroke-linecap="butt"/>
<line x1="1393.5" y1="1209.0" x2="1407.2" y2="1209.0" stroke="#000" stroke-width="3.3" stroke-linecap="butt"/>
<line x1="1393.5" y1="1291.2" x2="1407.2" y2="1291.2" stroke="#000" stroke-width="3.3" stroke-linecap="butt"/>
<line x1="1393.5" y1="1373.1" x2="1407.2" y2="1373.1" stroke="#000" stroke-width="3.3" stroke-linecap="butt"/>
<line x1="1393.5" y1="1454.7" x2="1407.2" y2="1454.7" stroke="#000" stroke-width="3.3" stroke-linecap="butt"/>
<line x1="1517.3" y1="1454.7" x2="1517.3" y2="1468.4" stroke="#000" stroke-width="3.3" stroke-linecap="butt"/>
<line x1="1683.2" y1="1454.7" x2="1683.2" y2="1468.4" stroke="#000" stroke-width="3.3" stroke-linecap="butt"/>
<text x="1390.0" y="1136.1" font-size="25" font-weight="bold" text-anchor="end" fill="#000" >200</text>
<text x="1390.0" y="1218.2" font-size="25" font-weight="bold" text-anchor="end" fill="#000" >150</text>
<text x="1390.0" y="1300.4" font-size="25" font-weight="bold" text-anchor="end" fill="#000" >100</text>
<text x="1390.0" y="1382.3" font-size="25" font-weight="bold" text-anchor="end" fill="#000" >50</text>
<text x="1390.0" y="1463.9" font-size="25" font-weight="bold" text-anchor="end" fill="#000" >0</text>
<line x1="1517.2" y1="1170.3" x2="1517.2" y2="1183.4" stroke="#000080" stroke-width="2.0" stroke-linecap="butt"/>
<line x1="1490.0" y1="1170.3" x2="1544.4" y2="1170.3" stroke="#000080" stroke-width="2.0" stroke-linecap="butt"/>
<rect x="1462.0" y="1183.4" width="110.7" height="269.7" fill="#000080" />
<line x1="1683.2" y1="1226.5" x2="1683.2" y2="1236.7" stroke="#a00000" stroke-width="2.0" stroke-linecap="butt"/>
<line x1="1655.8" y1="1226.5" x2="1710.6" y2="1226.5" stroke="#a00000" stroke-width="2.0" stroke-linecap="butt"/>
<rect x="1628.1" y="1236.7" width="110.7" height="216.4" fill="#a00000" />
<line x1="1517.3" y1="1154.0" x2="1687.3" y2="1154.0" stroke="#000" stroke-width="2.0" stroke-linecap="butt"/>
<text x="1600.2" y="1149.5" font-size="23" font-weight="bold" text-anchor="middle" fill="#000" >**</text>
<text x="1516.6" y="1494.7" font-size="24.4" font-weight="bold" text-anchor="middle" fill="#000" textLength="63.8" lengthAdjust="spacingAndGlyphs" >si-NC</text>
<text x="1682.7" y="1494.7" font-size="24.4" font-weight="bold" text-anchor="middle" fill="#000" textLength="153.0" lengthAdjust="spacingAndGlyphs" >si-circRPPH1</text>
<text x="1331.0" y="1291.8" font-size="26.3" font-weight="bold" text-anchor="middle" fill="#000" transform="rotate(-90 1331.0 1291.8)" textLength="166.7" lengthAdjust="spacingAndGlyphs" >Cell numbers</text>
<text x="259.5" y="1623.0" font-size="31" font-weight="normal" text-anchor="middle" fill="#000" textLength="91.5" lengthAdjust="spacingAndGlyphs" stroke="#000" stroke-width="1.1">si-NC</text>
<text x="536.0" y="1623.0" font-size="31" font-weight="normal" text-anchor="middle" fill="#000" textLength="209.0" lengthAdjust="spacingAndGlyphs" stroke="#000" stroke-width="1.1">si-circRPPH1</text>
<text x="83.0" y="1783.8" font-size="33" font-weight="normal" text-anchor="middle" fill="#000" transform="rotate(-90 83.0 1783.8)" textLength="230.7" lengthAdjust="spacingAndGlyphs" stroke="#000" stroke-width="0.4">MDA-MB-231</text>
<text x="93.0" y="2062.5" font-size="33" font-weight="normal" text-anchor="middle" fill="#000" transform="rotate(-90 93.0 2062.5)" textLength="100.8" lengthAdjust="spacingAndGlyphs" stroke="#000" stroke-width="0.4">MCF-7</text>
<circle cx="245.2" cy="1777" r="129.8" fill="url(#dg1)"/>
<circle cx="245.2" cy="1777" r="129.20000000000002" fill="none" stroke="#8aa8b0" stroke-width="1.2" opacity="0.7"/>
<g fill="#5a58cc" opacity="0.85"><circle cx="234.6" cy="1762.3" r="2.3"/><circle cx="232.3" cy="1776.4" r="2.0"/><circle cx="167.3" cy="1817.0" r="1.4"/><circle cx="265.9" cy="1898.7" r="2.4"/><circle cx="223.4" cy="1793.5" r="3.4"/><circle cx="274.8" cy="1804.1" r="3.3"/><circle cx="287.9" cy="1868.9" r="1.9"/><circle cx="274.7" cy="1788.6" r="2.8"/><circle cx="201.1" cy="1750.7" r="1.7"/><circle cx="262.4" cy="1716.8" r="2.4"/><circle cx="138.3" cy="1759.9" r="1.7"/><circle cx="176.8" cy="1815.7" r="1.4"/><circle cx="206.1" cy="1707.8" r="2.4"/><circle cx="224.0" cy="1717.9" r="2.4"/><circle cx="126.6" cy="1810.5" r="2.1"/><circle cx="225.0" cy="1712.7" r="4.0"/><circle cx="192.9" cy="1822.7" r="1.3"/><circle cx="257.3" cy="1787.9" r="3.1"/><circle cx="171.9" cy="1836.9" r="1.3"/><circle cx="132.0" cy="1814.4" r="3.3"/><circle cx="207.2" cy="1799.4" r="3.5"/><circle cx="260.4" cy="1807.4" r="1.6"/><circle cx="180.5" cy="1783.1" r="1.3"/><circle cx="139.5" cy="1730.2" r="2.8"/><circle cx="141.4" cy="1766.9" r="1.3"/><circle cx="340.9" cy="1707.0" r="3.2"/><circle cx="297.9" cy="1817.1" r="1.3"/><circle cx="267.5" cy="1813.3" r="1.3"/><circle cx="280.9" cy="1803.4" r="1.3"/><circle cx="279.6" cy="1742.3" r="1.6"/><circle cx="310.3" cy="1840.4" r="4.0"/><circle cx="208.9" cy="1784.9" r="1.4"/><circle cx="258.4" cy="1752.6" r="1.3"/><circle cx="291.5" cy="1762.3" r="2.3"/><circle cx="368.8" cy="1798.2" r="3.4"/><circle cx="226.3" cy="1798.0" r="3.1"/><circle cx="173.9" cy="1762.2" r="1.5"/><circle cx="289.3" cy="1668.6" r="3.2"/><circle cx="270.3" cy="1722.1" r="2.2"/><circle cx="282.4" cy="1783.6" r="1.6"/><circle cx="215.2" cy="1697.7" r="3.7"/><circle cx="321.6" cy="1771.3" r="1.5"/><circle cx="263.7" cy="1839.7" r="3.6"/><circle cx="300.3" cy="1690.6" r="3.2"/><circle cx="349.4" cy="1838.4" r="3.1"/><circle cx="245.2" cy="1723.4" r="3.1"/><circle cx="183.3" cy="1885.6" r="1.9"/><circle cx="157.3" cy="1839.7" r="1.5"/><circle cx="315.2" cy="1729.3" r="1.4"/><circle cx="292.7" cy="1685.9" r="1.8"/><circle cx="369.0" cy="1788.1" r="2.7"/><circle cx="162.8" cy="1763.1" r="3.5"/><circle cx="244.8" cy="1815.9" r="1.6"/><circle cx="223.6" cy="1789.1" r="3.6"/><circle cx="186.4" cy="1854.0" r="3.6"/><circle cx="166.3" cy="1820.0" r="2.3"/><circle cx="217.6" cy="1787.9" r="1.3"/><circle cx="171.1" cy="1789.5" r="2.4"/><circle cx="201.8" cy="1860.9" r="3.1"/><circle cx="294.9" cy="1816.1" r="1.6"/><circle cx="258.4" cy="1682.9" r="3.0"/><circle cx="329.8" cy="1725.1" r="2.2"/><circle cx="160.2" cy="1770.5" r="2.3"/><circle cx="140.2" cy="1791.6" r="3.5"/><circle cx="141.0" cy="1736.1" r="3.3"/><circle cx="228.3" cy="1783.5" r="1.6"/><circle cx="345.8" cy="1826.8" r="3.6"/><circle cx="303.4" cy="1862.0" r="1.4"/><circle cx="289.2" cy="1737.1" r="3.8"/><circle cx="144.0" cy="1852.3" r="3.3"/><circle cx="293.3" cy="1854.3" r="1.8"/><circle cx="243.6" cy="1767.9" r="2.3"/><circle cx="213.2" cy="1834.0" r="2.2"/><circle cx="348.7" cy="1821.3" r="3.9"/><circle cx="323.9" cy="1797.0" r="1.6"/><circle cx="328.3" cy="1865.0" r="3.3"/><circle cx="298.3" cy="1747.5" r="2.8"/><circle cx="226.6" cy="1731.5" r="1.3"/><circle cx="350.3" cy="1734.1" r="1.4"/><circle cx="278.6" cy="1738.0" r="1.8"/><circle cx="183.2" cy="1755.5" r="1.4"/><circle cx="266.6" cy="1794.6" r="1.3"/><circle cx="218.5" cy="1851.2" r="1.7"/><circle cx="240.1" cy="1784.3" r="1.6"/><circle cx="338.9" cy="1786.1" r="1.5"/><circle cx="204.4" cy="1783.5" r="3.3"/><circle cx="139.7" cy="1824.9" r="1.9"/><circle cx="119.6" cy="1771.7" r="1.8"/><circle cx="295.2" cy="1689.1" r="1.9"/><circle cx="257.5" cy="1790.0" r="3.0"/><circle cx="322.5" cy="1822.4" r="3.5"/><circle cx="247.1" cy="1815.9" r="2.1"/><circle cx="280.9" cy="1831.4" r="3.8"/><circle cx="307.0" cy="1766.3" r="3.9"/><circle cx="291.0" cy="1777.3" r="2.1"/><circle cx="240.5" cy="1776.9" r="1.6"/><circle cx="254.8" cy="1779.6" r="1.7"/><circle cx="255.1" cy="1868.7" r="3.0"/><circle cx="180.0" cy="1677.6" r="1.9"/><circle cx="222.6" cy="1820.5" r="2.9"/><circle cx="295.5" cy="1692.2" r="2.6"/><circle cx="240.4" cy="1729.9" r="2.3"/><circle cx="131.5" cy="1773.9" r="3.3"/><circle cx="154.7" cy="1724.2" r="2.8"/><circle cx="274.8" cy="1809.8" r="1.4"/><circle cx="296.8" cy="1690.8" r="2.6"/><circle cx="242.1" cy="1770.4" r="3.2"/><circle cx="244.2" cy="1684.2" r="2.7"/><circle cx="303.5" cy="1802.7" r="1.3"/><circle cx="239.6" cy="1834.2" r="3.0"/><circle cx="322.7" cy="1765.1" r="2.1"/><circle cx="204.9" cy="1685.9" r="2.6"/><circle cx="243.3" cy="1854.0" r="1.7"/><circle cx="279.5" cy="1790.8" r="2.7"/><circle cx="220.9" cy="1713.1" r="2.2"/><circle cx="202.6" cy="1786.6" r="3.6"/><circle cx="283.7" cy="1893.5" r="1.3"/><circle cx="124.6" cy="1808.8" r="2.1"/><circle cx="275.5" cy="1766.2" r="2.4"/><circle cx="323.0" cy="1873.2" r="1.4"/><circle cx="296.2" cy="1669.0" r="2.8"/><circle cx="255.5" cy="1864.8" r="1.3"/><circle cx="330.3" cy="1778.9" r="1.7"/><circle cx="209.1" cy="1858.9" r="1.3"/><circle cx="245.4" cy="1733.1" r="3.7"/><circle cx="229.5" cy="1710.6" r="1.9"/><circle cx="169.1" cy="1837.7" r="1.8"/><circle cx="265.9" cy="1783.5" r="3.3"/><circle cx="231.1" cy="1838.7" r="1.6"/><circle cx="163.4" cy="1860.5" r="3.5"/><circle cx="291.2" cy="1664.9" r="3.7"/><circle cx="218.3" cy="1768.4" r="2.9"/><circle cx="148.2" cy="1807.9" r="1.7"/><circle cx="288.3" cy="1790.7" r="2.1"/><circle cx="240.8" cy="1845.1" r="1.7"/><circle cx="259.0" cy="1801.1" r="1.5"/><circle cx="294.6" cy="1743.9" r="3.6"/><circle cx="292.6" cy="1776.0" r="1.5"/><circle cx="274.2" cy="1795.7" r="1.6"/><circle cx="145.7" cy="1730.5" r="2.0"/><circle cx="178.5" cy="1817.1" r="1.8"/><circle cx="268.9" cy="1772.1" r="2.2"/><circle cx="204.8" cy="1734.1" r="1.6"/><circle cx="135.9" cy="1815.7" r="3.4"/><circle cx="317.2" cy="1791.8" r="3.6"/><circle cx="243.5" cy="1777.3" r="1.9"/><circle cx="350.3" cy="1725.0" r="3.9"/><circle cx="277.3" cy="1823.9" r="2.8"/><circle cx="340.4" cy="1740.3" r="3.1"/><circle cx="220.9" cy="1783.7" r="3.1"/><circle cx="256.3" cy="1878.3" r="1.7"/><circle cx="197.8" cy="1722.3" r="1.4"/><circle cx="332.7" cy="1818.4" r="1.9"/><circle cx="247.3" cy="1789.8" r="1.7"/><circle cx="146.5" cy="1801.9" r="3.5"/><circle cx="247.4" cy="1895.8" r="2.8"/><circle cx="175.2" cy="1777.7" r="2.0"/><circle cx="239.6" cy="1898.8" r="1.6"/><circle cx="183.0" cy="1810.9" r="1.5"/><circle cx="271.5" cy="1690.8" r="1.5"/><circle cx="259.6" cy="1746.4" r="1.5"/><circle cx="297.4" cy="1760.7" r="1.5"/><circle cx="262.5" cy="1879.0" r="3.8"/><circle cx="254.8" cy="1788.9" r="1.3"/><circle cx="151.8" cy="1851.0" r="2.9"/><circle cx="317.9" cy="1775.9" r="1.5"/><circle cx="266.0" cy="1768.1" r="2.7"/><circle cx="231.2" cy="1801.8" r="1.3"/><circle cx="268.3" cy="1770.4" r="3.8"/><circle cx="282.9" cy="1698.8" r="2.0"/><circle cx="318.9" cy="1800.6" r="3.7"/><circle cx="254.4" cy="1770.0" r="2.0"/><circle cx="254.9" cy="1753.3" r="1.3"/><circle cx="304.6" cy="1801.6" r="3.0"/><circle cx="228.8" cy="1893.4" r="2.5"/><circle cx="239.7" cy="1848.1" r="1.6"/><circle cx="366.6" cy="1779.9" r="2.6"/><circle cx="250.6" cy="1829.8" r="3.8"/><circle cx="244.9" cy="1826.5" r="2.2"/><circle cx="270.0" cy="1704.6" r="3.3"/><circle cx="255.6" cy="1705.1" r="1.7"/><circle cx="222.2" cy="1804.2" r="1.5"/><circle cx="256.5" cy="1781.9" r="2.3"/><circle cx="190.6" cy="1882.9" r="3.9"/><circle cx="290.3" cy="1808.3" r="2.9"/><circle cx="188.8" cy="1809.5" r="2.7"/><circle cx="243.9" cy="1673.7" r="1.4"/><circle cx="204.0" cy="1758.6" r="3.0"/><circle cx="246.0" cy="1803.9" r="3.5"/><circle cx="211.3" cy="1775.4" r="3.2"/><circle cx="222.0" cy="1743.7" r="2.1"/><circle cx="296.2" cy="1667.0" r="1.3"/><circle cx="291.7" cy="1893.6" r="2.4"/><circle cx="279.2" cy="1739.0" r="1.6"/><circle cx="252.4" cy="1736.4" r="2.5"/><circle cx="227.7" cy="1795.9" r="1.5"/><circle cx="242.0" cy="1879.3" r="1.5"/><circle cx="232.2" cy="1750.1" r="1.7"/><circle cx="272.3" cy="1866.9" r="1.3"/><circle cx="181.8" cy="1756.3" r="1.4"/><circle cx="287.1" cy="1846.5" r="1.7"/><circle cx="220.1" cy="1843.3" r="2.4"/><circle cx="171.7" cy="1869.1" r="4.0"/><circle cx="240.9" cy="1745.8" r="1.3"/><circle cx="338.8" cy="1710.4" r="1.9"/><circle cx="283.1" cy="1742.7" r="1.3"/><circle cx="130.5" cy="1738.5" r="1.4"/><circle cx="219.0" cy="1776.3" r="1.7"/><circle cx="203.7" cy="1771.5" r="2.2"/><circle cx="264.2" cy="1724.0" r="1.4"/><circle cx="327.7" cy="1746.2" r="1.3"/><circle cx="298.8" cy="1740.2" r="3.3"/><circle cx="277.1" cy="1827.5" r="1.9"/><circle cx="276.1" cy="1732.4" r="1.5"/><circle cx="181.7" cy="1823.3" r="1.4"/><circle cx="247.4" cy="1897.1" r="1.3"/><circle cx="222.3" cy="1767.5" r="3.3"/><circle cx="314.7" cy="1840.4" r="2.6"/><circle cx="211.7" cy="1867.8" r="2.0"/><circle cx="199.7" cy="1706.4" r="1.3"/><circle cx="200.1" cy="1735.2" r="3.1"/><circle cx="255.3" cy="1724.2" r="2.1"/><circle cx="226.6" cy="1785.7" r="2.0"/><circle cx="232.5" cy="1762.4" r="2.9"/><circle cx="250.3" cy="1747.9" r="2.2"/><circle cx="211.5" cy="1809.5" r="3.4"/><circle cx="359.6" cy="1774.2" r="1.5"/><circle cx="368.4" cy="1762.8" r="3.6"/><circle cx="307.4" cy="1882.3" r="1.3"/><circle cx="215.3" cy="1817.7" r="3.6"/><circle cx="237.7" cy="1824.5" r="2.2"/><circle cx="240.7" cy="1832.3" r="1.7"/><circle cx="303.3" cy="1870.1" r="2.8"/><circle cx="250.2" cy="1754.4" r="2.3"/><circle cx="286.7" cy="1734.4" r="2.4"/><circle cx="311.0" cy="1774.1" r="1.9"/><circle cx="306.4" cy="1773.3" r="1.8"/><circle cx="250.1" cy="1723.9" r="3.0"/><circle cx="306.1" cy="1796.1" r="2.6"/><circle cx="348.0" cy="1766.7" r="1.7"/><circle cx="283.4" cy="1829.2" r="2.0"/><circle cx="199.3" cy="1773.3" r="1.6"/><circle cx="289.0" cy="1777.7" r="1.4"/><circle cx="191.3" cy="1745.8" r="1.5"/><circle cx="212.1" cy="1744.3" r="3.7"/><circle cx="300.1" cy="1814.7" r="3.5"/><circle cx="258.3" cy="1713.1" r="1.3"/><circle cx="199.2" cy="1717.7" r="2.6"/><circle cx="143.3" cy="1814.6" r="1.6"/><circle cx="198.4" cy="1767.6" r="1.6"/><circle cx="258.4" cy="1782.1" r="2.3"/><circle cx="265.1" cy="1837.8" r="2.2"/><circle cx="211.8" cy="1735.8" r="1.7"/><circle cx="307.9" cy="1724.7" r="2.9"/><circle cx="354.6" cy="1781.4" r="2.1"/><circle cx="242.1" cy="1716.8" r="1.4"/><circle cx="205.4" cy="1843.8" r="2.8"/><circle cx="282.1" cy="1723.0" r="2.3"/><circle cx="160.8" cy="1812.9" r="1.6"/><circle cx="208.1" cy="1731.0" r="3.5"/><circle cx="251.9" cy="1853.8" r="3.8"/><circle cx="275.6" cy="1748.5" r="1.6"/><circle cx="333.4" cy="1719.1" r="2.7"/><circle cx="360.4" cy="1761.7" r="2.8"/><circle cx="312.7" cy="1692.8" r="2.4"/><circle cx="231.7" cy="1763.9" r="3.6"/><circle cx="329.4" cy="1843.8" r="1.8"/><circle cx="314.5" cy="1795.6" r="2.6"/><circle cx="234.6" cy="1746.3" r="2.5"/><circle cx="170.2" cy="1863.9" r="3.5"/><circle cx="356.2" cy="1825.8" r="3.8"/><circle cx="254.6" cy="1785.0" r="3.4"/><circle cx="289.0" cy="1670.5" r="2.6"/><circle cx="309.4" cy="1822.4" r="1.5"/><circle cx="237.5" cy="1793.6" r="1.6"/><circle cx="229.6" cy="1852.3" r="1.7"/><circle cx="359.2" cy="1750.8" r="2.6"/><circle cx="327.4" cy="1793.2" r="3.1"/><circle cx="192.1" cy="1853.3" r="1.5"/><circle cx="257.3" cy="1751.1" r="1.3"/><circle cx="282.4" cy="1896.7" r="1.3"/><circle cx="132.2" cy="1783.5" r="1.5"/><circle cx="263.1" cy="1745.4" r="3.8"/><circle cx="228.1" cy="1724.9" r="1.4"/><circle cx="262.2" cy="1706.8" r="3.1"/><circle cx="207.1" cy="1804.2" r="3.5"/><circle cx="262.4" cy="1787.4" r="1.5"/><circle cx="237.8" cy="1866.5" r="1.9"/><circle cx="189.4" cy="1791.0" r="3.0"/><circle cx="246.6" cy="1702.2" r="1.8"/><circle cx="303.0" cy="1862.5" r="3.0"/><circle cx="299.2" cy="1874.6" r="2.4"/><circle cx="329.0" cy="1861.9" r="1.6"/><circle cx="219.1" cy="1690.8" r="1.4"/><circle cx="218.9" cy="1827.3" r="1.4"/><circle cx="319.8" cy="1765.3" r="1.4"/><circle cx="266.3" cy="1704.0" r="2.0"/><circle cx="258.9" cy="1816.1" r="1.5"/><circle cx="178.6" cy="1826.0" r="2.8"/><circle cx="158.9" cy="1776.7" r="1.4"/><circle cx="158.4" cy="1710.8" r="3.6"/><circle cx="145.9" cy="1823.7" r="2.0"/><circle cx="261.2" cy="1894.9" r="3.1"/><circle cx="212.9" cy="1677.6" r="2.6"/><circle cx="230.5" cy="1761.7" r="2.0"/><circle cx="265.5" cy="1678.5" r="1.6"/><circle cx="156.5" cy="1823.2" r="1.9"/><circle cx="220.6" cy="1728.6" r="2.7"/><circle cx="302.0" cy="1790.9" r="1.4"/><circle cx="263.3" cy="1687.4" r="1.4"/><circle cx="149.4" cy="1728.5" r="2.2"/><circle cx="186.5" cy="1706.7" r="1.9"/><circle cx="226.5" cy="1734.3" r="3.1"/><circle cx="299.5" cy="1829.6" r="1.3"/><circle cx="293.7" cy="1781.1" r="2.0"/><circle cx="242.0" cy="1810.2" r="3.0"/><circle cx="300.4" cy="1755.1" r="3.2"/><circle cx="300.8" cy="1835.7" r="3.2"/><circle cx="182.0" cy="1706.0" r="1.5"/><circle cx="189.7" cy="1710.9" r="3.3"/><circle cx="222.1" cy="1769.8" r="3.3"/><circle cx="205.1" cy="1828.9" r="1.9"/><circle cx="244.0" cy="1831.7" r="1.3"/><circle cx="246.5" cy="1816.6" r="2.1"/><circle cx="152.5" cy="1821.7" r="1.8"/><circle cx="272.5" cy="1763.9" r="3.3"/><circle cx="284.6" cy="1750.5" r="3.3"/><circle cx="360.0" cy="1785.3" r="2.7"/><circle cx="266.5" cy="1803.6" r="3.1"/><circle cx="313.4" cy="1730.1" r="1.5"/><circle cx="332.1" cy="1706.2" r="2.7"/><circle cx="336.5" cy="1705.2" r="1.5"/><circle cx="206.8" cy="1674.8" r="2.0"/><circle cx="293.5" cy="1733.2" r="1.6"/><circle cx="264.8" cy="1800.5" r="2.1"/><circle cx="300.3" cy="1847.5" r="2.3"/><circle cx="273.5" cy="1732.8" r="2.4"/><circle cx="205.8" cy="1710.1" r="2.0"/><circle cx="201.9" cy="1726.6" r="1.3"/><circle cx="150.7" cy="1699.2" r="1.8"/><circle cx="332.9" cy="1766.9" r="3.6"/><circle cx="343.2" cy="1798.2" r="1.8"/><circle cx="188.9" cy="1786.1" r="3.1"/><circle cx="265.3" cy="1856.9" r="2.3"/><circle cx="267.5" cy="1735.0" r="2.2"/><circle cx="228.2" cy="1901.0" r="2.7"/><circle cx="229.1" cy="1813.0" r="2.4"/><circle cx="228.4" cy="1758.0" r="2.9"/><circle cx="266.5" cy="1758.4" r="1.7"/><circle cx="301.6" cy="1746.7" r="2.7"/><circle cx="269.3" cy="1680.8" r="2.5"/><circle cx="176.8" cy="1707.0" r="2.8"/><circle cx="265.2" cy="1860.4" r="3.1"/><circle cx="323.7" cy="1795.6" r="3.6"/><circle cx="281.4" cy="1703.3" r="2.4"/><circle cx="209.1" cy="1796.3" r="2.0"/><circle cx="226.6" cy="1754.0" r="2.4"/><circle cx="267.8" cy="1720.2" r="3.7"/><circle cx="197.7" cy="1817.7" r="3.7"/><circle cx="326.0" cy="1767.2" r="1.4"/><circle cx="250.0" cy="1783.7" r="1.3"/><circle cx="264.8" cy="1772.8" r="3.5"/><circle cx="238.5" cy="1742.8" r="2.9"/><circle cx="256.3" cy="1704.0" r="3.4"/><circle cx="194.5" cy="1723.9" r="2.1"/><circle cx="317.6" cy="1760.5" r="1.3"/><circle cx="359.3" cy="1787.6" r="1.3"/><circle cx="225.9" cy="1824.9" r="3.4"/><circle cx="204.0" cy="1822.2" r="2.0"/><circle cx="258.2" cy="1734.6" r="2.6"/><circle cx="191.2" cy="1719.7" r="3.1"/><circle cx="335.0" cy="1744.6" r="1.7"/><circle cx="343.9" cy="1816.5" r="3.3"/><circle cx="183.4" cy="1886.1" r="3.3"/><circle cx="157.1" cy="1819.4" r="1.9"/><circle cx="197.4" cy="1666.9" r="3.2"/><circle cx="241.2" cy="1825.8" r="2.5"/><circle cx="255.7" cy="1753.1" r="3.3"/><circle cx="281.5" cy="1688.2" r="1.6"/><circle cx="307.5" cy="1692.6" r="3.6"/><circle cx="166.4" cy="1749.4" r="1.5"/><circle cx="245.3" cy="1715.7" r="2.5"/><circle cx="219.9" cy="1725.2" r="1.6"/><circle cx="245.8" cy="1691.0" r="1.4"/><circle cx="266.5" cy="1719.6" r="2.4"/><circle cx="318.3" cy="1721.7" r="2.1"/><circle cx="255.7" cy="1804.6" r="2.8"/><circle cx="192.8" cy="1838.1" r="2.2"/><circle cx="290.4" cy="1776.2" r="1.4"/><circle cx="211.5" cy="1739.9" r="2.5"/><circle cx="235.0" cy="1792.0" r="1.3"/><circle cx="333.5" cy="1771.7" r="2.4"/><circle cx="239.2" cy="1859.5" r="3.8"/><circle cx="258.7" cy="1653.3" r="1.6"/><circle cx="253.4" cy="1794.7" r="1.3"/><circle cx="164.9" cy="1746.7" r="3.8"/><circle cx="206.8" cy="1749.8" r="1.4"/><circle cx="183.8" cy="1750.7" r="3.8"/><circle cx="219.1" cy="1785.8" r="3.9"/><circle cx="280.1" cy="1785.6" r="1.8"/><circle cx="340.2" cy="1710.4" r="1.3"/><circle cx="268.3" cy="1677.7" r="3.9"/><circle cx="248.6" cy="1666.4" r="2.7"/><circle cx="211.9" cy="1882.2" r="1.4"/><circle cx="283.3" cy="1814.7" r="1.5"/><circle cx="241.9" cy="1770.3" r="2.9"/><circle cx="274.8" cy="1762.5" r="3.7"/><circle cx="276.9" cy="1741.8" r="2.0"/><circle cx="340.6" cy="1843.6" r="2.6"/><circle cx="268.8" cy="1729.3" r="2.6"/><circle cx="314.5" cy="1802.8" r="2.3"/><circle cx="285.4" cy="1828.6" r="2.0"/><circle cx="267.7" cy="1741.3" r="1.5"/><circle cx="264.1" cy="1763.8" r="3.9"/><circle cx="342.3" cy="1813.2" r="1.5"/><circle cx="243.7" cy="1808.3" r="1.8"/><circle cx="367.0" cy="1770.1" r="1.4"/><circle cx="237.7" cy="1806.5" r="2.9"/><circle cx="240.9" cy="1792.5" r="3.2"/><circle cx="333.5" cy="1778.1" r="2.3"/><circle cx="292.7" cy="1888.4" r="1.5"/><circle cx="279.3" cy="1849.6" r="2.9"/><circle cx="299.8" cy="1810.4" r="2.2"/><circle cx="189.4" cy="1729.4" r="3.2"/><circle cx="314.7" cy="1807.5" r="1.9"/><circle cx="260.9" cy="1737.8" r="3.4"/><circle cx="255.6" cy="1765.1" r="3.6"/><circle cx="180.5" cy="1786.6" r="1.5"/><circle cx="268.5" cy="1815.5" r="2.5"/><circle cx="329.8" cy="1779.5" r="2.2"/></g>
<circle cx="529.3" cy="1774.8" r="131" fill="url(#dg2)"/>
<g fill="#4a4ac8" opacity="0.85"><circle cx="613.2" cy="1854.4" r="3.2"/><circle cx="495.2" cy="1846.1" r="2.8"/><circle cx="645.2" cy="1821.7" r="2.0"/><circle cx="435.8" cy="1767.0" r="1.3"/><circle cx="582.8" cy="1763.7" r="1.3"/><circle cx="529.2" cy="1797.0" r="1.3"/><circle cx="592.7" cy="1781.9" r="2.2"/><circle cx="488.7" cy="1768.9" r="3.2"/><circle cx="568.7" cy="1813.2" r="2.0"/><circle cx="508.1" cy="1789.1" r="2.3"/><circle cx="459.2" cy="1740.3" r="1.4"/><circle cx="566.0" cy="1703.9" r="1.8"/><circle cx="572.3" cy="1706.7" r="3.5"/><circle cx="539.9" cy="1712.9" r="1.6"/><circle cx="423.8" cy="1820.0" r="3.4"/><circle cx="541.1" cy="1747.6" r="2.1"/><circle cx="591.0" cy="1758.1" r="1.8"/><circle cx="466.6" cy="1705.8" r="1.3"/><circle cx="512.4" cy="1782.3" r="1.4"/><circle cx="651.0" cy="1751.4" r="2.4"/><circle cx="573.1" cy="1662.7" r="1.3"/><circle cx="462.9" cy="1692.9" r="1.5"/><circle cx="431.9" cy="1748.3" r="1.5"/><circle cx="405.5" cy="1758.9" r="1.6"/><circle cx="514.1" cy="1816.5" r="2.3"/><circle cx="593.1" cy="1756.7" r="1.9"/><circle cx="547.1" cy="1792.4" r="1.6"/><circle cx="476.7" cy="1809.8" r="1.3"/><circle cx="433.5" cy="1746.1" r="2.2"/><circle cx="466.1" cy="1687.4" r="1.9"/><circle cx="445.6" cy="1748.7" r="1.6"/><circle cx="533.8" cy="1866.3" r="1.7"/><circle cx="472.9" cy="1849.8" r="1.5"/><circle cx="465.3" cy="1751.0" r="3.7"/><circle cx="514.9" cy="1823.7" r="1.3"/><circle cx="551.3" cy="1751.7" r="1.8"/><circle cx="490.0" cy="1790.4" r="1.5"/><circle cx="578.0" cy="1762.1" r="1.7"/><circle cx="469.0" cy="1855.2" r="3.2"/><circle cx="576.9" cy="1675.6" r="2.8"/><circle cx="536.2" cy="1661.6" r="2.6"/><circle cx="532.3" cy="1771.6" r="2.8"/><circle cx="421.5" cy="1710.3" r="2.2"/><circle cx="425.3" cy="1833.8" r="2.3"/><circle cx="466.3" cy="1834.3" r="2.7"/><circle cx="503.9" cy="1866.7" r="1.7"/><circle cx="477.7" cy="1880.9" r="2.0"/><circle cx="520.5" cy="1799.7" r="2.2"/><circle cx="565.9" cy="1754.7" r="3.1"/><circle cx="559.7" cy="1725.6" r="1.8"/><circle cx="587.5" cy="1792.7" r="2.0"/><circle cx="611.7" cy="1729.7" r="3.8"/><circle cx="424.0" cy="1763.2" r="1.8"/><circle cx="481.8" cy="1833.9" r="3.6"/><circle cx="511.4" cy="1738.8" r="1.7"/><circle cx="450.5" cy="1831.4" r="3.3"/><circle cx="612.1" cy="1756.0" r="2.4"/><circle cx="622.5" cy="1772.5" r="3.0"/><circle cx="589.8" cy="1886.0" r="3.1"/><circle cx="586.2" cy="1730.4" r="3.1"/><circle cx="612.2" cy="1769.7" r="1.4"/><circle cx="506.7" cy="1862.9" r="1.4"/><circle cx="570.3" cy="1865.4" r="1.7"/><circle cx="555.6" cy="1773.8" r="1.8"/><circle cx="554.2" cy="1671.4" r="1.3"/><circle cx="496.4" cy="1867.1" r="2.5"/><circle cx="560.6" cy="1864.7" r="1.5"/><circle cx="452.1" cy="1672.9" r="2.2"/><circle cx="573.3" cy="1841.1" r="1.3"/><circle cx="442.4" cy="1762.4" r="2.3"/><circle cx="610.0" cy="1781.1" r="1.6"/><circle cx="518.0" cy="1723.4" r="1.5"/><circle cx="608.5" cy="1831.9" r="1.7"/><circle cx="500.8" cy="1784.1" r="3.3"/><circle cx="455.6" cy="1732.7" r="2.4"/><circle cx="613.3" cy="1735.8" r="1.6"/><circle cx="586.1" cy="1732.9" r="2.3"/><circle cx="650.1" cy="1743.8" r="1.5"/><circle cx="482.9" cy="1813.3" r="1.6"/><circle cx="610.0" cy="1694.4" r="1.5"/><circle cx="554.9" cy="1823.8" r="3.7"/><circle cx="518.3" cy="1816.8" r="2.1"/><circle cx="504.7" cy="1796.4" r="1.4"/><circle cx="558.4" cy="1718.5" r="1.4"/><circle cx="524.3" cy="1798.2" r="2.5"/><circle cx="523.6" cy="1754.8" r="1.5"/><circle cx="445.2" cy="1806.1" r="3.0"/><circle cx="588.0" cy="1866.4" r="1.7"/><circle cx="649.9" cy="1742.5" r="2.0"/><circle cx="535.9" cy="1820.6" r="2.6"/><circle cx="522.7" cy="1872.7" r="1.7"/><circle cx="530.7" cy="1833.8" r="3.3"/><circle cx="596.9" cy="1840.5" r="1.5"/><circle cx="543.4" cy="1672.0" r="2.2"/><circle cx="515.3" cy="1809.6" r="1.4"/><circle cx="591.1" cy="1690.9" r="1.3"/><circle cx="445.5" cy="1740.4" r="1.6"/><circle cx="585.1" cy="1799.3" r="1.4"/><circle cx="512.4" cy="1695.3" r="3.4"/><circle cx="547.9" cy="1657.5" r="1.4"/><circle cx="499.5" cy="1711.9" r="1.7"/><circle cx="438.0" cy="1830.7" r="1.5"/><circle cx="587.3" cy="1691.5" r="1.4"/><circle cx="611.5" cy="1847.4" r="2.7"/><circle cx="545.8" cy="1801.5" r="1.6"/><circle cx="504.2" cy="1837.2" r="1.4"/><circle cx="587.1" cy="1683.1" r="1.5"/><circle cx="459.9" cy="1804.9" r="1.3"/><circle cx="563.9" cy="1715.7" r="1.3"/><circle cx="546.3" cy="1752.7" r="1.5"/><circle cx="574.2" cy="1812.5" r="3.4"/><circle cx="513.2" cy="1730.4" r="2.8"/><circle cx="547.5" cy="1741.0" r="3.6"/><circle cx="434.8" cy="1823.7" r="2.7"/><circle cx="570.8" cy="1699.3" r="1.3"/><circle cx="500.0" cy="1688.0" r="3.5"/><circle cx="547.9" cy="1794.0" r="2.6"/><circle cx="561.8" cy="1685.9" r="3.7"/><circle cx="487.8" cy="1726.2" r="1.3"/><circle cx="493.3" cy="1819.6" r="1.6"/><circle cx="597.8" cy="1854.1" r="1.5"/><circle cx="533.7" cy="1860.1" r="3.5"/><circle cx="457.6" cy="1871.5" r="1.4"/><circle cx="422.7" cy="1730.1" r="2.1"/><circle cx="497.4" cy="1719.6" r="1.9"/><circle cx="533.7" cy="1731.7" r="1.6"/><circle cx="509.2" cy="1799.0" r="1.6"/><circle cx="557.2" cy="1855.8" r="1.3"/><circle cx="494.5" cy="1843.6" r="1.4"/><circle cx="607.8" cy="1770.9" r="1.3"/><circle cx="509.6" cy="1680.7" r="1.3"/><circle cx="473.7" cy="1778.7" r="2.1"/><circle cx="631.9" cy="1780.2" r="2.4"/><circle cx="588.2" cy="1749.4" r="1.5"/><circle cx="543.1" cy="1685.6" r="1.6"/><circle cx="575.6" cy="1883.0" r="3.5"/><circle cx="586.5" cy="1876.5" r="2.8"/><circle cx="548.2" cy="1737.9" r="1.7"/><circle cx="418.6" cy="1737.9" r="1.5"/><circle cx="627.4" cy="1800.8" r="3.0"/><circle cx="495.0" cy="1655.2" r="2.0"/><circle cx="510.2" cy="1834.0" r="1.3"/><circle cx="412.4" cy="1818.4" r="1.3"/><circle cx="583.5" cy="1788.7" r="2.7"/><circle cx="647.7" cy="1776.9" r="2.9"/><circle cx="436.4" cy="1821.8" r="2.1"/><circle cx="454.7" cy="1815.1" r="2.5"/><circle cx="553.2" cy="1728.7" r="1.6"/><circle cx="458.5" cy="1801.2" r="1.4"/><circle cx="604.1" cy="1819.0" r="3.7"/><circle cx="635.4" cy="1706.2" r="3.6"/><circle cx="506.4" cy="1753.4" r="2.5"/><circle cx="454.4" cy="1713.5" r="3.6"/><circle cx="459.8" cy="1783.3" r="1.7"/><circle cx="555.9" cy="1840.7" r="1.9"/><circle cx="596.4" cy="1814.6" r="2.2"/><circle cx="446.1" cy="1823.1" r="1.8"/><circle cx="575.1" cy="1736.9" r="1.3"/><circle cx="554.9" cy="1744.8" r="2.1"/><circle cx="528.4" cy="1870.1" r="1.5"/><circle cx="466.7" cy="1769.6" r="1.3"/><circle cx="441.9" cy="1809.7" r="2.2"/><circle cx="519.7" cy="1732.5" r="3.8"/><circle cx="552.0" cy="1733.6" r="1.4"/><circle cx="638.4" cy="1746.8" r="1.4"/><circle cx="533.0" cy="1820.2" r="1.3"/><circle cx="471.2" cy="1735.7" r="2.6"/><circle cx="439.1" cy="1820.0" r="3.3"/><circle cx="419.1" cy="1728.8" r="1.4"/><circle cx="526.1" cy="1663.0" r="2.6"/><circle cx="475.5" cy="1830.0" r="3.6"/><circle cx="512.1" cy="1761.7" r="2.1"/><circle cx="592.4" cy="1742.8" r="1.5"/><circle cx="570.3" cy="1884.6" r="2.2"/><circle cx="594.4" cy="1829.0" r="1.4"/><circle cx="429.3" cy="1739.3" r="1.7"/><circle cx="587.2" cy="1848.7" r="2.6"/><circle cx="534.7" cy="1760.8" r="1.7"/><circle cx="599.0" cy="1872.0" r="3.0"/><circle cx="558.9" cy="1710.1" r="1.8"/><circle cx="555.8" cy="1735.8" r="3.3"/><circle cx="513.6" cy="1803.7" r="3.3"/><circle cx="550.9" cy="1813.9" r="1.9"/><circle cx="461.9" cy="1739.4" r="1.3"/><circle cx="513.2" cy="1766.1" r="1.9"/><circle cx="572.1" cy="1830.6" r="1.5"/><circle cx="519.7" cy="1839.6" r="2.2"/><circle cx="403.8" cy="1752.4" r="1.3"/><circle cx="418.3" cy="1730.4" r="2.9"/><circle cx="477.6" cy="1717.6" r="1.6"/><circle cx="564.1" cy="1655.8" r="2.6"/><circle cx="492.7" cy="1878.6" r="2.0"/><circle cx="466.6" cy="1703.5" r="1.8"/><circle cx="596.9" cy="1801.8" r="3.7"/><circle cx="466.6" cy="1782.1" r="1.5"/><circle cx="624.6" cy="1779.1" r="1.9"/><circle cx="463.0" cy="1798.4" r="1.4"/><circle cx="594.3" cy="1803.6" r="2.7"/><circle cx="458.5" cy="1751.2" r="3.5"/><circle cx="556.2" cy="1830.8" r="3.7"/><circle cx="477.1" cy="1840.3" r="3.2"/><circle cx="639.8" cy="1824.9" r="1.5"/><circle cx="548.4" cy="1806.8" r="2.6"/><circle cx="540.6" cy="1831.0" r="2.3"/><circle cx="566.6" cy="1732.0" r="2.7"/><circle cx="564.4" cy="1766.5" r="3.0"/><circle cx="562.9" cy="1741.4" r="1.4"/><circle cx="429.7" cy="1751.2" r="3.5"/><circle cx="555.4" cy="1882.5" r="2.4"/><circle cx="467.7" cy="1816.5" r="1.3"/><circle cx="499.5" cy="1744.5" r="2.0"/><circle cx="458.1" cy="1724.5" r="1.3"/><circle cx="642.7" cy="1717.3" r="1.3"/><circle cx="473.9" cy="1726.6" r="1.3"/><circle cx="531.5" cy="1754.5" r="3.0"/><circle cx="442.3" cy="1820.3" r="2.2"/><circle cx="488.8" cy="1713.3" r="2.8"/><circle cx="523.8" cy="1886.5" r="2.9"/><circle cx="483.3" cy="1892.7" r="1.9"/><circle cx="507.4" cy="1897.0" r="1.4"/><circle cx="632.8" cy="1780.7" r="2.9"/><circle cx="489.6" cy="1821.3" r="2.8"/><circle cx="540.4" cy="1787.2" r="2.0"/><circle cx="571.1" cy="1758.2" r="1.4"/><circle cx="583.4" cy="1885.1" r="1.4"/><circle cx="591.3" cy="1786.2" r="3.7"/><circle cx="454.2" cy="1775.3" r="3.0"/><circle cx="411.4" cy="1805.0" r="1.3"/><circle cx="500.1" cy="1736.9" r="3.2"/><circle cx="605.5" cy="1805.0" r="3.4"/><circle cx="586.3" cy="1754.3" r="1.5"/><circle cx="524.5" cy="1836.2" r="1.4"/><circle cx="533.3" cy="1705.0" r="3.8"/><circle cx="539.9" cy="1824.4" r="3.2"/><circle cx="604.9" cy="1693.6" r="3.1"/><circle cx="511.2" cy="1862.1" r="3.3"/><circle cx="581.5" cy="1858.9" r="1.9"/><circle cx="477.8" cy="1746.8" r="3.3"/><circle cx="453.3" cy="1866.3" r="1.4"/><circle cx="575.1" cy="1722.1" r="1.3"/><circle cx="538.8" cy="1782.8" r="3.4"/><circle cx="552.6" cy="1807.3" r="1.4"/><circle cx="473.0" cy="1864.1" r="2.7"/><circle cx="546.4" cy="1759.1" r="1.5"/><circle cx="535.8" cy="1750.8" r="2.0"/><circle cx="534.1" cy="1816.0" r="1.3"/><circle cx="649.1" cy="1767.9" r="1.4"/><circle cx="502.6" cy="1787.7" r="2.6"/><circle cx="583.5" cy="1847.4" r="1.3"/><circle cx="455.0" cy="1872.4" r="1.7"/><circle cx="555.4" cy="1892.2" r="2.7"/><circle cx="527.7" cy="1792.5" r="1.3"/><circle cx="433.9" cy="1769.6" r="1.7"/><circle cx="632.5" cy="1781.7" r="2.1"/><circle cx="408.4" cy="1736.5" r="3.3"/><circle cx="514.8" cy="1704.1" r="1.8"/><circle cx="607.6" cy="1761.4" r="1.8"/><circle cx="535.1" cy="1782.1" r="2.3"/><circle cx="618.8" cy="1730.1" r="1.7"/><circle cx="596.9" cy="1835.3" r="2.9"/><circle cx="515.0" cy="1735.6" r="2.4"/><circle cx="409.1" cy="1736.6" r="1.3"/><circle cx="527.1" cy="1683.4" r="2.3"/><circle cx="630.8" cy="1771.4" r="2.8"/><circle cx="471.2" cy="1830.2" r="2.1"/><circle cx="474.2" cy="1727.5" r="2.4"/><circle cx="432.8" cy="1748.0" r="1.5"/><circle cx="620.6" cy="1715.8" r="2.1"/><circle cx="481.6" cy="1781.9" r="3.5"/><circle cx="437.8" cy="1758.1" r="3.0"/><circle cx="552.2" cy="1727.7" r="2.4"/><circle cx="585.1" cy="1669.4" r="1.3"/><circle cx="444.3" cy="1853.4" r="1.4"/><circle cx="552.6" cy="1808.6" r="1.7"/><circle cx="557.6" cy="1693.4" r="1.3"/><circle cx="444.8" cy="1839.9" r="1.9"/><circle cx="418.8" cy="1789.9" r="1.4"/><circle cx="490.1" cy="1691.2" r="1.5"/><circle cx="474.9" cy="1832.1" r="1.3"/><circle cx="538.6" cy="1804.1" r="1.4"/><circle cx="514.8" cy="1703.4" r="1.5"/><circle cx="468.1" cy="1704.4" r="1.4"/><circle cx="440.2" cy="1821.5" r="1.7"/><circle cx="603.9" cy="1795.9" r="2.7"/><circle cx="500.4" cy="1873.7" r="3.0"/><circle cx="470.9" cy="1852.7" r="3.5"/><circle cx="568.0" cy="1875.6" r="1.7"/><circle cx="512.1" cy="1745.4" r="2.8"/><circle cx="463.8" cy="1836.8" r="3.4"/><circle cx="485.4" cy="1745.9" r="1.9"/></g>
<circle cx="250.6" cy="2057.3" r="130.2" fill="url(#dg3)"/>
<circle cx="250.6" cy="2057.3" r="129.6" fill="none" stroke="#a8a4c0" stroke-width="1.2" opacity="0.7"/>
<g fill="#3c2098" opacity="0.95"><circle cx="297.3" cy="1983.3" r="3.8"/><circle cx="166.0" cy="2090.9" r="3.6"/><circle cx="211.9" cy="1986.6" r="1.8"/><circle cx="203.0" cy="1956.4" r="3.5"/><circle cx="276.6" cy="2081.2" r="3.6"/><circle cx="339.2" cy="2123.1" r="3.0"/><circle cx="351.5" cy="2093.6" r="2.8"/><circle cx="328.0" cy="2085.0" r="3.0"/><circle cx="369.4" cy="2055.9" r="2.0"/><circle cx="245.6" cy="2065.8" r="4.1"/><circle cx="239.6" cy="2127.6" r="2.2"/><circle cx="308.1" cy="1986.8" r="2.6"/><circle cx="363.0" cy="2094.7" r="3.6"/><circle cx="286.1" cy="2012.5" r="1.9"/><circle cx="166.2" cy="2037.4" r="2.8"/><circle cx="152.1" cy="2000.1" r="2.1"/><circle cx="275.8" cy="2043.3" r="2.4"/><circle cx="157.1" cy="2037.6" r="2.4"/><circle cx="240.5" cy="2125.2" r="3.3"/><circle cx="278.4" cy="1976.2" r="3.9"/><circle cx="221.9" cy="2067.7" r="2.6"/><circle cx="174.9" cy="1966.6" r="1.9"/><circle cx="150.1" cy="1987.8" r="2.9"/><circle cx="283.3" cy="1958.1" r="3.2"/><circle cx="218.2" cy="2169.2" r="2.0"/><circle cx="285.7" cy="2037.4" r="1.9"/><circle cx="268.1" cy="1977.3" r="3.2"/><circle cx="245.6" cy="2162.5" r="2.0"/><circle cx="275.0" cy="2066.4" r="3.7"/><circle cx="224.3" cy="2150.7" r="2.4"/><circle cx="137.8" cy="2012.2" r="2.4"/><circle cx="312.3" cy="1961.8" r="4.0"/><circle cx="189.7" cy="2106.7" r="3.1"/><circle cx="257.1" cy="2095.7" r="2.7"/><circle cx="236.3" cy="1953.5" r="2.0"/><circle cx="308.5" cy="1949.6" r="4.1"/><circle cx="314.3" cy="2031.8" r="2.4"/><circle cx="250.9" cy="1934.6" r="1.9"/><circle cx="152.7" cy="2066.7" r="2.9"/><circle cx="306.9" cy="2092.2" r="3.8"/><circle cx="319.6" cy="1956.3" r="1.8"/><circle cx="189.9" cy="2013.9" r="3.9"/><circle cx="209.9" cy="1996.2" r="2.7"/><circle cx="251.5" cy="2111.1" r="3.5"/><circle cx="222.2" cy="2148.1" r="1.9"/><circle cx="157.5" cy="2026.0" r="2.7"/><circle cx="289.4" cy="2065.6" r="3.2"/><circle cx="301.6" cy="2113.0" r="2.5"/><circle cx="223.4" cy="2012.5" r="3.9"/><circle cx="192.3" cy="2160.9" r="2.8"/><circle cx="321.3" cy="2153.4" r="2.0"/><circle cx="207.0" cy="2058.4" r="2.7"/><circle cx="297.2" cy="2135.0" r="2.5"/><circle cx="269.1" cy="2111.6" r="2.0"/><circle cx="256.3" cy="2147.2" r="3.8"/><circle cx="339.1" cy="2065.7" r="3.5"/><circle cx="195.6" cy="2031.2" r="3.4"/><circle cx="263.3" cy="2075.7" r="2.6"/><circle cx="131.3" cy="2043.7" r="1.9"/><circle cx="164.2" cy="2010.8" r="3.5"/><circle cx="235.2" cy="1996.1" r="3.0"/><circle cx="350.0" cy="2046.6" r="3.3"/><circle cx="295.8" cy="1952.1" r="2.7"/><circle cx="359.0" cy="1998.5" r="2.6"/><circle cx="198.1" cy="2092.0" r="3.4"/><circle cx="218.3" cy="1990.0" r="2.0"/><circle cx="274.0" cy="2126.6" r="4.0"/><circle cx="338.7" cy="2055.8" r="2.8"/><circle cx="270.8" cy="1948.9" r="3.1"/><circle cx="287.4" cy="2168.3" r="3.5"/><circle cx="313.5" cy="2098.5" r="2.1"/><circle cx="357.9" cy="2033.8" r="2.0"/><circle cx="307.8" cy="1950.7" r="3.4"/><circle cx="299.0" cy="1972.4" r="2.6"/><circle cx="304.6" cy="1951.6" r="2.3"/><circle cx="370.6" cy="2027.2" r="2.0"/><circle cx="313.2" cy="2044.7" r="3.7"/><circle cx="260.3" cy="2142.8" r="2.2"/><circle cx="145.4" cy="2062.2" r="3.3"/><circle cx="162.4" cy="2128.4" r="3.3"/><circle cx="326.3" cy="2028.3" r="1.9"/><circle cx="208.0" cy="1996.7" r="3.0"/><circle cx="255.0" cy="2050.0" r="2.8"/><circle cx="364.6" cy="2069.1" r="2.6"/><circle cx="192.3" cy="2012.2" r="2.2"/><circle cx="189.9" cy="2136.9" r="2.3"/><circle cx="341.2" cy="2113.2" r="2.7"/><circle cx="227.2" cy="2019.8" r="3.3"/><circle cx="303.3" cy="2071.4" r="2.3"/><circle cx="308.7" cy="2041.5" r="3.8"/><circle cx="189.1" cy="2006.3" r="2.8"/><circle cx="372.2" cy="2022.6" r="2.1"/><circle cx="295.4" cy="1976.5" r="1.8"/><circle cx="289.4" cy="2133.8" r="3.6"/><circle cx="250.4" cy="2097.7" r="2.9"/><circle cx="301.2" cy="1997.9" r="3.9"/><circle cx="278.1" cy="2035.6" r="3.1"/><circle cx="178.8" cy="2083.6" r="3.2"/><circle cx="188.5" cy="1989.5" r="3.2"/><circle cx="314.6" cy="2015.1" r="4.0"/><circle cx="349.1" cy="2094.2" r="2.9"/><circle cx="136.9" cy="2096.0" r="3.4"/><circle cx="250.5" cy="1984.8" r="2.0"/><circle cx="296.9" cy="2043.2" r="3.0"/><circle cx="180.0" cy="2020.3" r="3.4"/><circle cx="180.6" cy="1971.1" r="2.3"/><circle cx="129.6" cy="2022.7" r="3.2"/><circle cx="277.1" cy="1983.5" r="4.0"/><circle cx="233.8" cy="1992.4" r="2.1"/><circle cx="149.7" cy="2005.8" r="2.4"/><circle cx="326.6" cy="2149.0" r="2.1"/><circle cx="245.4" cy="1986.4" r="1.9"/><circle cx="213.7" cy="2176.8" r="4.0"/><circle cx="298.1" cy="2171.4" r="2.1"/><circle cx="232.6" cy="2095.1" r="2.3"/><circle cx="152.4" cy="2134.5" r="2.3"/><circle cx="274.9" cy="2139.1" r="3.7"/><circle cx="204.1" cy="2003.1" r="2.0"/><circle cx="254.8" cy="1962.3" r="3.2"/><circle cx="251.9" cy="1980.7" r="3.9"/><circle cx="151.3" cy="2038.8" r="2.3"/><circle cx="266.1" cy="1942.7" r="3.0"/><circle cx="210.9" cy="2109.4" r="2.2"/><circle cx="350.6" cy="2104.2" r="3.2"/><circle cx="214.4" cy="2079.4" r="2.4"/><circle cx="188.4" cy="1977.4" r="3.3"/><circle cx="269.6" cy="1935.4" r="3.4"/><circle cx="188.4" cy="2153.0" r="2.5"/><circle cx="287.0" cy="2142.6" r="2.9"/><circle cx="228.1" cy="2016.6" r="2.4"/><circle cx="333.1" cy="2093.6" r="3.7"/><circle cx="210.7" cy="1987.0" r="3.0"/><circle cx="233.8" cy="2169.0" r="3.7"/><circle cx="314.9" cy="2147.1" r="2.8"/><circle cx="338.6" cy="1991.9" r="3.6"/><circle cx="223.2" cy="2020.2" r="3.3"/><circle cx="231.5" cy="1993.4" r="1.9"/><circle cx="197.7" cy="2017.1" r="2.2"/><circle cx="267.7" cy="2160.5" r="4.0"/><circle cx="284.8" cy="1956.6" r="1.9"/><circle cx="254.5" cy="2051.0" r="3.1"/><circle cx="270.5" cy="2081.0" r="2.7"/><circle cx="226.8" cy="2048.7" r="3.6"/><circle cx="328.1" cy="2121.9" r="2.4"/><circle cx="221.7" cy="2109.1" r="3.5"/><circle cx="279.8" cy="2167.9" r="2.9"/><circle cx="271.6" cy="2061.4" r="2.8"/><circle cx="161.0" cy="2103.7" r="3.4"/><circle cx="172.2" cy="2011.0" r="3.0"/><circle cx="269.4" cy="2182.8" r="3.6"/><circle cx="373.2" cy="2026.9" r="1.9"/><circle cx="165.7" cy="2069.2" r="3.3"/><circle cx="231.4" cy="1985.5" r="2.1"/><circle cx="204.7" cy="2089.4" r="3.4"/><circle cx="194.3" cy="2051.5" r="3.3"/><circle cx="281.9" cy="2147.2" r="3.3"/><circle cx="372.7" cy="2036.4" r="3.9"/><circle cx="245.1" cy="2025.9" r="2.1"/><circle cx="358.3" cy="2066.1" r="3.1"/><circle cx="246.1" cy="2108.6" r="3.1"/><circle cx="277.3" cy="2055.9" r="2.1"/><circle cx="180.5" cy="2147.3" r="2.7"/><circle cx="290.6" cy="2087.2" r="3.5"/><circle cx="131.1" cy="2079.1" r="3.5"/><circle cx="205.5" cy="2064.1" r="2.0"/><circle cx="197.0" cy="2034.7" r="2.2"/><circle cx="356.8" cy="2071.5" r="3.9"/><circle cx="358.6" cy="2044.0" r="2.5"/><circle cx="268.2" cy="2014.2" r="1.8"/><circle cx="268.1" cy="2133.6" r="1.8"/><circle cx="292.5" cy="1981.5" r="1.9"/><circle cx="276.6" cy="2035.5" r="2.4"/><circle cx="187.8" cy="1994.9" r="3.1"/><circle cx="283.8" cy="2173.7" r="2.5"/><circle cx="286.5" cy="2084.8" r="2.1"/><circle cx="152.9" cy="2084.7" r="3.3"/><circle cx="150.0" cy="2097.4" r="1.9"/><circle cx="148.0" cy="2076.4" r="3.3"/><circle cx="257.4" cy="2162.9" r="2.7"/><circle cx="312.5" cy="2133.9" r="1.9"/><circle cx="255.0" cy="2118.0" r="2.5"/><circle cx="274.6" cy="1958.9" r="3.4"/><circle cx="372.7" cy="2087.2" r="3.6"/><circle cx="311.2" cy="2072.1" r="3.9"/><circle cx="273.9" cy="2177.8" r="3.1"/><circle cx="294.1" cy="2033.1" r="1.8"/><circle cx="256.2" cy="1931.9" r="3.3"/><circle cx="270.4" cy="2104.6" r="2.8"/><circle cx="345.0" cy="2131.3" r="3.9"/><circle cx="345.4" cy="2058.6" r="3.6"/><circle cx="152.5" cy="2055.8" r="3.6"/><circle cx="333.6" cy="2101.3" r="2.3"/><circle cx="163.0" cy="2123.5" r="1.8"/><circle cx="291.9" cy="1981.8" r="2.0"/><circle cx="201.7" cy="1989.9" r="2.0"/><circle cx="325.3" cy="2046.2" r="1.9"/><circle cx="236.0" cy="1941.1" r="1.9"/><circle cx="175.8" cy="2139.4" r="2.0"/><circle cx="163.1" cy="1988.2" r="1.8"/><circle cx="344.9" cy="2105.4" r="3.0"/><circle cx="170.1" cy="2047.1" r="3.1"/><circle cx="185.8" cy="1969.8" r="3.6"/><circle cx="342.5" cy="2001.2" r="1.8"/><circle cx="215.5" cy="1981.6" r="3.8"/><circle cx="286.7" cy="2133.8" r="3.3"/><circle cx="249.4" cy="2132.4" r="2.4"/><circle cx="354.9" cy="2127.9" r="3.2"/><circle cx="356.6" cy="2009.2" r="4.1"/><circle cx="251.7" cy="1993.7" r="2.6"/><circle cx="369.3" cy="2073.0" r="3.9"/><circle cx="197.5" cy="2155.9" r="3.8"/><circle cx="262.0" cy="2017.7" r="3.6"/><circle cx="220.6" cy="2128.3" r="2.9"/><circle cx="341.1" cy="2037.4" r="3.2"/><circle cx="171.8" cy="2037.9" r="3.9"/><circle cx="236.5" cy="2021.9" r="2.2"/><circle cx="247.1" cy="2071.7" r="2.3"/><circle cx="239.2" cy="2005.1" r="2.7"/><circle cx="208.2" cy="1956.0" r="3.4"/><circle cx="250.8" cy="2078.5" r="3.3"/><circle cx="282.3" cy="2178.1" r="3.2"/><circle cx="167.9" cy="2004.0" r="3.3"/><circle cx="239.7" cy="2088.3" r="1.8"/><circle cx="223.1" cy="2090.0" r="2.8"/><circle cx="315.9" cy="2044.6" r="3.5"/><circle cx="281.3" cy="2120.3" r="2.6"/><circle cx="210.3" cy="1956.5" r="1.9"/><circle cx="356.3" cy="2009.4" r="1.8"/><circle cx="306.5" cy="1953.8" r="3.6"/><circle cx="244.6" cy="2046.2" r="2.1"/><circle cx="336.0" cy="1999.2" r="3.0"/><circle cx="225.1" cy="2016.4" r="1.9"/><circle cx="352.7" cy="2046.2" r="3.0"/><circle cx="253.2" cy="2072.6" r="3.7"/><circle cx="303.1" cy="2113.2" r="3.4"/><circle cx="291.8" cy="2106.0" r="2.5"/><circle cx="187.9" cy="2048.2" r="3.5"/><circle cx="226.1" cy="2165.8" r="2.2"/><circle cx="277.8" cy="2131.3" r="2.5"/><circle cx="175.8" cy="1965.2" r="1.9"/><circle cx="218.8" cy="2004.5" r="1.8"/><circle cx="170.7" cy="2089.9" r="3.3"/><circle cx="323.8" cy="2106.2" r="2.1"/><circle cx="255.9" cy="2100.7" r="1.9"/><circle cx="171.5" cy="2151.6" r="2.9"/><circle cx="349.4" cy="2105.0" r="3.0"/><circle cx="331.4" cy="1971.5" r="2.0"/><circle cx="309.0" cy="2035.7" r="2.1"/><circle cx="274.8" cy="2029.7" r="2.3"/><circle cx="347.2" cy="2007.4" r="1.9"/><circle cx="195.5" cy="2074.1" r="3.2"/><circle cx="169.4" cy="2153.9" r="2.8"/><circle cx="294.4" cy="2150.3" r="2.8"/><circle cx="358.8" cy="2074.1" r="2.9"/><circle cx="260.5" cy="2155.7" r="3.2"/><circle cx="326.4" cy="2155.1" r="3.4"/><circle cx="326.1" cy="1962.9" r="2.1"/><circle cx="268.1" cy="2176.8" r="1.9"/><circle cx="268.0" cy="2139.8" r="2.0"/><circle cx="285.5" cy="2148.0" r="3.9"/><circle cx="238.9" cy="2065.6" r="4.0"/><circle cx="260.2" cy="2147.8" r="4.0"/><circle cx="150.5" cy="2062.3" r="2.2"/><circle cx="314.6" cy="1947.4" r="2.7"/><circle cx="261.3" cy="2128.7" r="2.6"/><circle cx="240.0" cy="2073.4" r="2.5"/><circle cx="251.4" cy="2058.7" r="3.1"/><circle cx="245.9" cy="2152.5" r="3.3"/><circle cx="279.2" cy="2090.9" r="4.0"/><circle cx="305.0" cy="2131.4" r="3.0"/><circle cx="297.2" cy="2017.0" r="2.1"/><circle cx="180.7" cy="2015.6" r="3.8"/><circle cx="185.1" cy="1951.5" r="2.3"/><circle cx="277.6" cy="2047.0" r="3.9"/><circle cx="304.9" cy="2099.0" r="2.3"/><circle cx="331.3" cy="2040.3" r="2.9"/><circle cx="310.4" cy="1973.7" r="2.8"/><circle cx="327.3" cy="2126.3" r="3.0"/><circle cx="290.0" cy="1938.9" r="2.1"/><circle cx="335.9" cy="2101.5" r="2.1"/><circle cx="228.6" cy="1999.5" r="2.5"/><circle cx="216.5" cy="2052.2" r="3.4"/><circle cx="176.5" cy="1983.9" r="3.6"/><circle cx="355.1" cy="2063.6" r="3.3"/><circle cx="175.8" cy="1957.7" r="3.5"/><circle cx="263.9" cy="2181.1" r="2.1"/><circle cx="149.1" cy="2122.5" r="2.2"/><circle cx="241.0" cy="1954.1" r="3.5"/><circle cx="291.6" cy="2099.7" r="2.3"/><circle cx="329.6" cy="2075.3" r="2.6"/><circle cx="359.6" cy="2115.3" r="3.0"/><circle cx="198.8" cy="2123.5" r="2.1"/><circle cx="146.7" cy="2069.3" r="2.1"/><circle cx="174.5" cy="2138.6" r="3.7"/><circle cx="183.6" cy="1974.1" r="4.0"/><circle cx="273.7" cy="2123.1" r="2.2"/><circle cx="301.6" cy="1951.7" r="3.8"/><circle cx="237.4" cy="2049.1" r="2.9"/><circle cx="245.5" cy="2024.0" r="1.8"/><circle cx="254.3" cy="2064.4" r="2.2"/><circle cx="238.6" cy="2183.1" r="1.8"/><circle cx="345.0" cy="2139.7" r="2.0"/><circle cx="213.8" cy="2119.2" r="2.6"/><circle cx="221.0" cy="2061.3" r="1.9"/><circle cx="303.1" cy="2143.0" r="3.3"/><circle cx="241.8" cy="2165.5" r="2.4"/><circle cx="128.2" cy="2063.6" r="2.9"/><circle cx="351.0" cy="2090.8" r="2.5"/><circle cx="227.2" cy="1946.2" r="3.6"/><circle cx="296.8" cy="2088.3" r="3.3"/><circle cx="271.0" cy="1999.6" r="1.9"/><circle cx="226.1" cy="2016.8" r="2.1"/><circle cx="162.6" cy="2007.1" r="2.2"/><circle cx="245.6" cy="2150.0" r="3.4"/><circle cx="309.3" cy="2068.8" r="2.3"/><circle cx="186.9" cy="1980.5" r="3.8"/><circle cx="279.7" cy="2156.7" r="2.3"/><circle cx="312.0" cy="2150.6" r="3.6"/><circle cx="226.8" cy="1946.5" r="2.4"/><circle cx="238.6" cy="2084.8" r="3.1"/><circle cx="327.8" cy="2105.7" r="2.0"/><circle cx="329.2" cy="2021.3" r="2.1"/><circle cx="317.7" cy="2120.0" r="2.5"/><circle cx="227.1" cy="1947.8" r="2.0"/><circle cx="330.6" cy="2095.0" r="2.2"/><circle cx="215.5" cy="1994.7" r="2.7"/><circle cx="232.4" cy="1981.9" r="2.7"/><circle cx="340.5" cy="2013.3" r="2.0"/><circle cx="186.0" cy="2075.7" r="1.8"/><circle cx="296.0" cy="2051.9" r="2.7"/><circle cx="226.2" cy="2034.6" r="3.4"/><circle cx="255.4" cy="2020.4" r="2.6"/><circle cx="274.5" cy="2073.3" r="2.3"/><circle cx="255.3" cy="2016.0" r="1.9"/><circle cx="310.3" cy="2156.9" r="2.1"/><circle cx="288.9" cy="2130.9" r="2.4"/><circle cx="340.2" cy="2145.0" r="2.0"/><circle cx="243.4" cy="2177.2" r="3.8"/><circle cx="153.2" cy="2074.1" r="2.3"/><circle cx="144.2" cy="2080.9" r="2.0"/><circle cx="265.0" cy="2096.3" r="3.6"/><circle cx="216.6" cy="2111.8" r="2.7"/><circle cx="368.0" cy="2050.3" r="2.4"/><circle cx="285.3" cy="2123.1" r="2.1"/><circle cx="147.6" cy="2115.3" r="3.0"/><circle cx="349.5" cy="2063.8" r="3.8"/><circle cx="362.5" cy="2022.5" r="3.6"/><circle cx="242.8" cy="2134.8" r="2.5"/><circle cx="206.9" cy="2099.3" r="3.9"/><circle cx="149.2" cy="2121.1" r="3.4"/><circle cx="254.6" cy="2171.3" r="4.1"/><circle cx="234.8" cy="1943.7" r="2.2"/><circle cx="185.6" cy="1960.5" r="2.0"/><circle cx="138.8" cy="2029.3" r="2.4"/><circle cx="316.9" cy="1958.2" r="2.0"/><circle cx="347.5" cy="2017.7" r="3.2"/><circle cx="340.5" cy="2085.3" r="2.7"/><circle cx="190.7" cy="2152.5" r="3.7"/><circle cx="264.8" cy="2119.2" r="1.9"/><circle cx="197.7" cy="2157.8" r="2.2"/><circle cx="349.5" cy="2104.3" r="2.1"/><circle cx="139.9" cy="2084.2" r="4.0"/><circle cx="206.4" cy="2169.2" r="2.7"/><circle cx="307.9" cy="2015.4" r="3.8"/><circle cx="163.3" cy="2014.0" r="3.6"/><circle cx="169.1" cy="2047.8" r="3.8"/><circle cx="211.8" cy="1991.3" r="2.5"/><circle cx="294.0" cy="2045.8" r="3.9"/><circle cx="332.2" cy="2075.5" r="3.3"/><circle cx="167.5" cy="2096.8" r="3.6"/><circle cx="265.1" cy="1999.1" r="3.4"/><circle cx="288.8" cy="1944.0" r="4.1"/><circle cx="152.7" cy="2100.8" r="3.9"/><circle cx="272.4" cy="2126.9" r="3.4"/><circle cx="285.4" cy="2140.3" r="3.2"/><circle cx="329.7" cy="2156.9" r="2.9"/><circle cx="284.6" cy="1940.8" r="2.9"/><circle cx="255.2" cy="1980.9" r="3.9"/><circle cx="274.4" cy="2144.2" r="3.8"/><circle cx="324.3" cy="2004.1" r="3.9"/><circle cx="156.6" cy="2020.1" r="3.6"/><circle cx="193.1" cy="2087.1" r="2.3"/><circle cx="174.3" cy="2099.1" r="1.9"/><circle cx="358.2" cy="2061.1" r="3.4"/><circle cx="258.0" cy="2148.4" r="2.1"/><circle cx="205.0" cy="2022.9" r="3.0"/><circle cx="231.0" cy="1951.8" r="3.3"/><circle cx="233.3" cy="2178.4" r="1.9"/><circle cx="285.7" cy="2044.4" r="1.9"/><circle cx="264.5" cy="2011.4" r="2.7"/><circle cx="203.1" cy="2000.9" r="3.5"/><circle cx="252.2" cy="2108.4" r="2.6"/><circle cx="212.9" cy="2022.7" r="2.2"/><circle cx="312.1" cy="2093.7" r="2.8"/><circle cx="284.8" cy="2134.4" r="4.0"/><circle cx="163.6" cy="2064.8" r="2.1"/><circle cx="206.8" cy="2028.7" r="1.9"/><circle cx="226.3" cy="1980.3" r="2.5"/><circle cx="156.4" cy="2105.2" r="2.5"/><circle cx="306.0" cy="2136.0" r="1.8"/><circle cx="294.9" cy="1995.9" r="3.1"/><circle cx="324.0" cy="2017.1" r="2.3"/><circle cx="147.8" cy="2020.9" r="4.0"/><circle cx="322.4" cy="2150.2" r="3.5"/><circle cx="188.0" cy="2017.5" r="3.9"/><circle cx="198.9" cy="2040.7" r="2.0"/><circle cx="267.2" cy="2044.8" r="2.4"/><circle cx="174.5" cy="2067.1" r="3.8"/><circle cx="178.6" cy="2156.6" r="3.1"/><circle cx="172.3" cy="2068.7" r="3.1"/><circle cx="267.9" cy="1981.8" r="2.5"/><circle cx="189.8" cy="2128.2" r="2.3"/><circle cx="225.4" cy="2101.5" r="3.3"/><circle cx="281.3" cy="2061.5" r="3.6"/><circle cx="269.0" cy="2081.6" r="2.3"/><circle cx="238.0" cy="1936.6" r="4.0"/><circle cx="214.5" cy="2045.3" r="3.9"/><circle cx="149.9" cy="2101.6" r="3.7"/><circle cx="161.1" cy="2135.5" r="3.4"/><circle cx="230.2" cy="2043.1" r="1.9"/></g>
<circle cx="534.5" cy="2056.7" r="131.5" fill="url(#dg4)"/>
<g fill="#2e1a8a" opacity="0.95"><circle cx="611.3" cy="2132.8" r="2.4"/><circle cx="576.1" cy="2092.2" r="2.3"/><circle cx="498.4" cy="1988.5" r="3.2"/><circle cx="475.2" cy="2082.6" r="1.7"/><circle cx="641.1" cy="2039.5" r="1.6"/><circle cx="567.0" cy="2125.6" r="2.6"/><circle cx="633.3" cy="2095.1" r="1.4"/><circle cx="443.9" cy="2092.8" r="2.0"/><circle cx="589.3" cy="2006.1" r="1.9"/><circle cx="649.7" cy="2013.9" r="2.2"/><circle cx="584.3" cy="2118.8" r="2.5"/><circle cx="648.4" cy="2060.0" r="2.2"/><circle cx="617.1" cy="2059.6" r="2.5"/><circle cx="460.1" cy="2021.8" r="3.1"/><circle cx="631.4" cy="2028.9" r="1.8"/><circle cx="447.3" cy="2142.2" r="2.7"/><circle cx="564.9" cy="1932.4" r="2.5"/><circle cx="507.1" cy="2116.5" r="2.3"/><circle cx="583.4" cy="2132.1" r="1.7"/><circle cx="644.2" cy="1999.0" r="2.7"/><circle cx="592.1" cy="2135.1" r="3.0"/><circle cx="428.3" cy="1992.5" r="1.5"/><circle cx="545.9" cy="1990.1" r="1.5"/><circle cx="610.1" cy="1977.5" r="1.7"/><circle cx="529.6" cy="2016.9" r="2.1"/><circle cx="516.2" cy="1954.4" r="1.7"/><circle cx="448.8" cy="2147.4" r="3.2"/><circle cx="431.0" cy="2108.0" r="2.7"/><circle cx="456.2" cy="2078.8" r="3.1"/><circle cx="424.9" cy="2075.6" r="1.5"/><circle cx="479.8" cy="1941.3" r="2.2"/><circle cx="528.3" cy="1954.3" r="1.9"/><circle cx="534.6" cy="2080.1" r="2.1"/><circle cx="638.3" cy="2119.8" r="1.4"/><circle cx="428.3" cy="2080.8" r="2.6"/><circle cx="503.9" cy="2102.8" r="1.5"/><circle cx="556.4" cy="2005.8" r="2.1"/><circle cx="470.5" cy="2162.8" r="2.1"/><circle cx="561.9" cy="1937.0" r="1.7"/><circle cx="639.9" cy="1986.5" r="2.7"/><circle cx="453.6" cy="1969.7" r="2.0"/><circle cx="628.5" cy="2123.5" r="2.5"/><circle cx="531.6" cy="1969.3" r="2.8"/><circle cx="584.5" cy="2044.5" r="2.5"/><circle cx="484.9" cy="2039.1" r="1.5"/><circle cx="469.2" cy="2069.0" r="1.9"/><circle cx="441.5" cy="2023.8" r="1.6"/><circle cx="629.5" cy="1974.1" r="3.2"/><circle cx="614.8" cy="2154.2" r="1.9"/><circle cx="513.7" cy="2050.3" r="1.6"/><circle cx="607.0" cy="2128.3" r="2.3"/><circle cx="607.8" cy="2032.0" r="3.1"/><circle cx="455.0" cy="1967.7" r="2.5"/><circle cx="489.5" cy="2110.9" r="3.1"/><circle cx="535.7" cy="2089.3" r="1.4"/><circle cx="448.0" cy="2026.7" r="1.5"/><circle cx="589.7" cy="1965.8" r="3.0"/><circle cx="642.9" cy="2051.3" r="1.4"/><circle cx="655.0" cy="2095.2" r="1.8"/><circle cx="459.2" cy="2022.1" r="3.0"/><circle cx="522.1" cy="2048.9" r="1.6"/><circle cx="552.1" cy="2093.7" r="3.0"/><circle cx="524.4" cy="2148.4" r="1.8"/><circle cx="639.4" cy="2034.2" r="1.5"/><circle cx="555.2" cy="2019.3" r="2.6"/><circle cx="524.6" cy="2133.6" r="2.5"/><circle cx="657.2" cy="2019.8" r="2.4"/><circle cx="472.1" cy="1966.7" r="2.2"/><circle cx="493.4" cy="2107.0" r="1.5"/><circle cx="588.3" cy="2139.3" r="2.7"/><circle cx="586.7" cy="2138.9" r="2.2"/><circle cx="521.0" cy="2064.9" r="1.4"/><circle cx="435.7" cy="2108.9" r="1.7"/><circle cx="552.0" cy="2021.7" r="2.1"/><circle cx="449.0" cy="2129.7" r="1.7"/><circle cx="492.9" cy="1980.9" r="2.1"/><circle cx="583.0" cy="2031.5" r="1.5"/><circle cx="567.8" cy="2075.6" r="2.4"/><circle cx="452.9" cy="2099.2" r="3.1"/><circle cx="537.0" cy="2127.7" r="1.8"/><circle cx="605.5" cy="2011.6" r="1.6"/><circle cx="648.0" cy="2090.0" r="2.4"/><circle cx="551.7" cy="2082.6" r="2.1"/><circle cx="477.9" cy="2151.9" r="2.6"/><circle cx="429.6" cy="2049.7" r="2.0"/><circle cx="469.9" cy="1953.1" r="1.4"/><circle cx="544.3" cy="2113.1" r="1.5"/><circle cx="506.0" cy="1988.0" r="1.7"/><circle cx="495.6" cy="1985.3" r="2.5"/><circle cx="503.6" cy="2071.1" r="2.2"/><circle cx="575.0" cy="2054.3" r="2.1"/><circle cx="429.6" cy="2064.3" r="2.1"/><circle cx="579.3" cy="1940.9" r="2.8"/><circle cx="446.4" cy="2071.5" r="1.5"/><circle cx="496.1" cy="1966.9" r="3.1"/><circle cx="644.9" cy="2088.9" r="1.5"/><circle cx="491.6" cy="2144.9" r="2.6"/><circle cx="489.6" cy="2120.2" r="2.6"/><circle cx="520.2" cy="2140.5" r="1.4"/><circle cx="634.8" cy="2121.7" r="2.4"/><circle cx="595.4" cy="2146.8" r="1.5"/><circle cx="528.8" cy="2062.0" r="1.4"/><circle cx="456.8" cy="2158.7" r="1.8"/><circle cx="635.0" cy="1992.0" r="2.3"/><circle cx="657.3" cy="2032.8" r="2.3"/><circle cx="563.9" cy="2141.0" r="1.8"/><circle cx="465.4" cy="2126.9" r="1.7"/><circle cx="518.9" cy="2146.6" r="2.0"/><circle cx="486.4" cy="1976.3" r="1.7"/><circle cx="548.8" cy="1944.0" r="2.2"/><circle cx="535.1" cy="2148.5" r="1.9"/><circle cx="507.3" cy="2161.4" r="2.8"/><circle cx="475.6" cy="2063.2" r="2.0"/><circle cx="486.2" cy="2116.7" r="2.6"/><circle cx="528.0" cy="1994.9" r="2.7"/><circle cx="476.7" cy="1972.1" r="2.5"/><circle cx="523.5" cy="2133.1" r="1.4"/><circle cx="636.7" cy="2031.8" r="3.1"/><circle cx="559.5" cy="1986.4" r="1.5"/><circle cx="559.9" cy="1970.6" r="1.9"/><circle cx="521.0" cy="2164.3" r="3.0"/><circle cx="584.1" cy="1987.4" r="2.0"/><circle cx="512.9" cy="2107.3" r="1.6"/><circle cx="511.6" cy="2173.1" r="1.8"/><circle cx="584.6" cy="1989.3" r="1.6"/><circle cx="540.8" cy="2012.8" r="3.0"/><circle cx="442.4" cy="2093.5" r="1.7"/><circle cx="613.0" cy="2066.7" r="1.4"/><circle cx="483.1" cy="2110.2" r="2.5"/><circle cx="521.5" cy="2043.8" r="2.5"/><circle cx="490.4" cy="2019.8" r="2.9"/><circle cx="617.3" cy="2003.6" r="2.3"/><circle cx="502.5" cy="2122.6" r="2.4"/><circle cx="498.5" cy="2029.8" r="1.6"/><circle cx="505.4" cy="2128.5" r="3.0"/><circle cx="581.5" cy="2098.7" r="2.9"/><circle cx="537.7" cy="2135.6" r="1.4"/><circle cx="553.7" cy="1992.8" r="2.7"/><circle cx="504.8" cy="2060.6" r="1.9"/><circle cx="550.2" cy="2168.9" r="2.8"/><circle cx="424.9" cy="2022.3" r="1.5"/><circle cx="529.2" cy="2141.8" r="3.2"/><circle cx="584.3" cy="2088.7" r="1.4"/><circle cx="599.5" cy="2100.0" r="2.0"/><circle cx="427.0" cy="2051.4" r="2.2"/><circle cx="625.7" cy="2046.2" r="2.1"/><circle cx="493.8" cy="2099.1" r="2.9"/><circle cx="471.4" cy="2135.2" r="2.3"/><circle cx="507.9" cy="2179.4" r="1.9"/><circle cx="605.0" cy="2118.4" r="1.8"/><circle cx="499.1" cy="2122.6" r="2.0"/><circle cx="613.0" cy="2034.9" r="1.6"/><circle cx="489.6" cy="1983.5" r="2.0"/><circle cx="543.9" cy="2143.1" r="2.8"/><circle cx="519.1" cy="2072.1" r="1.7"/><circle cx="636.9" cy="2030.8" r="2.1"/><circle cx="481.9" cy="2065.9" r="2.4"/><circle cx="498.8" cy="1959.9" r="1.5"/><circle cx="465.0" cy="1996.9" r="1.8"/><circle cx="449.6" cy="2028.7" r="2.4"/><circle cx="604.6" cy="2136.0" r="2.2"/><circle cx="462.3" cy="1991.7" r="1.7"/><circle cx="444.0" cy="2090.9" r="2.6"/><circle cx="451.4" cy="2152.1" r="2.8"/><circle cx="476.9" cy="1974.3" r="1.4"/><circle cx="634.8" cy="2012.5" r="1.7"/><circle cx="600.7" cy="1960.3" r="2.2"/><circle cx="619.3" cy="2065.1" r="2.8"/><circle cx="489.5" cy="1946.2" r="1.6"/><circle cx="551.2" cy="2044.4" r="1.8"/><circle cx="627.4" cy="2097.7" r="1.5"/><circle cx="571.0" cy="2113.9" r="3.0"/><circle cx="640.4" cy="1985.1" r="2.0"/><circle cx="569.6" cy="1938.1" r="2.8"/><circle cx="530.2" cy="2018.1" r="3.0"/><circle cx="421.5" cy="2018.3" r="1.5"/><circle cx="498.8" cy="1948.5" r="2.0"/><circle cx="556.9" cy="2121.1" r="2.6"/><circle cx="586.8" cy="1963.2" r="1.9"/><circle cx="554.9" cy="2180.6" r="1.9"/><circle cx="513.6" cy="2055.4" r="2.6"/><circle cx="532.2" cy="1980.0" r="1.6"/><circle cx="474.6" cy="2142.0" r="2.0"/><circle cx="412.8" cy="2037.7" r="2.1"/><circle cx="477.4" cy="2054.3" r="2.6"/><circle cx="510.6" cy="2088.1" r="1.7"/><circle cx="482.6" cy="1997.3" r="2.3"/><circle cx="535.6" cy="2062.2" r="2.7"/><circle cx="532.1" cy="2152.2" r="2.3"/><circle cx="454.9" cy="1976.1" r="1.8"/><circle cx="603.4" cy="1976.4" r="2.8"/><circle cx="418.9" cy="2105.3" r="1.6"/><circle cx="608.5" cy="2111.0" r="1.6"/><circle cx="548.9" cy="2135.4" r="1.6"/><circle cx="557.4" cy="2107.8" r="2.1"/><circle cx="445.8" cy="2035.3" r="2.8"/><circle cx="591.5" cy="2062.7" r="1.4"/><circle cx="544.9" cy="1963.0" r="1.6"/><circle cx="555.8" cy="1949.2" r="1.7"/><circle cx="464.2" cy="2022.1" r="2.1"/><circle cx="632.5" cy="2099.3" r="1.6"/><circle cx="495.7" cy="2043.9" r="2.8"/><circle cx="578.5" cy="2010.1" r="1.5"/><circle cx="533.0" cy="2146.6" r="1.7"/><circle cx="510.2" cy="2131.2" r="2.7"/><circle cx="524.1" cy="1996.8" r="1.4"/><circle cx="483.2" cy="2151.0" r="2.7"/><circle cx="559.1" cy="2056.1" r="2.7"/><circle cx="466.1" cy="2099.1" r="1.8"/><circle cx="617.0" cy="2097.3" r="2.0"/><circle cx="426.4" cy="2101.8" r="2.1"/><circle cx="587.4" cy="2165.9" r="2.0"/><circle cx="488.2" cy="1982.7" r="2.3"/><circle cx="538.2" cy="2176.1" r="1.5"/><circle cx="448.1" cy="2149.9" r="1.4"/><circle cx="452.1" cy="1972.2" r="2.1"/><circle cx="608.3" cy="2136.2" r="2.6"/><circle cx="563.8" cy="2156.6" r="2.4"/><circle cx="607.1" cy="2066.7" r="2.3"/><circle cx="480.0" cy="2146.7" r="1.8"/><circle cx="558.5" cy="1964.8" r="2.8"/><circle cx="559.6" cy="2079.0" r="3.1"/><circle cx="611.6" cy="2069.0" r="1.6"/><circle cx="469.1" cy="2107.5" r="1.5"/><circle cx="409.4" cy="2038.7" r="1.9"/><circle cx="418.3" cy="2106.7" r="1.8"/><circle cx="485.6" cy="1992.6" r="2.6"/><circle cx="529.8" cy="2082.7" r="2.0"/><circle cx="594.4" cy="1996.0" r="2.7"/><circle cx="519.3" cy="2148.0" r="2.0"/><circle cx="592.6" cy="2033.1" r="2.2"/><circle cx="460.4" cy="2099.7" r="3.0"/><circle cx="499.2" cy="2159.1" r="1.4"/><circle cx="597.2" cy="2024.3" r="2.6"/><circle cx="579.9" cy="2062.2" r="2.1"/><circle cx="594.8" cy="2062.7" r="1.5"/><circle cx="612.4" cy="2106.5" r="1.5"/><circle cx="562.4" cy="1998.5" r="1.7"/><circle cx="593.6" cy="1963.1" r="1.5"/><circle cx="627.9" cy="2022.8" r="2.9"/><circle cx="620.9" cy="2119.8" r="2.3"/><circle cx="518.1" cy="1967.6" r="1.6"/><circle cx="443.7" cy="2094.6" r="1.8"/><circle cx="528.7" cy="2093.8" r="2.7"/><circle cx="491.0" cy="2057.9" r="2.1"/><circle cx="456.0" cy="2054.8" r="2.0"/><circle cx="633.9" cy="1977.2" r="3.0"/><circle cx="599.5" cy="2052.7" r="2.8"/><circle cx="436.6" cy="1973.7" r="2.4"/><circle cx="547.8" cy="2023.0" r="2.9"/><circle cx="580.0" cy="2146.7" r="1.6"/><circle cx="495.8" cy="2066.0" r="2.5"/><circle cx="616.5" cy="2119.9" r="2.5"/><circle cx="655.8" cy="2090.4" r="1.9"/><circle cx="439.0" cy="2105.5" r="2.6"/><circle cx="477.6" cy="1978.2" r="2.2"/><circle cx="582.5" cy="2173.4" r="2.7"/><circle cx="652.1" cy="2051.2" r="1.7"/><circle cx="528.8" cy="1932.3" r="2.8"/><circle cx="617.3" cy="1978.3" r="2.1"/><circle cx="490.6" cy="2162.8" r="2.8"/><circle cx="564.2" cy="2012.8" r="1.6"/><circle cx="466.7" cy="2025.8" r="1.5"/><circle cx="568.7" cy="2106.9" r="2.9"/><circle cx="500.8" cy="2118.8" r="1.7"/><circle cx="467.5" cy="2108.8" r="1.9"/><circle cx="613.0" cy="2062.9" r="1.4"/><circle cx="597.1" cy="2040.8" r="1.4"/><circle cx="614.0" cy="2114.1" r="2.1"/><circle cx="537.5" cy="2183.2" r="1.9"/><circle cx="579.8" cy="2053.7" r="2.9"/><circle cx="649.1" cy="2071.9" r="2.5"/><circle cx="486.5" cy="2041.2" r="2.2"/><circle cx="528.9" cy="2112.6" r="2.5"/><circle cx="443.2" cy="2011.5" r="2.3"/><circle cx="619.8" cy="2011.1" r="1.8"/><circle cx="571.4" cy="2038.7" r="1.8"/><circle cx="506.6" cy="1957.3" r="2.5"/><circle cx="613.7" cy="2023.8" r="2.1"/><circle cx="537.1" cy="2014.2" r="2.4"/><circle cx="573.0" cy="1957.7" r="3.0"/><circle cx="597.2" cy="2121.6" r="1.8"/><circle cx="616.0" cy="2029.9" r="2.7"/><circle cx="448.8" cy="1963.4" r="1.6"/><circle cx="549.7" cy="2064.6" r="2.1"/><circle cx="464.2" cy="2100.1" r="2.9"/><circle cx="546.2" cy="1995.1" r="1.8"/><circle cx="431.4" cy="2062.2" r="2.1"/><circle cx="477.7" cy="2171.7" r="1.6"/><circle cx="514.3" cy="2090.5" r="1.4"/><circle cx="439.5" cy="2106.7" r="3.1"/><circle cx="585.4" cy="1973.1" r="1.4"/><circle cx="459.2" cy="2124.4" r="1.5"/><circle cx="447.5" cy="2033.0" r="2.0"/><circle cx="626.6" cy="2125.5" r="2.3"/><circle cx="624.1" cy="2136.5" r="3.2"/><circle cx="540.9" cy="1936.4" r="2.5"/><circle cx="515.1" cy="2171.9" r="3.0"/><circle cx="535.7" cy="2135.8" r="1.8"/><circle cx="539.7" cy="1982.9" r="2.2"/><circle cx="645.1" cy="2003.3" r="2.3"/><circle cx="621.5" cy="2052.4" r="2.2"/><circle cx="519.8" cy="1956.3" r="2.1"/><circle cx="462.8" cy="1976.1" r="3.1"/><circle cx="654.3" cy="2067.2" r="1.4"/><circle cx="560.4" cy="1956.5" r="2.7"/><circle cx="539.1" cy="2117.7" r="2.5"/><circle cx="462.4" cy="2043.5" r="2.3"/><circle cx="654.8" cy="2021.3" r="1.7"/><circle cx="459.3" cy="2049.1" r="2.8"/><circle cx="585.8" cy="2157.4" r="3.1"/><circle cx="624.1" cy="2067.2" r="3.1"/><circle cx="576.5" cy="2125.9" r="2.2"/><circle cx="600.8" cy="2024.5" r="1.6"/><circle cx="606.2" cy="2136.8" r="2.3"/><circle cx="600.5" cy="2120.1" r="1.5"/><circle cx="560.1" cy="2002.6" r="3.1"/><circle cx="536.0" cy="2052.9" r="2.9"/><circle cx="586.2" cy="1956.8" r="2.7"/><circle cx="449.4" cy="1961.7" r="1.8"/><circle cx="570.7" cy="1994.5" r="2.5"/><circle cx="495.7" cy="1968.1" r="1.7"/><circle cx="534.0" cy="2104.0" r="2.9"/><circle cx="616.8" cy="1987.9" r="2.5"/><circle cx="615.6" cy="2134.7" r="1.8"/><circle cx="626.6" cy="2122.0" r="2.1"/><circle cx="551.2" cy="2018.2" r="1.9"/><circle cx="559.9" cy="2032.8" r="2.6"/><circle cx="565.7" cy="2076.9" r="1.7"/><circle cx="492.0" cy="1986.3" r="2.0"/><circle cx="596.5" cy="2069.0" r="2.7"/><circle cx="513.6" cy="1965.4" r="2.5"/><circle cx="583.0" cy="2106.6" r="1.7"/><circle cx="529.5" cy="1983.6" r="1.7"/><circle cx="593.0" cy="1989.5" r="1.9"/><circle cx="610.4" cy="2016.0" r="2.3"/><circle cx="576.9" cy="2007.0" r="1.5"/><circle cx="483.7" cy="2056.1" r="2.0"/><circle cx="613.8" cy="2052.0" r="2.8"/><circle cx="569.7" cy="2028.4" r="2.4"/><circle cx="528.2" cy="1952.5" r="1.8"/><circle cx="449.1" cy="2048.6" r="2.1"/><circle cx="639.8" cy="1991.9" r="2.1"/><circle cx="654.7" cy="2029.3" r="2.4"/><circle cx="623.5" cy="1964.8" r="1.4"/><circle cx="579.8" cy="1992.5" r="2.8"/><circle cx="554.4" cy="2142.4" r="2.0"/><circle cx="570.7" cy="2160.4" r="1.5"/><circle cx="612.5" cy="2045.9" r="2.0"/><circle cx="423.7" cy="1998.9" r="2.4"/><circle cx="512.1" cy="2081.9" r="2.2"/><circle cx="424.2" cy="1993.1" r="2.0"/><circle cx="502.9" cy="2099.6" r="3.1"/><circle cx="464.0" cy="2011.3" r="1.7"/><circle cx="500.2" cy="2135.4" r="3.2"/><circle cx="507.0" cy="2045.2" r="1.6"/><circle cx="465.9" cy="2156.6" r="1.7"/><circle cx="552.3" cy="1964.2" r="2.2"/><circle cx="635.8" cy="2084.4" r="2.5"/><circle cx="449.5" cy="2136.2" r="1.8"/><circle cx="629.4" cy="2099.1" r="1.7"/><circle cx="557.4" cy="2063.2" r="2.6"/><circle cx="474.0" cy="1995.8" r="1.7"/><circle cx="580.0" cy="2163.5" r="2.0"/><circle cx="509.7" cy="1944.0" r="2.3"/><circle cx="479.9" cy="1977.4" r="1.6"/><circle cx="627.0" cy="2041.3" r="2.4"/><circle cx="584.4" cy="2093.0" r="2.8"/><circle cx="653.9" cy="2066.4" r="2.7"/><circle cx="522.4" cy="1996.0" r="2.5"/><circle cx="511.6" cy="2129.2" r="2.7"/><circle cx="420.1" cy="2000.2" r="1.9"/><circle cx="654.4" cy="2046.5" r="1.4"/><circle cx="426.3" cy="2025.1" r="1.8"/><circle cx="559.2" cy="2148.8" r="2.7"/><circle cx="421.9" cy="2064.3" r="1.6"/><circle cx="470.1" cy="2068.2" r="2.5"/><circle cx="542.1" cy="1971.5" r="2.6"/><circle cx="488.6" cy="1974.6" r="2.3"/><circle cx="525.0" cy="1985.7" r="1.8"/><circle cx="624.9" cy="2118.9" r="2.3"/><circle cx="554.9" cy="2095.6" r="2.6"/><circle cx="573.1" cy="2108.3" r="2.2"/><circle cx="518.9" cy="2180.2" r="1.7"/><circle cx="534.4" cy="1960.4" r="1.7"/><circle cx="548.5" cy="2052.1" r="1.8"/><circle cx="498.1" cy="2132.7" r="3.0"/><circle cx="605.1" cy="2067.4" r="1.4"/><circle cx="582.3" cy="2021.8" r="1.5"/><circle cx="497.9" cy="2097.1" r="1.7"/></g>
<line x1="802.8" y1="1673.0" x2="802.8" y2="2055.1" stroke="#000" stroke-width="3.3" stroke-linecap="butt"/>
<line x1="786.4" y1="2053.4" x2="1137.8" y2="2053.4" stroke="#000" stroke-width="3.3" stroke-linecap="butt"/>
<line x1="786.4" y1="1674.7" x2="802.8" y2="1674.7" stroke="#000" stroke-width="3.3" stroke-linecap="butt"/>
<line x1="786.4" y1="1769.7" x2="802.8" y2="1769.7" stroke="#000" stroke-width="3.3" stroke-linecap="butt"/>
<line x1="786.4" y1="1864.7" x2="802.8" y2="1864.7" stroke="#000" stroke-width="3.3" stroke-linecap="butt"/>
<line x1="786.4" y1="1959.0" x2="802.8" y2="1959.0" stroke="#000" stroke-width="3.3" stroke-linecap="butt"/>
<line x1="786.4" y1="2053.4" x2="802.8" y2="2053.4" stroke="#000" stroke-width="3.3" stroke-linecap="butt"/>
<line x1="879.8" y1="2053.4" x2="879.8" y2="2068.4" stroke="#000" stroke-width="3.3" stroke-linecap="butt"/>
<line x1="1058.4" y1="2053.4" x2="1058.4" y2="2068.4" stroke="#000" stroke-width="3.3" stroke-linecap="butt"/>
<text x="781.0" y="1681.5" font-size="19" font-weight="bold" text-anchor="end" fill="#000" >400</text>
<text x="781.0" y="1776.5" font-size="19" font-weight="bold" text-anchor="end" fill="#000" >300</text>
<text x="781.0" y="1871.5" font-size="19" font-weight="bold" text-anchor="end" fill="#000" >200</text>
<text x="781.0" y="1965.8" font-size="19" font-weight="bold" text-anchor="end" fill="#000" >100</text>
<text x="781.0" y="2060.2" font-size="19" font-weight="bold" text-anchor="end" fill="#000" >0</text>
<line x1="846.5" y1="1814.3" x2="846.5" y2="1819.1" stroke="#000080" stroke-width="2.0" stroke-linecap="butt"/>
<line x1="835.3" y1="1814.3" x2="857.8" y2="1814.3" stroke="#000080" stroke-width="2.0" stroke-linecap="butt"/>
<rect x="824.4" y="1819.1" width="44.3" height="232.7" fill="#000080" />
<line x1="914.0" y1="1849.1" x2="914.0" y2="1856.6" stroke="#a00000" stroke-width="2.0" stroke-linecap="butt"/>
<line x1="902.7" y1="1849.1" x2="925.2" y2="1849.1" stroke="#a00000" stroke-width="2.0" stroke-linecap="butt"/>
<rect x="891.8" y="1856.6" width="44.3" height="195.2" fill="#a00000" />
<line x1="1025.2" y1="1749.3" x2="1025.2" y2="1755.9" stroke="#000080" stroke-width="2.0" stroke-linecap="butt"/>
<line x1="1013.9" y1="1749.3" x2="1036.4" y2="1749.3" stroke="#000080" stroke-width="2.0" stroke-linecap="butt"/>
<rect x="1003.0" y="1755.9" width="44.3" height="295.9" fill="#000080" />
<line x1="1091.9" y1="1800.0" x2="1091.9" y2="1810.7" stroke="#a00000" stroke-width="2.0" stroke-linecap="butt"/>
<line x1="1080.7" y1="1800.0" x2="1103.2" y2="1800.0" stroke="#a00000" stroke-width="2.0" stroke-linecap="butt"/>
<rect x="1069.8" y="1810.7" width="44.3" height="241.1" fill="#a00000" />
<line x1="838.2" y1="1798.8" x2="923.3" y2="1798.8" stroke="#000" stroke-width="2.2" stroke-linecap="butt"/>
<text x="878.7" y="1792.8" font-size="26" font-weight="bold" text-anchor="middle" fill="#000" letter-spacing="0.8">**</text>
<line x1="1019.4" y1="1733.8" x2="1103.6" y2="1733.8" stroke="#000" stroke-width="2.2" stroke-linecap="butt"/>
<text x="1060.0" y="1728.6" font-size="26" font-weight="bold" text-anchor="middle" fill="#000" letter-spacing="0.8">**</text>
<text x="878.5" y="2090.9" font-size="19.1" font-weight="bold" text-anchor="middle" fill="#000" textLength="118.0" lengthAdjust="spacingAndGlyphs" >MDA-MB-231</text>
<text x="1057.6" y="2090.9" font-size="19.1" font-weight="bold" text-anchor="middle" fill="#000" textLength="58.4" lengthAdjust="spacingAndGlyphs" >MCF-7</text>
<rect x="823.2" y="1668.4" width="39.5" height="7.8" fill="#000080" />
<rect x="823.2" y="1694.8" width="39.5" height="7.8" fill="#a00000" />
<text x="886.1" y="1679.8" font-size="19.3" font-weight="normal" text-anchor="start" fill="#000" textLength="48.4" lengthAdjust="spacingAndGlyphs" >si-NC</text>
<text x="886.1" y="1706.2" font-size="19.3" font-weight="normal" text-anchor="start" fill="#000" textLength="115.0" lengthAdjust="spacingAndGlyphs" >si-circRPPH1</text>
<text x="731.5" y="1862.2" font-size="27" font-weight="bold" text-anchor="middle" fill="#000" transform="rotate(-90 731.5 1862.2)" textLength="198.0" lengthAdjust="spacingAndGlyphs" >Colony number</text>
<text x="1424.8" y="1552.5" font-size="19.5" font-weight="normal" text-anchor="middle" fill="#000" textLength="127.7" lengthAdjust="spacingAndGlyphs" stroke="#000" stroke-width="0.45">MDA-MB-231</text>
<text x="1610.4" y="1552.5" font-size="19.5" font-weight="normal" text-anchor="middle" fill="#000" textLength="60.3" lengthAdjust="spacingAndGlyphs" stroke="#000" stroke-width="0.45">MCF-7</text>
<line x1="1338.6" y1="1561.4" x2="1509.3" y2="1561.4" stroke="#000" stroke-width="1.5" stroke-linecap="butt"/>
<line x1="1530.6" y1="1561.4" x2="1701.0" y2="1561.4" stroke="#000" stroke-width="1.5" stroke-linecap="butt"/>
<text x="1329.0" y="1584.1" font-size="18.5" font-weight="normal" text-anchor="end" fill="#000" textLength="50.7" lengthAdjust="spacingAndGlyphs" stroke="#000" stroke-width="0.45">si-NC</text>
<text x="1327.5" y="1609.3" font-size="18.5" font-weight="normal" text-anchor="end" fill="#000" textLength="114.6" lengthAdjust="spacingAndGlyphs" stroke="#000" stroke-width="0.45">si-circRPPH1</text>
<text x="1377.0" y="1583.0" font-size="18" font-weight="normal" text-anchor="middle" fill="#000" stroke="#000" stroke-width="0.45">+</text>
<text x="1377.0" y="1609.0" font-size="18" font-weight="normal" text-anchor="middle" fill="#000" stroke="#000" stroke-width="0.45">-</text>
<text x="1472.8" y="1583.0" font-size="18" font-weight="normal" text-anchor="middle" fill="#000" stroke="#000" stroke-width="0.45">-</text>
<text x="1472.8" y="1609.0" font-size="18" font-weight="normal" text-anchor="middle" fill="#000" stroke="#000" stroke-width="0.45">+</text>
<text x="1563.3" y="1583.0" font-size="18" font-weight="normal" text-anchor="middle" fill="#000" stroke="#000" stroke-width="0.45">+</text>
<text x="1563.3" y="1609.0" font-size="18" font-weight="normal" text-anchor="middle" fill="#000" stroke="#000" stroke-width="0.45">-</text>
<text x="1659.0" y="1583.0" font-size="18" font-weight="normal" text-anchor="middle" fill="#000" stroke="#000" stroke-width="0.45">-</text>
<text x="1659.0" y="1609.0" font-size="18" font-weight="normal" text-anchor="middle" fill="#000" stroke="#000" stroke-width="0.45">+</text>
<text x="1259.8" y="1646.6" font-size="18.5" font-weight="normal" text-anchor="start" fill="#000" textLength="51.5" lengthAdjust="spacingAndGlyphs" stroke="#000" stroke-width="0.45">PCNA</text>
<text x="1259.8" y="1701.6" font-size="18.5" font-weight="normal" text-anchor="start" fill="#000" textLength="56.2" lengthAdjust="spacingAndGlyphs" stroke="#000" stroke-width="0.45">ACTIN</text>
<g>
<rect x="1335.0" y="1620.7" width="181.4" height="45.0" fill="#c2c2c2" filter="url(#bl1)"/>
<g filter="url(#blur2)" clip-path="url(#bl1c)">
<rect x="1343.9" y="1636.9" width="68.5" height="8.0" rx="4.0" fill="#1a1a1a" opacity="0.85" transform="rotate(2 1378.2 1640.9)"/>
<rect x="1440.8" y="1640.0" width="69.2" height="7.5" rx="3.8" fill="#2a2a2a" opacity="0.7" transform="rotate(1 1475.4 1643.7)"/>
</g>
<rect x="1335.0" y="1620.7" width="181.4" height="45.0" fill="none" stroke="#141414" stroke-width="2"/>
</g>
<g>
<rect x="1524.2" y="1620.7" width="182.1" height="45.0" fill="#cacaca" filter="url(#bl2)"/>
<g filter="url(#blur2)" clip-path="url(#bl2c)">
<rect x="1531.3" y="1637.5" width="65.6" height="9.5" rx="4.8" fill="#0c0c0c" opacity="0.95" transform="rotate(0 1564.1 1642.3)"/>
<rect x="1630.7" y="1640.0" width="65.6" height="7.5" rx="3.8" fill="#141414" opacity="0.9" transform="rotate(1 1663.5 1643.7)"/>
</g>
<rect x="1524.2" y="1620.7" width="182.1" height="45.0" fill="none" stroke="#141414" stroke-width="2"/>
</g>
<g>
<rect x="1335.0" y="1677.4" width="181.4" height="46.5" fill="#d6d6d6" filter="url(#bl3)"/>
<g filter="url(#blur2)" clip-path="url(#bl3c)">
<rect x="1341.5" y="1694.3" width="75.6" height="21.0" rx="10.5" fill="#050505" opacity="1" transform="rotate(1 1379.3 1704.8)"/>
<rect x="1430.2" y="1696.9" width="79.8" height="20.0" rx="10.0" fill="#050505" opacity="1" transform="rotate(1 1470.1 1706.9)"/>
</g>
<rect x="1335.0" y="1677.4" width="181.4" height="46.5" fill="none" stroke="#141414" stroke-width="2"/>
</g>
<g>
<rect x="1524.2" y="1677.4" width="182.1" height="46.5" fill="#aeaeae" filter="url(#bl4)"/>
<g filter="url(#blur2)" clip-path="url(#bl4c)">
<rect x="1529.5" y="1693.9" width="74.5" height="14.0" rx="7.0" fill="#050505" opacity="1" transform="rotate(-1 1566.8 1700.9)"/>
<rect x="1625.4" y="1693.9" width="74.5" height="14.0" rx="7.0" fill="#050505" opacity="1" transform="rotate(1 1662.6 1700.9)"/>
</g>
<rect x="1524.2" y="1677.4" width="182.1" height="46.5" fill="none" stroke="#141414" stroke-width="2"/>
</g>
<line x1="1342.2" y1="1756.6" x2="1342.2" y2="2146.1" stroke="#000" stroke-width="3.3" stroke-linecap="butt"/>
<line x1="1326.6" y1="2144.4" x2="1683.9" y2="2144.4" stroke="#000" stroke-width="3.3" stroke-linecap="butt"/>
<line x1="1326.6" y1="1758.3" x2="1342.2" y2="1758.3" stroke="#000" stroke-width="3.3" stroke-linecap="butt"/>
<line x1="1326.6" y1="1855.2" x2="1342.2" y2="1855.2" stroke="#000" stroke-width="3.3" stroke-linecap="butt"/>
<line x1="1326.6" y1="1951.7" x2="1342.2" y2="1951.7" stroke="#000" stroke-width="3.3" stroke-linecap="butt"/>
<line x1="1326.6" y1="2048.2" x2="1342.2" y2="2048.2" stroke="#000" stroke-width="3.3" stroke-linecap="butt"/>
<line x1="1326.6" y1="2144.4" x2="1342.2" y2="2144.4" stroke="#000" stroke-width="3.3" stroke-linecap="butt"/>
<line x1="1421.7" y1="2144.4" x2="1421.7" y2="2159.4" stroke="#000" stroke-width="3.3" stroke-linecap="butt"/>
<line x1="1602.3" y1="2144.4" x2="1602.3" y2="2159.4" stroke="#000" stroke-width="3.3" stroke-linecap="butt"/>
<text x="1321.5" y="1765.0" font-size="18.7" font-weight="bold" text-anchor="end" fill="#000" >2.0</text>
<text x="1321.5" y="1861.9" font-size="18.7" font-weight="bold" text-anchor="end" fill="#000" >1.5</text>
<text x="1321.5" y="1958.4" font-size="18.7" font-weight="bold" text-anchor="end" fill="#000" >1.0</text>
<text x="1321.5" y="2054.9" font-size="18.7" font-weight="bold" text-anchor="end" fill="#000" >0.5</text>
<text x="1321.5" y="2151.1" font-size="18.7" font-weight="bold" text-anchor="end" fill="#000" >0.0</text>
<line x1="1388.0" y1="2071.3" x2="1388.0" y2="2079.8" stroke="#000080" stroke-width="2.0" stroke-linecap="butt"/>
<line x1="1377.5" y1="2071.3" x2="1398.5" y2="2071.3" stroke="#000080" stroke-width="2.0" stroke-linecap="butt"/>
<rect x="1365.2" y="2079.8" width="45.5" height="63.0" fill="#000080" />
<line x1="1455.9" y1="2092.6" x2="1455.9" y2="2097.6" stroke="#a00000" stroke-width="2.0" stroke-linecap="butt"/>
<line x1="1445.4" y1="2092.6" x2="1466.4" y2="2092.6" stroke="#a00000" stroke-width="2.0" stroke-linecap="butt"/>
<rect x="1433.0" y="2097.6" width="45.8" height="45.2" fill="#a00000" />
<line x1="1569.1" y1="1868.0" x2="1569.1" y2="1881.1" stroke="#000080" stroke-width="2.0" stroke-linecap="butt"/>
<line x1="1558.6" y1="1868.0" x2="1579.6" y2="1868.0" stroke="#000080" stroke-width="2.0" stroke-linecap="butt"/>
<rect x="1546.6" y="1881.1" width="45.0" height="261.7" fill="#000080" />
<line x1="1637.2" y1="1941.1" x2="1637.2" y2="1947.1" stroke="#a00000" stroke-width="2.0" stroke-linecap="butt"/>
<line x1="1626.8" y1="1941.1" x2="1647.8" y2="1941.1" stroke="#a00000" stroke-width="2.0" stroke-linecap="butt"/>
<rect x="1614.7" y="1947.1" width="45.1" height="195.7" fill="#a00000" />
<line x1="1388.7" y1="2057.5" x2="1456.1" y2="2057.5" stroke="#000" stroke-width="2.2" stroke-linecap="butt"/>
<text x="1421.3" y="2051.5" font-size="26" font-weight="bold" text-anchor="middle" fill="#000" >*</text>
<line x1="1569.6" y1="1856.0" x2="1637.6" y2="1856.0" stroke="#000" stroke-width="2.2" stroke-linecap="butt"/>
<text x="1601.0" y="1849.3" font-size="26" font-weight="bold" text-anchor="middle" fill="#000" letter-spacing="0.8">**</text>
<text x="1420.6" y="2182.4" font-size="19.6" font-weight="bold" text-anchor="middle" fill="#000" textLength="120.6" lengthAdjust="spacingAndGlyphs" >MDA-MB-231</text>
<text x="1602.6" y="2182.4" font-size="19.6" font-weight="bold" text-anchor="middle" fill="#000" textLength="59.6" lengthAdjust="spacingAndGlyphs" >MCF-7</text>
<rect x="1368.8" y="1776.8" width="40.8" height="8.2" fill="#000080" />
<rect x="1368.8" y="1804.1" width="40.8" height="8.2" fill="#a00000" />
<text x="1432.0" y="1787.4" font-size="19.7" font-weight="normal" text-anchor="start" fill="#000" textLength="49.2" lengthAdjust="spacingAndGlyphs" >si-NC</text>
<text x="1432.0" y="1815.1" font-size="19.7" font-weight="normal" text-anchor="start" fill="#000" textLength="117.0" lengthAdjust="spacingAndGlyphs" >si-circRPPH1</text>
<text x="1250.5" y="1951.9" font-size="21.8" font-weight="bold" text-anchor="middle" fill="#000" transform="rotate(-90 1250.5 1951.9)" textLength="299.0" lengthAdjust="spacingAndGlyphs" >Relative expression of PCNA</text>
<text x="1279.0" y="1952.1" font-size="21.8" font-weight="bold" text-anchor="middle" fill="#000" transform="rotate(-90 1279.0 1952.1)" textLength="231.4" lengthAdjust="spacingAndGlyphs" >(normalized to ACTIN)</text>
</svg>
</body></html>
